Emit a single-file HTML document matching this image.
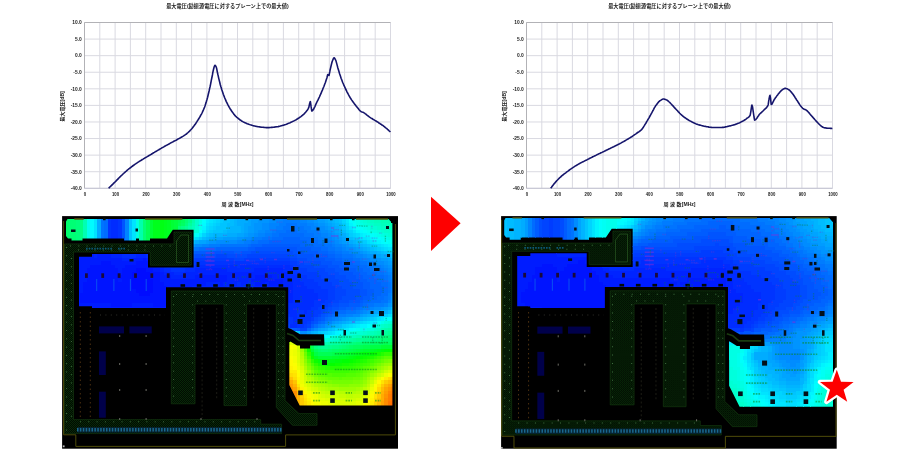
<!DOCTYPE html>
<html lang="ja"><head><meta charset="utf-8"><title>最大電圧</title>
<style>html,body{margin:0;padding:0;background:#fff}body{width:900px;height:450px;overflow:hidden}svg{display:block}</style>
</head><body>
<svg width="900" height="450" viewBox="0 0 900 450">
<defs><pattern id="hx" width="2" height="2" patternUnits="userSpaceOnUse"><rect width="2" height="2" fill="#010b01"/><rect width="1" height="1" fill="#082808"/><rect x="1" y="1" width="1" height="1" fill="#082808"/></pattern></defs>
<rect width="900" height="450" fill="#fff"/>
<g>
<rect x="84.5" y="22.5" width="306.0" height="165.8" fill="#fff"/>
<path d="M84.50 22.5V188.3M99.80 22.5V188.3M115.10 22.5V188.3M130.40 22.5V188.3M145.70 22.5V188.3M161.00 22.5V188.3M176.30 22.5V188.3M191.60 22.5V188.3M206.90 22.5V188.3M222.20 22.5V188.3M237.50 22.5V188.3M252.80 22.5V188.3M268.10 22.5V188.3M283.40 22.5V188.3M298.70 22.5V188.3M314.00 22.5V188.3M329.30 22.5V188.3M344.60 22.5V188.3M359.90 22.5V188.3M375.20 22.5V188.3M390.50 22.5V188.3M84.5 22.50H390.5M84.5 39.08H390.5M84.5 55.66H390.5M84.5 72.24H390.5M84.5 88.82H390.5M84.5 105.40H390.5M84.5 121.98H390.5M84.5 138.56H390.5M84.5 155.14H390.5M84.5 171.72H390.5M84.5 188.30H390.5" stroke="#d9d9e1" stroke-width="1" fill="none"/>
<path d="M390.5 22.5H84.5V188.3" stroke="#b2b2b6" stroke-width="1" fill="none"/>
<path d="M84.5 188.3H390.5" stroke="#c4c4d2" stroke-width="1" fill="none"/>
<polyline points="108.6,188.3 109.3,187.6 110.1,186.8 110.8,186.1 111.6,185.4 112.3,184.6 113.1,183.9 113.8,183.1 114.6,182.4 115.0,182.0 115.3,181.7 116.1,180.9 116.8,180.1 117.6,179.4 118.3,178.6 119.1,177.8 119.8,177.1 120.6,176.3 121.3,175.6 122.0,175.0 122.1,174.9 122.8,174.2 123.6,173.5 124.3,172.8 125.1,172.1 125.8,171.5 126.6,170.8 127.3,170.2 128.1,169.5 128.8,168.9 129.6,168.3 130.0,168.0 130.3,167.7 131.1,167.2 131.8,166.6 132.6,166.0 133.3,165.5 134.1,165.0 134.8,164.4 135.6,163.9 136.3,163.4 137.1,162.9 137.8,162.4 138.6,161.9 139.3,161.4 140.0,161.0 140.1,160.9 140.8,160.5 141.6,160.0 142.3,159.5 143.1,159.1 143.8,158.6 144.6,158.2 145.3,157.7 146.1,157.3 146.8,156.9 147.6,156.4 148.3,156.0 149.1,155.5 149.8,155.1 150.0,155.0 150.6,154.6 151.3,154.2 152.1,153.7 152.8,153.3 153.6,152.8 154.3,152.4 155.1,151.9 155.8,151.5 156.6,151.0 157.3,150.6 158.1,150.1 158.8,149.7 159.6,149.2 160.0,149.0 160.3,148.8 161.1,148.4 161.8,147.9 162.6,147.5 163.3,147.1 164.1,146.7 164.8,146.2 165.6,145.8 166.3,145.4 167.1,145.0 167.8,144.6 168.6,144.2 169.3,143.8 170.0,143.4 170.1,143.3 170.8,142.9 171.6,142.5 172.3,142.1 173.1,141.7 173.8,141.3 174.6,140.9 175.3,140.6 176.1,140.2 176.8,139.8 177.6,139.3 178.3,138.9 179.1,138.5 179.8,138.1 180.0,138.0 180.6,137.7 181.3,137.2 182.1,136.8 182.8,136.4 183.6,135.9 184.3,135.4 185.1,134.9 185.8,134.4 186.0,134.3 186.6,133.8 187.3,133.2 188.1,132.5 188.8,131.8 189.6,131.1 190.3,130.3 191.1,129.5 191.8,128.7 192.0,128.5 192.6,127.8 193.3,126.8 194.1,125.8 194.8,124.8 195.6,123.7 196.3,122.6 197.1,121.4 197.8,120.2 198.0,120.0 198.6,119.0 199.3,117.8 200.1,116.5 200.8,115.2 201.6,113.8 202.0,113.0 202.3,112.3 203.1,110.7 203.8,109.0 204.6,107.1 205.0,106.0 205.3,105.0 206.1,102.6 206.8,100.0 207.0,99.5 207.6,97.2 208.3,94.2 209.1,91.0 209.8,87.7 210.0,87.0 210.6,84.1 211.3,80.3 212.1,76.5 212.4,75.0 212.8,72.7 213.6,69.0 214.0,67.5 214.3,66.4 215.0,65.2 215.1,65.2 215.8,66.2 216.2,67.0 216.6,68.2 217.3,71.8 218.0,75.0 218.1,75.4 218.8,78.6 219.6,81.7 220.3,84.7 221.0,87.0 221.1,87.3 221.8,89.8 222.6,92.1 223.3,94.2 224.1,96.3 224.8,98.1 225.0,98.5 225.6,99.9 226.3,101.6 227.1,103.2 227.8,104.7 228.6,106.1 229.3,107.4 230.0,108.5 230.1,108.7 230.8,109.8 231.6,111.0 232.3,112.1 233.1,113.1 233.8,114.1 234.6,115.0 235.3,115.9 236.0,116.5 236.1,116.6 236.8,117.3 237.6,117.9 238.3,118.5 239.1,119.1 239.8,119.7 240.6,120.2 241.3,120.7 242.1,121.2 242.8,121.6 243.6,122.0 244.0,122.2 244.3,122.4 245.1,122.7 245.8,123.1 246.6,123.4 247.3,123.7 248.1,124.0 248.8,124.3 249.6,124.6 250.3,124.8 251.1,125.0 251.8,125.3 252.0,125.3 252.6,125.5 253.3,125.7 254.1,125.9 254.8,126.0 255.6,126.2 256.4,126.4 257.1,126.5 257.9,126.7 258.6,126.8 259.4,126.9 260.0,127.0 260.1,127.0 260.9,127.1 261.6,127.2 262.4,127.3 263.1,127.3 263.9,127.4 264.6,127.5 265.4,127.5 266.1,127.6 266.9,127.6 267.6,127.6 268.0,127.6 268.4,127.6 269.1,127.6 269.9,127.5 270.6,127.5 271.4,127.4 272.1,127.4 272.9,127.3 273.6,127.2 274.4,127.1 275.1,127.0 275.9,126.9 276.0,126.9 276.6,126.8 277.4,126.7 278.1,126.6 278.9,126.4 279.6,126.2 280.4,126.0 281.1,125.8 281.9,125.6 282.6,125.4 283.4,125.2 284.0,125.0 284.1,125.0 284.9,124.7 285.6,124.5 286.4,124.2 287.1,123.9 287.9,123.6 288.6,123.3 289.4,123.0 290.1,122.7 290.9,122.3 291.6,122.0 292.0,121.8 292.4,121.6 293.1,121.3 293.9,120.9 294.6,120.5 295.4,120.1 296.1,119.7 296.9,119.2 297.6,118.8 298.4,118.3 299.1,117.8 299.9,117.3 300.0,117.2 300.6,116.8 301.4,116.2 302.1,115.6 302.9,115.0 303.6,114.3 304.4,113.6 305.1,112.8 305.9,112.0 306.0,111.8 306.6,111.1 307.4,110.0 308.1,108.8 308.8,107.3 308.9,107.2 309.6,103.7 310.3,101.5 310.4,101.5 311.1,106.7 311.8,111.0 311.9,111.0 312.6,110.6 313.4,109.6 314.1,108.2 314.9,106.6 315.6,104.9 316.4,103.2 316.7,102.5 317.1,101.7 317.9,100.2 318.6,98.7 319.4,97.0 320.1,95.4 320.9,93.7 321.6,91.9 322.2,90.5 322.4,90.1 323.1,88.3 323.9,86.5 324.6,84.5 325.4,82.5 326.1,80.3 326.7,78.5 326.9,78.0 327.6,74.8 327.8,74.6 328.4,75.1 328.9,75.5 329.1,75.2 329.9,71.2 330.0,70.5 330.6,67.8 331.4,64.5 332.1,61.8 332.2,61.5 332.9,59.7 333.6,58.1 334.0,57.8 334.4,58.0 335.1,59.0 335.6,60.0 335.9,60.6 336.6,63.1 337.4,66.1 337.8,67.8 338.1,68.8 338.9,71.3 339.6,73.8 340.4,76.1 341.0,78.0 341.1,78.3 341.9,80.3 342.6,82.2 343.4,84.0 344.1,85.7 344.9,87.4 345.6,89.0 346.4,90.5 347.1,92.1 347.9,93.5 348.6,94.9 349.4,96.3 350.1,97.5 350.9,98.8 351.0,99.0 351.6,99.9 352.4,101.0 353.1,102.1 353.9,103.1 354.6,104.1 355.4,105.0 356.1,106.0 356.7,106.7 356.9,106.9 357.6,107.8 358.4,108.8 359.1,109.8 359.9,110.6 360.6,111.2 361.0,111.5 361.4,111.7 362.1,112.0 362.9,112.2 363.3,112.4 363.6,112.6 364.4,113.0 365.1,113.6 365.9,114.2 366.6,114.8 367.4,115.4 368.1,116.0 368.9,116.6 369.0,116.7 369.6,117.1 370.4,117.6 371.1,118.1 371.9,118.5 372.6,119.0 373.4,119.5 374.1,119.9 374.9,120.4 375.6,120.8 376.4,121.3 377.1,121.7 377.8,122.2 377.9,122.2 378.6,122.7 379.4,123.2 380.1,123.7 380.9,124.2 381.6,124.7 382.4,125.2 383.1,125.7 383.9,126.3 384.4,126.7 384.6,126.9 385.4,127.5 386.1,128.1 386.9,128.7 387.6,129.4 388.4,130.1 389.1,130.8 389.9,131.5 390.4,132.0" fill="none" stroke="#15156c" stroke-width="1.6" stroke-linejoin="round" stroke-linecap="butt"/>
<g font-family='"Liberation Sans", "Noto Sans CJK JP", sans-serif' font-size="4.9" font-weight="700" fill="#222" text-anchor="end">
<text x="81.8" y="24.30">10.0</text>
<text x="81.8" y="40.88">5.0</text>
<text x="81.8" y="57.46">0.0</text>
<text x="81.8" y="74.04">-5.0</text>
<text x="81.8" y="90.62">-10.0</text>
<text x="81.8" y="107.20">-15.0</text>
<text x="81.8" y="123.78">-20.0</text>
<text x="81.8" y="140.36">-25.0</text>
<text x="81.8" y="156.94">-30.0</text>
<text x="81.8" y="173.52">-35.0</text>
<text x="81.8" y="190.10">-40.0</text>
</g>
<g font-family='"Liberation Sans", "Noto Sans CJK JP", sans-serif' font-size="5" font-weight="700" fill="#222" text-anchor="middle">
<text transform="translate(84.90 196) scale(0.86 1)">0</text>
<text transform="translate(115.50 196) scale(0.86 1)">100</text>
<text transform="translate(146.10 196) scale(0.86 1)">200</text>
<text transform="translate(176.70 196) scale(0.86 1)">300</text>
<text transform="translate(207.30 196) scale(0.86 1)">400</text>
<text transform="translate(237.90 196) scale(0.86 1)">500</text>
<text transform="translate(268.50 196) scale(0.86 1)">600</text>
<text transform="translate(299.10 196) scale(0.86 1)">700</text>
<text transform="translate(329.70 196) scale(0.86 1)">800</text>
<text transform="translate(360.30 196) scale(0.86 1)">900</text>
<text transform="translate(390.90 196) scale(0.86 1)">1000</text>
</g>
<text x="227.4" y="7.5" font-family='"Liberation Sans", "Noto Sans CJK JP", sans-serif' font-size="5.2" font-weight="700" fill="#222" text-anchor="middle">最大電圧(励振源電圧に対するプレーン上での最大値)</text>
<text x="237.6" y="206.2" font-family='"Liberation Sans", "Noto Sans CJK JP", sans-serif' font-size="5.1" font-weight="700" fill="#222" text-anchor="middle">周 波 数[MHz]</text>
<text transform="translate(63.5 106.5) rotate(-90)" font-family='"Liberation Sans", "Noto Sans CJK JP", sans-serif' font-size="5.1" font-weight="700" fill="#222" text-anchor="middle">最大電圧[dB]</text>
</g>
<g>
<rect x="526.5" y="22.5" width="306.0" height="165.8" fill="#fff"/>
<path d="M526.50 22.5V188.3M541.80 22.5V188.3M557.10 22.5V188.3M572.40 22.5V188.3M587.70 22.5V188.3M603.00 22.5V188.3M618.30 22.5V188.3M633.60 22.5V188.3M648.90 22.5V188.3M664.20 22.5V188.3M679.50 22.5V188.3M694.80 22.5V188.3M710.10 22.5V188.3M725.40 22.5V188.3M740.70 22.5V188.3M756.00 22.5V188.3M771.30 22.5V188.3M786.60 22.5V188.3M801.90 22.5V188.3M817.20 22.5V188.3M832.50 22.5V188.3M526.5 22.50H832.5M526.5 39.08H832.5M526.5 55.66H832.5M526.5 72.24H832.5M526.5 88.82H832.5M526.5 105.40H832.5M526.5 121.98H832.5M526.5 138.56H832.5M526.5 155.14H832.5M526.5 171.72H832.5M526.5 188.30H832.5" stroke="#d9d9e1" stroke-width="1" fill="none"/>
<path d="M832.5 22.5H526.5V188.3" stroke="#b2b2b6" stroke-width="1" fill="none"/>
<path d="M526.5 188.3H832.5" stroke="#c4c4d2" stroke-width="1" fill="none"/>
<polyline points="550.7,188.3 551.5,187.3 552.2,186.3 553.0,185.3 553.7,184.3 554.5,183.4 555.2,182.5 556.0,181.6 556.7,180.8 557.5,180.0 558.2,179.2 558.7,178.7 559.0,178.5 559.7,177.7 560.5,177.1 561.2,176.4 562.0,175.7 562.7,175.1 563.5,174.5 564.2,173.9 565.0,173.3 565.7,172.8 566.5,172.2 566.7,172.0 567.2,171.6 568.0,171.1 568.7,170.5 569.5,170.0 570.2,169.4 571.0,168.9 571.7,168.4 572.5,167.9 573.2,167.4 574.0,166.9 574.7,166.4 575.5,165.9 576.2,165.5 577.0,165.0 577.3,164.8 577.7,164.6 578.5,164.1 579.2,163.7 580.0,163.3 580.7,162.9 581.5,162.5 582.2,162.1 583.0,161.7 583.7,161.4 584.5,161.0 585.2,160.6 586.0,160.2 586.7,159.9 587.5,159.5 588.0,159.2 588.2,159.1 589.0,158.7 589.7,158.3 590.5,158.0 591.2,157.6 592.0,157.2 592.7,156.8 593.5,156.5 594.2,156.1 595.0,155.7 595.7,155.4 596.5,155.0 597.2,154.6 598.0,154.3 598.7,153.9 599.5,153.5 600.2,153.2 601.0,152.8 601.7,152.5 602.5,152.1 603.2,151.7 604.0,151.4 604.7,151.0 605.5,150.7 606.2,150.3 607.0,149.9 607.7,149.6 608.5,149.2 609.2,148.8 609.3,148.8 610.0,148.5 610.7,148.1 611.5,147.8 612.2,147.4 613.0,147.0 613.7,146.7 614.5,146.3 615.2,145.9 616.0,145.6 616.7,145.2 617.5,144.8 618.2,144.4 619.0,144.1 619.7,143.7 620.0,143.5 620.5,143.3 621.2,142.9 622.0,142.4 622.7,142.0 623.5,141.6 624.2,141.2 625.0,140.8 625.7,140.3 626.5,139.9 627.2,139.4 628.0,139.0 628.7,138.5 629.5,138.1 630.2,137.6 630.7,137.3 631.0,137.1 631.7,136.7 632.5,136.2 633.2,135.7 634.0,135.1 634.7,134.6 635.5,134.1 636.2,133.6 637.0,133.0 637.3,132.8 637.7,132.5 638.5,132.0 639.2,131.6 640.0,131.0 640.7,130.4 641.3,129.9 641.5,129.7 642.2,128.9 643.0,127.8 643.7,126.6 644.5,125.4 645.2,124.2 645.3,124.0 646.0,123.0 646.7,121.7 647.5,120.4 648.2,119.1 649.0,117.8 649.7,116.5 650.5,115.1 650.7,114.7 651.2,113.8 652.0,112.4 652.7,111.0 653.5,109.6 654.2,108.2 655.0,106.9 655.7,105.7 656.0,105.3 656.5,104.7 657.2,103.7 658.0,102.7 658.7,101.8 659.5,101.1 660.0,100.7 660.2,100.6 661.0,100.1 661.7,99.6 662.5,99.2 663.2,99.0 663.5,99.0 664.0,99.0 664.7,99.2 665.5,99.5 666.2,99.8 666.7,100.0 667.0,100.1 667.7,100.6 668.5,101.3 669.2,102.0 670.0,102.7 670.7,103.5 671.5,104.3 672.2,105.1 673.0,105.9 673.7,106.7 674.5,107.6 675.2,108.4 676.0,109.2 676.0,109.3 676.7,110.0 677.5,110.8 678.2,111.6 679.0,112.4 679.7,113.2 680.5,114.0 681.2,114.7 682.0,115.4 682.7,116.0 683.5,116.6 684.2,117.2 685.0,117.7 685.7,118.2 686.5,118.8 687.2,119.2 688.0,119.7 688.7,120.2 689.3,120.5 689.5,120.6 690.2,121.0 691.0,121.4 691.7,121.8 692.5,122.2 693.2,122.6 694.0,122.9 694.7,123.3 695.5,123.6 696.2,123.9 697.0,124.2 697.3,124.3 697.7,124.4 698.5,124.7 699.2,124.9 700.0,125.1 700.7,125.3 701.5,125.5 702.2,125.7 703.0,125.9 703.7,126.1 704.5,126.2 705.2,126.4 705.3,126.4 706.0,126.5 706.7,126.7 707.5,126.8 708.2,126.9 709.0,127.1 709.7,127.2 710.5,127.3 711.2,127.4 712.0,127.5 712.7,127.5 713.3,127.5 713.5,127.5 714.2,127.5 715.0,127.5 715.7,127.5 716.5,127.5 717.2,127.5 718.0,127.5 718.7,127.5 719.5,127.5 720.2,127.5 721.0,127.5 721.3,127.5 721.7,127.5 722.5,127.4 723.2,127.4 724.0,127.2 724.7,127.1 725.5,126.9 726.2,126.8 727.0,126.6 727.7,126.4 728.5,126.2 729.2,126.0 729.3,126.0 730.0,125.9 730.7,125.7 731.5,125.5 732.2,125.3 733.0,125.1 733.7,124.9 734.5,124.7 735.2,124.4 736.0,124.2 736.2,124.1 736.7,123.9 737.5,123.6 738.2,123.3 739.0,123.0 739.7,122.7 740.5,122.3 741.2,121.9 742.0,121.5 742.4,121.3 742.7,121.1 743.5,120.7 744.2,120.3 745.0,119.8 745.7,119.3 746.5,118.7 747.1,118.2 747.2,118.1 748.0,117.6 748.7,117.1 749.5,116.3 750.2,115.1 751.0,110.7 751.0,110.4 751.7,105.5 751.9,105.0 752.5,106.7 753.2,111.4 753.3,112.0 754.0,117.0 754.6,120.1 754.7,120.1 755.5,119.8 756.2,119.0 757.0,118.0 757.7,116.8 758.5,115.7 759.2,114.6 759.5,114.3 760.0,113.8 760.7,113.1 761.5,112.4 762.2,111.7 763.0,111.0 763.7,110.2 764.2,109.7 764.5,109.4 765.2,108.8 766.0,108.2 766.7,107.4 767.5,106.3 768.1,105.0 768.2,104.6 768.9,99.5 769.0,99.2 769.7,95.8 770.0,95.3 770.5,98.2 771.2,104.5 772.0,104.0 772.7,102.7 773.5,101.1 774.2,99.7 774.3,99.5 775.0,98.5 775.7,97.4 776.5,96.4 777.2,95.4 778.0,94.4 778.2,94.1 778.7,93.5 779.5,92.6 780.2,91.7 781.0,90.9 781.7,90.2 782.1,89.9 782.5,89.7 783.2,89.1 784.0,88.7 784.7,88.4 785.2,88.3 785.5,88.3 786.2,88.5 787.0,88.7 787.7,89.1 788.3,89.4 788.5,89.5 789.2,90.0 790.0,90.7 790.7,91.5 791.5,92.4 792.2,93.3 793.0,94.3 793.7,95.3 794.5,96.5 795.2,97.7 796.0,98.8 796.7,100.0 796.9,100.3 797.5,101.1 798.2,102.3 799.0,103.5 799.7,104.6 800.5,105.7 801.2,106.6 801.5,107.0 802.0,107.5 802.7,108.3 803.1,108.6 803.5,108.8 804.2,109.2 805.0,109.5 805.7,109.8 806.2,110.1 806.5,110.3 807.2,110.9 808.0,111.7 808.7,112.5 809.5,113.4 810.2,114.3 810.9,115.1 811.0,115.2 811.7,116.0 812.5,116.9 813.2,117.7 814.0,118.6 814.7,119.5 815.5,120.3 816.2,121.2 817.0,121.9 817.1,122.1 817.7,122.7 818.5,123.5 819.2,124.3 820.0,125.0 820.7,125.7 821.5,126.3 821.8,126.5 822.2,126.7 823.0,127.2 823.7,127.5 824.5,127.8 824.9,127.9 825.2,127.9 826.0,128.0 826.7,128.1 827.5,128.2 828.2,128.2 829.0,128.3 829.5,128.3 829.7,128.3 830.5,128.4 831.2,128.4 832.0,128.5 832.4,128.5" fill="none" stroke="#15156c" stroke-width="1.6" stroke-linejoin="round" stroke-linecap="butt"/>
<g font-family='"Liberation Sans", "Noto Sans CJK JP", sans-serif' font-size="4.9" font-weight="700" fill="#222" text-anchor="end">
<text x="523.8" y="24.30">10.0</text>
<text x="523.8" y="40.88">5.0</text>
<text x="523.8" y="57.46">0.0</text>
<text x="523.8" y="74.04">-5.0</text>
<text x="523.8" y="90.62">-10.0</text>
<text x="523.8" y="107.20">-15.0</text>
<text x="523.8" y="123.78">-20.0</text>
<text x="523.8" y="140.36">-25.0</text>
<text x="523.8" y="156.94">-30.0</text>
<text x="523.8" y="173.52">-35.0</text>
<text x="523.8" y="190.10">-40.0</text>
</g>
<g font-family='"Liberation Sans", "Noto Sans CJK JP", sans-serif' font-size="5" font-weight="700" fill="#222" text-anchor="middle">
<text transform="translate(526.90 196) scale(0.86 1)">0</text>
<text transform="translate(557.50 196) scale(0.86 1)">100</text>
<text transform="translate(588.10 196) scale(0.86 1)">200</text>
<text transform="translate(618.70 196) scale(0.86 1)">300</text>
<text transform="translate(649.30 196) scale(0.86 1)">400</text>
<text transform="translate(679.90 196) scale(0.86 1)">500</text>
<text transform="translate(710.50 196) scale(0.86 1)">600</text>
<text transform="translate(741.10 196) scale(0.86 1)">700</text>
<text transform="translate(771.70 196) scale(0.86 1)">800</text>
<text transform="translate(802.30 196) scale(0.86 1)">900</text>
<text transform="translate(832.90 196) scale(0.86 1)">1000</text>
</g>
<text x="669.4" y="7.5" font-family='"Liberation Sans", "Noto Sans CJK JP", sans-serif' font-size="5.2" font-weight="700" fill="#222" text-anchor="middle">最大電圧(励振源電圧に対するプレーン上での最大値)</text>
<text x="679.6" y="206.2" font-family='"Liberation Sans", "Noto Sans CJK JP", sans-serif' font-size="5.1" font-weight="700" fill="#222" text-anchor="middle">周 波 数[MHz]</text>
<text transform="translate(505.5 106.5) rotate(-90)" font-family='"Liberation Sans", "Noto Sans CJK JP", sans-serif' font-size="5.1" font-weight="700" fill="#222" text-anchor="middle">最大電圧[dB]</text>
</g>
<g>
<rect x="62.1" y="216.1" width="335.9" height="232.6" fill="#000"/>
<g transform="matrix(1 0 0 1 0.00 0.00)">
<clipPath id="hc1"><polygon points="67.5,219.0 388.5,219.0 392.4,223.2 392.4,405.6 299.7,405.6 289.3,385.0 289.3,338.0 288.2,338.0 288.2,287.3 166.0,287.3 166.0,308.0 92.0,308.0 92.0,306.3 79.0,306.3 79.0,256.7 92.0,256.7 92.0,254.0 148.0,254.0 148.0,267.4 193.6,267.4 193.6,229.8 172.8,229.8 167.0,238.4 150.0,238.4 150.0,240.6 139.0,240.6 139.0,238.4 136.0,238.4 136.0,240.6 124.0,240.6 124.0,238.4 82.5,238.4 82.5,240.6 71.5,240.6 71.5,238.4 68.0,238.4 66.0,236.0 66.0,221.5"/></clipPath>
<g clip-path="url(#hc1)" shape-rendering="crispEdges">
<path fill="#00ff6c" d="M65.5 219.0h3.8v3.8h-3.8zM65.5 222.5h3.8v3.8h-3.8zM65.5 226.0h3.8v3.8h-3.8zM65.5 229.5h3.8v3.8h-3.8zM65.5 233.0h3.8v3.8h-3.8zM65.5 236.5h3.8v3.8h-3.8zM387.5 338.0h3.8v3.8h-3.8zM363.0 341.5h10.8v3.8h-10.8zM345.5 345.0h3.8v3.8h-3.8zM317.5 348.5h3.8v3.8h-3.8zM328.0 348.5h3.8v3.8h-3.8z"/>
<path fill="#00ff74" d="M69.0 219.0h7.3v3.8h-7.3zM142.5 219.0h3.8v3.8h-3.8zM184.5 219.0h3.8v3.8h-3.8zM69.0 222.5h7.3v3.8h-7.3zM142.5 222.5h3.8v3.8h-3.8zM69.0 226.0h7.3v3.8h-7.3zM142.5 226.0h3.8v3.8h-3.8zM177.5 226.0h3.8v3.8h-3.8zM69.0 229.5h7.3v3.8h-7.3zM142.5 229.5h3.8v3.8h-3.8zM69.0 233.0h7.3v3.8h-7.3zM142.5 233.0h3.8v3.8h-3.8zM69.0 236.5h7.3v3.8h-7.3zM142.5 236.5h3.8v3.8h-3.8zM69.0 240.0h7.3v3.8h-7.3zM142.5 240.0h3.8v3.8h-3.8zM293.0 334.5h3.8v3.8h-3.8zM380.5 338.0h7.3v3.8h-7.3zM356.0 341.5h7.3v3.8h-7.3zM342.0 345.0h3.8v3.8h-3.8zM321.0 348.5h7.3v3.8h-7.3z"/>
<path fill="#00ff7c" d="M76.0 219.0h3.8v3.8h-3.8zM76.0 222.5h3.8v3.8h-3.8zM184.5 222.5h3.8v3.8h-3.8zM76.0 226.0h3.8v3.8h-3.8zM76.0 229.5h3.8v3.8h-3.8zM76.0 233.0h3.8v3.8h-3.8zM76.0 236.5h3.8v3.8h-3.8zM76.0 240.0h3.8v3.8h-3.8zM387.5 334.5h7.3v3.8h-7.3zM303.5 338.0h3.8v3.8h-3.8zM377.0 338.0h3.8v3.8h-3.8zM352.5 341.5h3.8v3.8h-3.8zM314.0 345.0h3.8v3.8h-3.8zM338.5 345.0h3.8v3.8h-3.8z"/>
<path fill="#00ff84" d="M79.5 219.0h3.8v3.8h-3.8zM79.5 222.5h3.8v3.8h-3.8zM79.5 226.0h3.8v3.8h-3.8zM181.0 226.0h3.8v3.8h-3.8zM79.5 229.5h3.8v3.8h-3.8zM79.5 233.0h3.8v3.8h-3.8zM79.5 236.5h3.8v3.8h-3.8zM79.5 240.0h3.8v3.8h-3.8zM384.0 334.5h3.8v3.8h-3.8zM370.0 338.0h7.3v3.8h-7.3zM349.0 341.5h3.8v3.8h-3.8zM331.5 345.0h7.3v3.8h-7.3z"/>
<path fill="#00ffb4" d="M83.0 219.0h3.8v3.8h-3.8zM380.5 219.0h10.8v3.8h-10.8zM83.0 222.5h3.8v3.8h-3.8zM191.5 222.5h3.8v3.8h-3.8zM387.5 222.5h7.3v3.8h-7.3zM83.0 226.0h3.8v3.8h-3.8zM83.0 229.5h3.8v3.8h-3.8zM184.5 229.5h3.8v3.8h-3.8zM83.0 233.0h3.8v3.8h-3.8zM83.0 236.5h3.8v3.8h-3.8zM391.0 324.0h3.8v3.8h-3.8zM380.5 327.5h3.8v3.8h-3.8zM373.5 331.0h3.8v3.8h-3.8zM356.0 334.5h7.3v3.8h-7.3zM342.0 338.0h3.8v3.8h-3.8zM317.5 341.5h10.8v3.8h-10.8z"/>
<path fill="#00ffec" d="M86.5 219.0h3.8v3.8h-3.8zM356.0 219.0h3.8v3.8h-3.8zM86.5 222.5h3.8v3.8h-3.8zM198.5 222.5h3.8v3.8h-3.8zM356.0 222.5h3.8v3.8h-3.8zM86.5 226.0h3.8v3.8h-3.8zM198.5 226.0h3.8v3.8h-3.8zM363.0 226.0h3.8v3.8h-3.8zM86.5 229.5h3.8v3.8h-3.8zM86.5 233.0h3.8v3.8h-3.8zM191.5 233.0h3.8v3.8h-3.8zM377.0 233.0h3.8v3.8h-3.8zM86.5 236.5h3.8v3.8h-3.8zM384.0 236.5h3.8v3.8h-3.8zM391.0 240.0h3.8v3.8h-3.8zM380.5 320.5h3.8v3.8h-3.8zM373.5 324.0h3.8v3.8h-3.8zM359.5 327.5h7.3v3.8h-7.3zM345.5 331.0h3.8v3.8h-3.8zM335.0 334.5h3.8v3.8h-3.8z"/>
<path fill="#00fbff" d="M90.0 219.0h3.8v3.8h-3.8zM349.0 219.0h3.8v3.8h-3.8zM90.0 222.5h3.8v3.8h-3.8zM202.0 222.5h3.8v3.8h-3.8zM90.0 226.0h3.8v3.8h-3.8zM90.0 229.5h3.8v3.8h-3.8zM359.5 229.5h3.8v3.8h-3.8zM90.0 233.0h3.8v3.8h-3.8zM366.5 233.0h3.8v3.8h-3.8zM90.0 236.5h3.8v3.8h-3.8zM373.5 236.5h3.8v3.8h-3.8zM380.5 240.0h3.8v3.8h-3.8zM391.0 243.5h3.8v3.8h-3.8zM384.0 317.0h3.8v3.8h-3.8zM349.0 327.5h3.8v3.8h-3.8zM338.5 331.0h3.8v3.8h-3.8zM324.5 334.5h3.8v3.8h-3.8z"/>
<path fill="#00e4ff" d="M93.5 219.0h3.8v3.8h-3.8zM132.0 219.0h3.8v3.8h-3.8zM209.0 219.0h3.8v3.8h-3.8zM345.5 219.0h3.8v3.8h-3.8zM93.5 222.5h3.8v3.8h-3.8zM132.0 222.5h3.8v3.8h-3.8zM205.5 222.5h3.8v3.8h-3.8zM93.5 226.0h3.8v3.8h-3.8zM132.0 226.0h3.8v3.8h-3.8zM349.0 226.0h3.8v3.8h-3.8zM93.5 229.5h3.8v3.8h-3.8zM132.0 229.5h3.8v3.8h-3.8zM352.5 229.5h3.8v3.8h-3.8zM93.5 233.0h3.8v3.8h-3.8zM132.0 233.0h3.8v3.8h-3.8zM93.5 236.5h3.8v3.8h-3.8zM132.0 236.5h3.8v3.8h-3.8zM363.0 236.5h3.8v3.8h-3.8zM132.0 240.0h3.8v3.8h-3.8zM370.0 240.0h3.8v3.8h-3.8zM380.5 243.5h3.8v3.8h-3.8zM387.5 247.0h7.3v3.8h-7.3zM377.0 317.0h3.8v3.8h-3.8zM366.5 320.5h3.8v3.8h-3.8zM352.5 324.0h3.8v3.8h-3.8zM342.0 327.5h3.8v3.8h-3.8zM293.0 331.0h3.8v3.8h-3.8zM331.5 331.0h3.8v3.8h-3.8z"/>
<path fill="#00acff" d="M97.0 219.0h3.8v3.8h-3.8zM237.0 219.0h10.8v3.8h-10.8zM328.0 219.0h3.8v3.8h-3.8zM97.0 222.5h3.8v3.8h-3.8zM237.0 222.5h7.3v3.8h-7.3zM331.5 222.5h3.8v3.8h-3.8zM97.0 226.0h3.8v3.8h-3.8zM240.5 226.0h3.8v3.8h-3.8zM335.0 226.0h3.8v3.8h-3.8zM97.0 229.5h3.8v3.8h-3.8zM240.5 229.5h3.8v3.8h-3.8zM338.5 229.5h3.8v3.8h-3.8zM97.0 233.0h3.8v3.8h-3.8zM226.5 233.0h10.8v3.8h-10.8zM342.0 233.0h3.8v3.8h-3.8zM97.0 236.5h3.8v3.8h-3.8zM209.0 236.5h3.8v3.8h-3.8zM345.5 236.5h3.8v3.8h-3.8zM195.0 240.0h3.8v3.8h-3.8zM349.0 240.0h3.8v3.8h-3.8zM356.0 243.5h3.8v3.8h-3.8zM363.0 247.0h3.8v3.8h-3.8zM370.0 250.5h7.3v3.8h-7.3zM380.5 254.0h7.3v3.8h-7.3zM380.5 310.0h7.3v3.8h-7.3zM366.5 313.5h3.8v3.8h-3.8zM356.0 317.0h3.8v3.8h-3.8zM342.0 320.5h3.8v3.8h-3.8zM331.5 324.0h3.8v3.8h-3.8zM324.5 327.5h3.8v3.8h-3.8zM310.5 331.0h3.8v3.8h-3.8z"/>
<path fill="#0074ff" d="M100.5 219.0h3.8v3.8h-3.8zM100.5 222.5h3.8v3.8h-3.8zM286.0 222.5h10.8v3.8h-10.8zM100.5 226.0h3.8v3.8h-3.8zM282.5 226.0h21.3v3.8h-21.3zM100.5 229.5h3.8v3.8h-3.8zM275.5 229.5h10.8v3.8h-10.8zM296.5 229.5h10.8v3.8h-10.8zM100.5 233.0h3.8v3.8h-3.8zM272.0 233.0h7.3v3.8h-7.3zM303.5 233.0h10.8v3.8h-10.8zM100.5 236.5h3.8v3.8h-3.8zM261.5 236.5h10.8v3.8h-10.8zM310.5 236.5h7.3v3.8h-7.3zM251.0 240.0h7.3v3.8h-7.3zM317.5 240.0h7.3v3.8h-7.3zM219.5 243.5h28.3v3.8h-28.3zM324.5 243.5h7.3v3.8h-7.3zM195.0 247.0h3.8v3.8h-3.8zM328.0 247.0h7.3v3.8h-7.3zM335.0 250.5h7.3v3.8h-7.3zM342.0 254.0h10.8v3.8h-10.8zM352.5 257.5h7.3v3.8h-7.3zM359.5 261.0h7.3v3.8h-7.3zM366.5 264.5h7.3v3.8h-7.3zM370.0 268.0h10.8v3.8h-10.8zM377.0 271.5h7.3v3.8h-7.3zM384.0 275.0h3.8v3.8h-3.8zM384.0 278.5h3.8v3.8h-3.8zM387.5 282.0h3.8v3.8h-3.8zM387.5 285.5h3.8v3.8h-3.8zM387.5 289.0h3.8v3.8h-3.8zM384.0 296.0h3.8v3.8h-3.8zM380.5 299.5h7.3v3.8h-7.3zM366.5 303.0h7.3v3.8h-7.3zM359.5 306.5h3.8v3.8h-3.8zM345.5 310.0h10.8v3.8h-10.8zM335.0 313.5h3.8v3.8h-3.8zM328.0 317.0h3.8v3.8h-3.8z"/>
<path fill="#006cff" d="M104.0 219.0h3.8v3.8h-3.8zM104.0 222.5h3.8v3.8h-3.8zM104.0 226.0h3.8v3.8h-3.8zM104.0 229.5h3.8v3.8h-3.8zM286.0 229.5h10.8v3.8h-10.8zM104.0 233.0h3.8v3.8h-3.8zM279.0 233.0h24.8v3.8h-24.8zM104.0 236.5h3.8v3.8h-3.8zM272.0 236.5h10.8v3.8h-10.8zM300.0 236.5h10.8v3.8h-10.8zM258.0 240.0h10.8v3.8h-10.8zM307.0 240.0h10.8v3.8h-10.8zM247.5 243.5h3.8v3.8h-3.8zM314.0 243.5h10.8v3.8h-10.8zM198.5 247.0h17.8v3.8h-17.8zM321.0 247.0h7.3v3.8h-7.3zM328.0 250.5h7.3v3.8h-7.3zM335.0 254.0h7.3v3.8h-7.3zM342.0 257.5h10.8v3.8h-10.8zM352.5 261.0h7.3v3.8h-7.3zM359.5 264.5h7.3v3.8h-7.3zM363.0 268.0h7.3v3.8h-7.3zM366.5 271.5h10.8v3.8h-10.8zM373.5 275.0h10.8v3.8h-10.8zM377.0 278.5h7.3v3.8h-7.3zM380.5 282.0h7.3v3.8h-7.3zM384.0 285.5h3.8v3.8h-3.8zM384.0 289.0h3.8v3.8h-3.8zM380.5 292.5h7.3v3.8h-7.3zM377.0 296.0h7.3v3.8h-7.3zM370.0 299.5h10.8v3.8h-10.8zM363.0 303.0h3.8v3.8h-3.8zM356.0 306.5h3.8v3.8h-3.8zM338.5 310.0h7.3v3.8h-7.3zM331.5 313.5h3.8v3.8h-3.8zM324.5 317.0h3.8v3.8h-3.8zM321.0 320.5h3.8v3.8h-3.8zM314.0 324.0h3.8v3.8h-3.8z"/>
<path fill="#0034ff" d="M107.5 219.0h3.8v3.8h-3.8zM118.0 219.0h3.8v3.8h-3.8zM107.5 222.5h3.8v3.8h-3.8zM118.0 222.5h3.8v3.8h-3.8zM107.5 226.0h3.8v3.8h-3.8zM118.0 226.0h3.8v3.8h-3.8zM107.5 229.5h3.8v3.8h-3.8zM118.0 229.5h3.8v3.8h-3.8zM107.5 233.0h3.8v3.8h-3.8zM118.0 233.0h3.8v3.8h-3.8zM107.5 236.5h3.8v3.8h-3.8zM118.0 236.5h3.8v3.8h-3.8zM195.0 261.0h94.8v3.8h-94.8zM163.5 264.5h3.8v3.8h-3.8zM188.0 264.5h7.3v3.8h-7.3zM237.0 264.5h3.8v3.8h-3.8zM289.5 264.5h3.8v3.8h-3.8zM170.5 268.0h14.3v3.8h-14.3zM293.0 268.0h3.8v3.8h-3.8zM293.0 271.5h7.3v3.8h-7.3zM296.5 275.0h10.8v3.8h-10.8zM300.0 278.5h14.3v3.8h-14.3zM303.5 282.0h14.3v3.8h-14.3zM307.0 285.5h14.3v3.8h-14.3zM314.0 289.0h14.3v3.8h-14.3zM317.5 292.5h10.8v3.8h-10.8zM317.5 296.0h10.8v3.8h-10.8zM314.0 299.5h10.8v3.8h-10.8zM314.0 303.0h7.3v3.8h-7.3zM310.5 306.5h7.3v3.8h-7.3zM296.5 310.0h7.3v3.8h-7.3zM307.0 310.0h7.3v3.8h-7.3zM286.0 313.5h3.8v3.8h-3.8zM296.5 313.5h17.8v3.8h-17.8zM289.5 317.0h3.8v3.8h-3.8zM296.5 317.0h14.3v3.8h-14.3zM289.5 320.5h3.8v3.8h-3.8zM296.5 320.5h10.8v3.8h-10.8zM296.5 324.0h7.3v3.8h-7.3z"/>
<path fill="#002cff" d="M111.0 219.0h7.3v3.8h-7.3zM111.0 222.5h7.3v3.8h-7.3zM111.0 226.0h7.3v3.8h-7.3zM111.0 229.5h7.3v3.8h-7.3zM111.0 233.0h7.3v3.8h-7.3zM111.0 236.5h7.3v3.8h-7.3zM121.5 254.0h14.3v3.8h-14.3zM146.0 254.0h3.8v3.8h-3.8zM160.0 264.5h3.8v3.8h-3.8zM195.0 264.5h42.3v3.8h-42.3zM240.5 264.5h49.3v3.8h-49.3zM163.5 268.0h7.3v3.8h-7.3zM184.5 268.0h10.8v3.8h-10.8zM226.5 268.0h28.3v3.8h-28.3zM282.5 268.0h10.8v3.8h-10.8zM174.0 271.5h10.8v3.8h-10.8zM289.5 271.5h3.8v3.8h-3.8zM289.5 275.0h7.3v3.8h-7.3zM293.0 278.5h7.3v3.8h-7.3zM237.0 282.0h3.8v3.8h-3.8zM293.0 282.0h10.8v3.8h-10.8zM226.5 285.5h24.8v3.8h-24.8zM293.0 285.5h14.3v3.8h-14.3zM293.0 289.0h21.3v3.8h-21.3zM293.0 292.5h24.8v3.8h-24.8zM293.0 296.0h24.8v3.8h-24.8zM293.0 299.5h21.3v3.8h-21.3zM286.0 303.0h28.3v3.8h-28.3zM286.0 306.5h24.8v3.8h-24.8zM286.0 310.0h10.8v3.8h-10.8zM303.5 310.0h3.8v3.8h-3.8zM289.5 313.5h7.3v3.8h-7.3zM293.0 317.0h3.8v3.8h-3.8zM293.0 320.5h3.8v3.8h-3.8zM289.5 324.0h7.3v3.8h-7.3z"/>
<path fill="#0054ff" d="M121.5 219.0h3.8v3.8h-3.8zM121.5 222.5h3.8v3.8h-3.8zM121.5 226.0h3.8v3.8h-3.8zM121.5 229.5h3.8v3.8h-3.8zM121.5 233.0h3.8v3.8h-3.8zM121.5 236.5h3.8v3.8h-3.8zM121.5 240.0h3.8v3.8h-3.8zM254.5 247.0h42.3v3.8h-42.3zM212.5 250.5h21.3v3.8h-21.3zM240.5 250.5h10.8v3.8h-10.8zM293.0 250.5h10.8v3.8h-10.8zM191.5 254.0h3.8v3.8h-3.8zM296.5 254.0h17.8v3.8h-17.8zM307.0 257.5h17.8v3.8h-17.8zM321.0 261.0h10.8v3.8h-10.8zM328.0 264.5h10.8v3.8h-10.8zM335.0 268.0h10.8v3.8h-10.8zM338.5 271.5h14.3v3.8h-14.3zM345.5 275.0h10.8v3.8h-10.8zM349.0 278.5h10.8v3.8h-10.8zM352.5 282.0h10.8v3.8h-10.8zM352.5 285.5h10.8v3.8h-10.8zM359.5 289.0h7.3v3.8h-7.3zM359.5 292.5h7.3v3.8h-7.3zM356.0 296.0h7.3v3.8h-7.3zM349.0 299.5h10.8v3.8h-10.8zM338.5 303.0h10.8v3.8h-10.8zM331.5 306.5h7.3v3.8h-7.3zM328.0 310.0h3.8v3.8h-3.8zM321.0 313.5h3.8v3.8h-3.8zM317.5 317.0h3.8v3.8h-3.8zM314.0 320.5h3.8v3.8h-3.8zM296.5 327.5h3.8v3.8h-3.8z"/>
<path fill="#0084ff" d="M125.0 219.0h3.8v3.8h-3.8zM275.5 219.0h7.3v3.8h-7.3zM300.0 219.0h7.3v3.8h-7.3zM125.0 222.5h3.8v3.8h-3.8zM268.5 222.5h10.8v3.8h-10.8zM307.0 222.5h7.3v3.8h-7.3zM125.0 226.0h3.8v3.8h-3.8zM268.5 226.0h7.3v3.8h-7.3zM310.5 226.0h7.3v3.8h-7.3zM125.0 229.5h3.8v3.8h-3.8zM265.0 229.5h7.3v3.8h-7.3zM317.5 229.5h3.8v3.8h-3.8zM125.0 233.0h3.8v3.8h-3.8zM258.0 233.0h7.3v3.8h-7.3zM321.0 233.0h7.3v3.8h-7.3zM125.0 236.5h3.8v3.8h-3.8zM251.0 236.5h3.8v3.8h-3.8zM324.5 236.5h7.3v3.8h-7.3zM125.0 240.0h3.8v3.8h-3.8zM237.0 240.0h7.3v3.8h-7.3zM331.5 240.0h3.8v3.8h-3.8zM202.0 243.5h7.3v3.8h-7.3zM335.0 243.5h7.3v3.8h-7.3zM342.0 247.0h3.8v3.8h-3.8zM349.0 250.5h3.8v3.8h-3.8zM356.0 254.0h7.3v3.8h-7.3zM363.0 257.5h7.3v3.8h-7.3zM373.5 261.0h3.8v3.8h-3.8zM380.5 264.5h3.8v3.8h-3.8zM384.0 268.0h3.8v3.8h-3.8zM387.5 271.5h3.8v3.8h-3.8zM391.0 278.5h3.8v3.8h-3.8zM391.0 282.0h3.8v3.8h-3.8zM391.0 285.5h3.8v3.8h-3.8zM391.0 289.0h3.8v3.8h-3.8zM387.5 299.5h3.8v3.8h-3.8zM384.0 303.0h3.8v3.8h-3.8zM370.0 306.5h3.8v3.8h-3.8zM359.5 310.0h3.8v3.8h-3.8zM345.5 313.5h7.3v3.8h-7.3zM335.0 317.0h3.8v3.8h-3.8zM328.0 320.5h3.8v3.8h-3.8zM321.0 324.0h3.8v3.8h-3.8z"/>
<path fill="#00c4ff" d="M128.5 219.0h3.8v3.8h-3.8zM223.0 219.0h7.3v3.8h-7.3zM338.5 219.0h3.8v3.8h-3.8zM128.5 222.5h3.8v3.8h-3.8zM219.5 222.5h7.3v3.8h-7.3zM128.5 226.0h3.8v3.8h-3.8zM216.0 226.0h10.8v3.8h-10.8zM342.0 226.0h3.8v3.8h-3.8zM128.5 229.5h3.8v3.8h-3.8zM212.5 229.5h10.8v3.8h-10.8zM128.5 233.0h3.8v3.8h-3.8zM205.5 233.0h3.8v3.8h-3.8zM128.5 236.5h3.8v3.8h-3.8zM352.5 236.5h3.8v3.8h-3.8zM128.5 240.0h3.8v3.8h-3.8zM359.5 240.0h3.8v3.8h-3.8zM366.5 243.5h3.8v3.8h-3.8zM373.5 247.0h3.8v3.8h-3.8zM384.0 250.5h3.8v3.8h-3.8zM391.0 254.0h3.8v3.8h-3.8zM377.0 313.5h7.3v3.8h-7.3zM366.5 317.0h3.8v3.8h-3.8zM352.5 320.5h3.8v3.8h-3.8zM331.5 327.5h3.8v3.8h-3.8zM296.5 331.0h3.8v3.8h-3.8zM317.5 331.0h3.8v3.8h-3.8z"/>
<path fill="#00ffe4" d="M135.5 219.0h3.8v3.8h-3.8zM198.5 219.0h3.8v3.8h-3.8zM135.5 222.5h3.8v3.8h-3.8zM359.5 222.5h3.8v3.8h-3.8zM135.5 226.0h3.8v3.8h-3.8zM366.5 226.0h3.8v3.8h-3.8zM135.5 229.5h3.8v3.8h-3.8zM370.0 229.5h7.3v3.8h-7.3zM135.5 233.0h3.8v3.8h-3.8zM380.5 233.0h3.8v3.8h-3.8zM135.5 236.5h3.8v3.8h-3.8zM387.5 236.5h3.8v3.8h-3.8zM366.5 327.5h3.8v3.8h-3.8zM349.0 331.0h3.8v3.8h-3.8zM338.5 334.5h3.8v3.8h-3.8zM317.5 338.0h3.8v3.8h-3.8z"/>
<path fill="#00ffac" d="M139.0 219.0h3.8v3.8h-3.8zM191.5 219.0h3.8v3.8h-3.8zM139.0 222.5h3.8v3.8h-3.8zM139.0 226.0h3.8v3.8h-3.8zM188.0 226.0h3.8v3.8h-3.8zM139.0 229.5h3.8v3.8h-3.8zM139.0 233.0h3.8v3.8h-3.8zM139.0 236.5h3.8v3.8h-3.8zM139.0 240.0h3.8v3.8h-3.8zM384.0 327.5h3.8v3.8h-3.8zM377.0 331.0h3.8v3.8h-3.8zM363.0 334.5h3.8v3.8h-3.8zM307.0 338.0h3.8v3.8h-3.8zM345.5 338.0h3.8v3.8h-3.8zM328.0 341.5h3.8v3.8h-3.8z"/>
<path fill="#00ff54" d="M146.0 219.0h3.8v3.8h-3.8zM146.0 222.5h3.8v3.8h-3.8zM177.5 222.5h3.8v3.8h-3.8zM146.0 226.0h3.8v3.8h-3.8zM146.0 229.5h3.8v3.8h-3.8zM146.0 233.0h3.8v3.8h-3.8zM146.0 236.5h3.8v3.8h-3.8zM146.0 240.0h3.8v3.8h-3.8zM384.0 341.5h3.8v3.8h-3.8zM391.0 341.5h3.8v3.8h-3.8zM310.5 345.0h3.8v3.8h-3.8zM359.5 345.0h3.8v3.8h-3.8zM342.0 348.5h7.3v3.8h-7.3zM317.5 352.0h14.3v3.8h-14.3z"/>
<path fill="#00ff34" d="M149.5 219.0h3.8v3.8h-3.8zM170.5 219.0h3.8v3.8h-3.8zM149.5 222.5h3.8v3.8h-3.8zM170.5 222.5h3.8v3.8h-3.8zM149.5 226.0h3.8v3.8h-3.8zM170.5 226.0h3.8v3.8h-3.8zM149.5 229.5h3.8v3.8h-3.8zM170.5 229.5h3.8v3.8h-3.8zM149.5 233.0h3.8v3.8h-3.8zM149.5 236.5h3.8v3.8h-3.8zM149.5 240.0h3.8v3.8h-3.8zM380.5 345.0h10.8v3.8h-10.8zM310.5 348.5h3.8v3.8h-3.8zM359.5 348.5h3.8v3.8h-3.8zM345.5 352.0h3.8v3.8h-3.8zM317.5 355.5h14.3v3.8h-14.3z"/>
<path fill="#00ff1c" d="M153.0 219.0h7.3v3.8h-7.3zM163.5 219.0h3.8v3.8h-3.8zM153.0 222.5h7.3v3.8h-7.3zM163.5 222.5h3.8v3.8h-3.8zM153.0 226.0h7.3v3.8h-7.3zM163.5 226.0h3.8v3.8h-3.8zM153.0 229.5h7.3v3.8h-7.3zM163.5 229.5h3.8v3.8h-3.8zM153.0 233.0h7.3v3.8h-7.3zM163.5 233.0h3.8v3.8h-3.8zM153.0 236.5h7.3v3.8h-7.3zM163.5 236.5h3.8v3.8h-3.8zM303.5 341.5h3.8v3.8h-3.8zM307.0 345.0h3.8v3.8h-3.8zM373.5 348.5h3.8v3.8h-3.8zM356.0 352.0h3.8v3.8h-3.8zM345.5 355.5h3.8v3.8h-3.8zM324.5 359.0h3.8v3.8h-3.8z"/>
<path fill="#00ff14" d="M160.0 219.0h3.8v3.8h-3.8zM160.0 222.5h3.8v3.8h-3.8zM160.0 226.0h3.8v3.8h-3.8zM160.0 229.5h3.8v3.8h-3.8zM160.0 233.0h3.8v3.8h-3.8zM160.0 236.5h3.8v3.8h-3.8zM377.0 348.5h3.8v3.8h-3.8zM310.5 352.0h3.8v3.8h-3.8zM359.5 352.0h3.8v3.8h-3.8zM349.0 355.5h3.8v3.8h-3.8zM321.0 359.0h3.8v3.8h-3.8zM328.0 359.0h7.3v3.8h-7.3z"/>
<path fill="#00ff24" d="M167.0 219.0h3.8v3.8h-3.8zM167.0 222.5h3.8v3.8h-3.8zM167.0 226.0h3.8v3.8h-3.8zM167.0 229.5h3.8v3.8h-3.8zM167.0 233.0h3.8v3.8h-3.8zM167.0 236.5h3.8v3.8h-3.8zM370.0 348.5h3.8v3.8h-3.8zM352.5 352.0h3.8v3.8h-3.8zM314.0 355.5h3.8v3.8h-3.8zM338.5 355.5h7.3v3.8h-7.3z"/>
<path fill="#00ff3c" d="M174.0 219.0h3.8v3.8h-3.8zM174.0 222.5h3.8v3.8h-3.8zM174.0 226.0h3.8v3.8h-3.8zM174.0 229.5h3.8v3.8h-3.8zM300.0 338.0h3.8v3.8h-3.8zM356.0 348.5h3.8v3.8h-3.8zM338.5 352.0h7.3v3.8h-7.3z"/>
<path fill="#00ff4c" d="M177.5 219.0h3.8v3.8h-3.8zM363.0 345.0h7.3v3.8h-7.3zM349.0 348.5h3.8v3.8h-3.8zM331.5 352.0h3.8v3.8h-3.8z"/>
<path fill="#00ff5c" d="M181.0 219.0h3.8v3.8h-3.8zM286.0 334.5h3.8v3.8h-3.8zM307.0 341.5h3.8v3.8h-3.8zM380.5 341.5h3.8v3.8h-3.8zM387.5 341.5h3.8v3.8h-3.8zM352.5 345.0h7.3v3.8h-7.3zM314.0 348.5h3.8v3.8h-3.8zM338.5 348.5h3.8v3.8h-3.8z"/>
<path fill="#00ff8c" d="M188.0 219.0h3.8v3.8h-3.8zM391.0 331.0h3.8v3.8h-3.8zM380.5 334.5h3.8v3.8h-3.8zM363.0 338.0h7.3v3.8h-7.3zM310.5 341.5h3.8v3.8h-3.8zM345.5 341.5h3.8v3.8h-3.8zM317.5 345.0h3.8v3.8h-3.8zM328.0 345.0h3.8v3.8h-3.8z"/>
<path fill="#00ffcc" d="M195.0 219.0h3.8v3.8h-3.8zM366.5 219.0h3.8v3.8h-3.8zM195.0 222.5h3.8v3.8h-3.8zM370.0 222.5h3.8v3.8h-3.8zM377.0 226.0h3.8v3.8h-3.8zM191.5 229.5h3.8v3.8h-3.8zM384.0 229.5h7.3v3.8h-7.3zM380.5 324.0h3.8v3.8h-3.8zM373.5 327.5h3.8v3.8h-3.8zM363.0 331.0h3.8v3.8h-3.8zM345.5 334.5h3.8v3.8h-3.8zM310.5 338.0h3.8v3.8h-3.8zM331.5 338.0h3.8v3.8h-3.8z"/>
<path fill="#00fffb" d="M202.0 219.0h3.8v3.8h-3.8zM352.5 222.5h3.8v3.8h-3.8zM356.0 226.0h3.8v3.8h-3.8zM198.5 229.5h3.8v3.8h-3.8zM363.0 229.5h3.8v3.8h-3.8zM195.0 233.0h3.8v3.8h-3.8zM370.0 233.0h3.8v3.8h-3.8zM377.0 236.5h3.8v3.8h-3.8zM384.0 240.0h3.8v3.8h-3.8zM387.5 317.0h3.8v3.8h-3.8zM377.0 320.5h3.8v3.8h-3.8zM352.5 327.5h3.8v3.8h-3.8zM286.0 331.0h3.8v3.8h-3.8zM342.0 331.0h3.8v3.8h-3.8zM303.5 334.5h3.8v3.8h-3.8zM328.0 334.5h3.8v3.8h-3.8z"/>
<path fill="#00ecff" d="M205.5 219.0h3.8v3.8h-3.8zM202.0 229.5h3.8v3.8h-3.8zM198.5 233.0h3.8v3.8h-3.8zM359.5 233.0h3.8v3.8h-3.8zM191.5 236.5h3.8v3.8h-3.8zM366.5 236.5h3.8v3.8h-3.8zM373.5 240.0h3.8v3.8h-3.8zM384.0 243.5h3.8v3.8h-3.8zM391.0 313.5h3.8v3.8h-3.8zM380.5 317.0h3.8v3.8h-3.8zM370.0 320.5h3.8v3.8h-3.8zM356.0 324.0h3.8v3.8h-3.8zM345.5 327.5h3.8v3.8h-3.8zM310.5 334.5h10.8v3.8h-10.8z"/>
<path fill="#00dcff" d="M212.5 219.0h3.8v3.8h-3.8zM209.0 222.5h3.8v3.8h-3.8zM345.5 222.5h3.8v3.8h-3.8zM205.5 226.0h3.8v3.8h-3.8zM356.0 233.0h3.8v3.8h-3.8zM195.0 236.5h3.8v3.8h-3.8zM359.5 236.5h3.8v3.8h-3.8zM366.5 240.0h3.8v3.8h-3.8zM377.0 243.5h3.8v3.8h-3.8zM384.0 247.0h3.8v3.8h-3.8zM387.5 313.5h3.8v3.8h-3.8zM363.0 320.5h3.8v3.8h-3.8zM349.0 324.0h3.8v3.8h-3.8zM338.5 327.5h3.8v3.8h-3.8zM328.0 331.0h3.8v3.8h-3.8z"/>
<path fill="#00d4ff" d="M216.0 219.0h3.8v3.8h-3.8zM342.0 219.0h3.8v3.8h-3.8zM212.5 222.5h3.8v3.8h-3.8zM209.0 226.0h3.8v3.8h-3.8zM345.5 226.0h3.8v3.8h-3.8zM205.5 229.5h3.8v3.8h-3.8zM349.0 229.5h3.8v3.8h-3.8zM202.0 233.0h3.8v3.8h-3.8zM352.5 233.0h3.8v3.8h-3.8zM373.5 243.5h3.8v3.8h-3.8zM380.5 247.0h3.8v3.8h-3.8zM391.0 250.5h3.8v3.8h-3.8zM391.0 310.0h3.8v3.8h-3.8zM373.5 317.0h3.8v3.8h-3.8zM359.5 320.5h3.8v3.8h-3.8zM345.5 324.0h3.8v3.8h-3.8zM335.0 327.5h3.8v3.8h-3.8zM324.5 331.0h3.8v3.8h-3.8z"/>
<path fill="#00ccff" d="M219.5 219.0h3.8v3.8h-3.8zM216.0 222.5h3.8v3.8h-3.8zM342.0 222.5h3.8v3.8h-3.8zM212.5 226.0h3.8v3.8h-3.8zM209.0 229.5h3.8v3.8h-3.8zM345.5 229.5h3.8v3.8h-3.8zM349.0 233.0h3.8v3.8h-3.8zM198.5 236.5h3.8v3.8h-3.8zM356.0 236.5h3.8v3.8h-3.8zM363.0 240.0h3.8v3.8h-3.8zM370.0 243.5h3.8v3.8h-3.8zM377.0 247.0h3.8v3.8h-3.8zM387.5 250.5h3.8v3.8h-3.8zM384.0 313.5h3.8v3.8h-3.8zM370.0 317.0h3.8v3.8h-3.8zM356.0 320.5h3.8v3.8h-3.8zM342.0 324.0h3.8v3.8h-3.8zM321.0 331.0h3.8v3.8h-3.8z"/>
<path fill="#00bcff" d="M230.0 219.0h3.8v3.8h-3.8zM335.0 219.0h3.8v3.8h-3.8zM226.5 222.5h7.3v3.8h-7.3zM338.5 222.5h3.8v3.8h-3.8zM226.5 226.0h3.8v3.8h-3.8zM223.0 229.5h3.8v3.8h-3.8zM342.0 229.5h3.8v3.8h-3.8zM209.0 233.0h3.8v3.8h-3.8zM345.5 233.0h3.8v3.8h-3.8zM202.0 236.5h3.8v3.8h-3.8zM349.0 236.5h3.8v3.8h-3.8zM191.5 240.0h3.8v3.8h-3.8zM356.0 240.0h3.8v3.8h-3.8zM363.0 243.5h3.8v3.8h-3.8zM370.0 247.0h3.8v3.8h-3.8zM380.5 250.5h3.8v3.8h-3.8zM391.0 306.5h3.8v3.8h-3.8zM387.5 310.0h3.8v3.8h-3.8zM373.5 313.5h3.8v3.8h-3.8zM363.0 317.0h3.8v3.8h-3.8zM349.0 320.5h3.8v3.8h-3.8zM338.5 324.0h3.8v3.8h-3.8zM328.0 327.5h3.8v3.8h-3.8z"/>
<path fill="#00b4ff" d="M233.5 219.0h3.8v3.8h-3.8zM331.5 219.0h3.8v3.8h-3.8zM233.5 222.5h3.8v3.8h-3.8zM335.0 222.5h3.8v3.8h-3.8zM230.0 226.0h10.8v3.8h-10.8zM338.5 226.0h3.8v3.8h-3.8zM226.5 229.5h14.3v3.8h-14.3zM212.5 233.0h14.3v3.8h-14.3zM205.5 236.5h3.8v3.8h-3.8zM352.5 240.0h3.8v3.8h-3.8zM359.5 243.5h3.8v3.8h-3.8zM366.5 247.0h3.8v3.8h-3.8zM377.0 250.5h3.8v3.8h-3.8zM387.5 254.0h3.8v3.8h-3.8zM391.0 257.5h3.8v3.8h-3.8zM370.0 313.5h3.8v3.8h-3.8zM359.5 317.0h3.8v3.8h-3.8zM345.5 320.5h3.8v3.8h-3.8zM335.0 324.0h3.8v3.8h-3.8zM314.0 331.0h3.8v3.8h-3.8z"/>
<path fill="#00a4ff" d="M247.5 219.0h3.8v3.8h-3.8zM324.5 219.0h3.8v3.8h-3.8zM244.0 222.5h7.3v3.8h-7.3zM328.0 222.5h3.8v3.8h-3.8zM244.0 226.0h3.8v3.8h-3.8zM331.5 226.0h3.8v3.8h-3.8zM244.0 229.5h3.8v3.8h-3.8zM335.0 229.5h3.8v3.8h-3.8zM237.0 233.0h7.3v3.8h-7.3zM338.5 233.0h3.8v3.8h-3.8zM212.5 236.5h10.8v3.8h-10.8zM342.0 236.5h3.8v3.8h-3.8zM198.5 240.0h7.3v3.8h-7.3zM345.5 240.0h3.8v3.8h-3.8zM352.5 243.5h3.8v3.8h-3.8zM359.5 247.0h3.8v3.8h-3.8zM366.5 250.5h3.8v3.8h-3.8zM377.0 254.0h3.8v3.8h-3.8zM387.5 257.5h3.8v3.8h-3.8zM391.0 261.0h3.8v3.8h-3.8zM391.0 303.0h3.8v3.8h-3.8zM387.5 306.5h3.8v3.8h-3.8zM373.5 310.0h7.3v3.8h-7.3zM363.0 313.5h3.8v3.8h-3.8zM349.0 317.0h7.3v3.8h-7.3zM338.5 320.5h3.8v3.8h-3.8zM321.0 327.5h3.8v3.8h-3.8z"/>
<path fill="#009cff" d="M251.0 219.0h7.3v3.8h-7.3zM317.5 219.0h7.3v3.8h-7.3zM251.0 222.5h3.8v3.8h-3.8zM324.5 222.5h3.8v3.8h-3.8zM247.5 226.0h7.3v3.8h-7.3zM328.0 226.0h3.8v3.8h-3.8zM247.5 229.5h7.3v3.8h-7.3zM331.5 229.5h3.8v3.8h-3.8zM244.0 233.0h3.8v3.8h-3.8zM335.0 233.0h3.8v3.8h-3.8zM223.0 236.5h14.3v3.8h-14.3zM338.5 236.5h3.8v3.8h-3.8zM205.5 240.0h3.8v3.8h-3.8zM342.0 240.0h3.8v3.8h-3.8zM191.5 243.5h3.8v3.8h-3.8zM349.0 243.5h3.8v3.8h-3.8zM356.0 247.0h3.8v3.8h-3.8zM363.0 250.5h3.8v3.8h-3.8zM373.5 254.0h3.8v3.8h-3.8zM380.5 257.5h7.3v3.8h-7.3zM387.5 261.0h3.8v3.8h-3.8zM391.0 264.5h3.8v3.8h-3.8zM391.0 299.5h3.8v3.8h-3.8zM384.0 306.5h3.8v3.8h-3.8zM370.0 310.0h3.8v3.8h-3.8zM359.5 313.5h3.8v3.8h-3.8zM345.5 317.0h3.8v3.8h-3.8zM335.0 320.5h3.8v3.8h-3.8zM328.0 324.0h3.8v3.8h-3.8zM317.5 327.5h3.8v3.8h-3.8zM307.0 331.0h3.8v3.8h-3.8z"/>
<path fill="#0094ff" d="M258.0 219.0h10.8v3.8h-10.8zM314.0 219.0h3.8v3.8h-3.8zM254.5 222.5h7.3v3.8h-7.3zM317.5 222.5h7.3v3.8h-7.3zM254.5 226.0h7.3v3.8h-7.3zM324.5 226.0h3.8v3.8h-3.8zM254.5 229.5h3.8v3.8h-3.8zM328.0 229.5h3.8v3.8h-3.8zM247.5 233.0h7.3v3.8h-7.3zM331.5 233.0h3.8v3.8h-3.8zM237.0 236.5h7.3v3.8h-7.3zM335.0 236.5h3.8v3.8h-3.8zM209.0 240.0h7.3v3.8h-7.3zM338.5 240.0h3.8v3.8h-3.8zM345.5 243.5h3.8v3.8h-3.8zM352.5 247.0h3.8v3.8h-3.8zM359.5 250.5h3.8v3.8h-3.8zM366.5 254.0h7.3v3.8h-7.3zM377.0 257.5h3.8v3.8h-3.8zM384.0 261.0h3.8v3.8h-3.8zM387.5 264.5h3.8v3.8h-3.8zM391.0 268.0h3.8v3.8h-3.8zM391.0 296.0h3.8v3.8h-3.8zM387.5 303.0h3.8v3.8h-3.8zM380.5 306.5h3.8v3.8h-3.8zM366.5 310.0h3.8v3.8h-3.8zM342.0 317.0h3.8v3.8h-3.8zM331.5 320.5h3.8v3.8h-3.8zM324.5 324.0h3.8v3.8h-3.8z"/>
<path fill="#008cff" d="M268.5 219.0h7.3v3.8h-7.3zM307.0 219.0h7.3v3.8h-7.3zM261.5 222.5h7.3v3.8h-7.3zM314.0 222.5h3.8v3.8h-3.8zM261.5 226.0h7.3v3.8h-7.3zM317.5 226.0h7.3v3.8h-7.3zM258.0 229.5h7.3v3.8h-7.3zM321.0 229.5h7.3v3.8h-7.3zM254.5 233.0h3.8v3.8h-3.8zM328.0 233.0h3.8v3.8h-3.8zM244.0 236.5h7.3v3.8h-7.3zM331.5 236.5h3.8v3.8h-3.8zM216.0 240.0h21.3v3.8h-21.3zM335.0 240.0h3.8v3.8h-3.8zM195.0 243.5h7.3v3.8h-7.3zM342.0 243.5h3.8v3.8h-3.8zM345.5 247.0h7.3v3.8h-7.3zM352.5 250.5h7.3v3.8h-7.3zM363.0 254.0h3.8v3.8h-3.8zM370.0 257.5h7.3v3.8h-7.3zM377.0 261.0h7.3v3.8h-7.3zM384.0 264.5h3.8v3.8h-3.8zM387.5 268.0h3.8v3.8h-3.8zM391.0 271.5h3.8v3.8h-3.8zM391.0 275.0h3.8v3.8h-3.8zM391.0 292.5h3.8v3.8h-3.8zM373.5 306.5h7.3v3.8h-7.3zM363.0 310.0h3.8v3.8h-3.8zM352.5 313.5h7.3v3.8h-7.3zM338.5 317.0h3.8v3.8h-3.8zM314.0 327.5h3.8v3.8h-3.8zM300.0 331.0h7.3v3.8h-7.3z"/>
<path fill="#007cff" d="M282.5 219.0h17.8v3.8h-17.8zM279.0 222.5h7.3v3.8h-7.3zM296.5 222.5h10.8v3.8h-10.8zM275.5 226.0h7.3v3.8h-7.3zM303.5 226.0h7.3v3.8h-7.3zM272.0 229.5h3.8v3.8h-3.8zM307.0 229.5h10.8v3.8h-10.8zM265.0 233.0h7.3v3.8h-7.3zM314.0 233.0h7.3v3.8h-7.3zM254.5 236.5h7.3v3.8h-7.3zM317.5 236.5h7.3v3.8h-7.3zM244.0 240.0h7.3v3.8h-7.3zM324.5 240.0h7.3v3.8h-7.3zM209.0 243.5h10.8v3.8h-10.8zM331.5 243.5h3.8v3.8h-3.8zM191.5 247.0h3.8v3.8h-3.8zM335.0 247.0h7.3v3.8h-7.3zM342.0 250.5h7.3v3.8h-7.3zM352.5 254.0h3.8v3.8h-3.8zM359.5 257.5h3.8v3.8h-3.8zM366.5 261.0h7.3v3.8h-7.3zM373.5 264.5h7.3v3.8h-7.3zM380.5 268.0h3.8v3.8h-3.8zM384.0 271.5h3.8v3.8h-3.8zM387.5 275.0h3.8v3.8h-3.8zM387.5 278.5h3.8v3.8h-3.8zM387.5 292.5h3.8v3.8h-3.8zM387.5 296.0h3.8v3.8h-3.8zM373.5 303.0h10.8v3.8h-10.8zM363.0 306.5h7.3v3.8h-7.3zM356.0 310.0h3.8v3.8h-3.8zM338.5 313.5h7.3v3.8h-7.3zM331.5 317.0h3.8v3.8h-3.8zM324.5 320.5h3.8v3.8h-3.8zM317.5 324.0h3.8v3.8h-3.8zM286.0 327.5h3.8v3.8h-3.8zM310.5 327.5h3.8v3.8h-3.8z"/>
<path fill="#00fff4" d="M352.5 219.0h3.8v3.8h-3.8zM359.5 226.0h3.8v3.8h-3.8zM366.5 229.5h3.8v3.8h-3.8zM373.5 233.0h3.8v3.8h-3.8zM380.5 236.5h3.8v3.8h-3.8zM387.5 240.0h3.8v3.8h-3.8zM391.0 317.0h3.8v3.8h-3.8zM370.0 324.0h3.8v3.8h-3.8zM356.0 327.5h3.8v3.8h-3.8zM331.5 334.5h3.8v3.8h-3.8z"/>
<path fill="#00ffdc" d="M359.5 219.0h3.8v3.8h-3.8zM363.0 222.5h3.8v3.8h-3.8zM195.0 229.5h3.8v3.8h-3.8zM377.0 229.5h3.8v3.8h-3.8zM384.0 233.0h3.8v3.8h-3.8zM391.0 236.5h3.8v3.8h-3.8zM384.0 320.5h3.8v3.8h-3.8zM377.0 324.0h3.8v3.8h-3.8zM370.0 327.5h3.8v3.8h-3.8zM352.5 331.0h3.8v3.8h-3.8zM314.0 338.0h3.8v3.8h-3.8zM321.0 338.0h7.3v3.8h-7.3z"/>
<path fill="#00ffd4" d="M363.0 219.0h3.8v3.8h-3.8zM366.5 222.5h3.8v3.8h-3.8zM195.0 226.0h3.8v3.8h-3.8zM370.0 226.0h7.3v3.8h-7.3zM380.5 229.5h3.8v3.8h-3.8zM387.5 233.0h7.3v3.8h-7.3zM387.5 320.5h7.3v3.8h-7.3zM356.0 331.0h7.3v3.8h-7.3zM300.0 334.5h3.8v3.8h-3.8zM342.0 334.5h3.8v3.8h-3.8zM328.0 338.0h3.8v3.8h-3.8z"/>
<path fill="#00ffc4" d="M370.0 219.0h3.8v3.8h-3.8zM373.5 222.5h7.3v3.8h-7.3zM380.5 226.0h7.3v3.8h-7.3zM188.0 229.5h3.8v3.8h-3.8zM391.0 229.5h3.8v3.8h-3.8zM384.0 324.0h3.8v3.8h-3.8zM377.0 327.5h3.8v3.8h-3.8zM366.5 331.0h3.8v3.8h-3.8zM349.0 334.5h3.8v3.8h-3.8zM335.0 338.0h3.8v3.8h-3.8z"/>
<path fill="#00ffbc" d="M373.5 219.0h7.3v3.8h-7.3zM380.5 222.5h7.3v3.8h-7.3zM191.5 226.0h3.8v3.8h-3.8zM387.5 226.0h7.3v3.8h-7.3zM387.5 324.0h3.8v3.8h-3.8zM370.0 331.0h3.8v3.8h-3.8zM352.5 334.5h3.8v3.8h-3.8zM338.5 338.0h3.8v3.8h-3.8z"/>
<path fill="#00ff64" d="M181.0 222.5h3.8v3.8h-3.8zM289.5 334.5h3.8v3.8h-3.8zM391.0 338.0h3.8v3.8h-3.8zM373.5 341.5h7.3v3.8h-7.3zM349.0 345.0h3.8v3.8h-3.8zM331.5 348.5h7.3v3.8h-7.3z"/>
<path fill="#00ff9c" d="M188.0 222.5h3.8v3.8h-3.8zM177.5 229.5h3.8v3.8h-3.8zM384.0 331.0h3.8v3.8h-3.8zM296.5 334.5h3.8v3.8h-3.8zM373.5 334.5h3.8v3.8h-3.8zM352.5 338.0h3.8v3.8h-3.8zM338.5 341.5h3.8v3.8h-3.8z"/>
<path fill="#00f4ff" d="M349.0 222.5h3.8v3.8h-3.8zM202.0 226.0h3.8v3.8h-3.8zM352.5 226.0h3.8v3.8h-3.8zM356.0 229.5h3.8v3.8h-3.8zM363.0 233.0h3.8v3.8h-3.8zM370.0 236.5h3.8v3.8h-3.8zM377.0 240.0h3.8v3.8h-3.8zM387.5 243.5h3.8v3.8h-3.8zM373.5 320.5h3.8v3.8h-3.8zM359.5 324.0h7.3v3.8h-7.3zM289.5 331.0h3.8v3.8h-3.8zM335.0 331.0h3.8v3.8h-3.8zM307.0 334.5h3.8v3.8h-3.8zM321.0 334.5h3.8v3.8h-3.8z"/>
<path fill="#00ff94" d="M184.5 226.0h3.8v3.8h-3.8zM387.5 331.0h3.8v3.8h-3.8zM377.0 334.5h3.8v3.8h-3.8zM356.0 338.0h7.3v3.8h-7.3zM342.0 341.5h3.8v3.8h-3.8zM321.0 345.0h7.3v3.8h-7.3z"/>
<path fill="#00ffa4" d="M181.0 229.5h3.8v3.8h-3.8zM387.5 327.5h7.3v3.8h-7.3zM380.5 331.0h3.8v3.8h-3.8zM366.5 334.5h7.3v3.8h-7.3zM349.0 338.0h3.8v3.8h-3.8zM314.0 341.5h3.8v3.8h-3.8zM331.5 341.5h7.3v3.8h-7.3z"/>
<path fill="#0064ff" d="M282.5 236.5h17.8v3.8h-17.8zM268.5 240.0h38.8v3.8h-38.8zM251.0 243.5h10.8v3.8h-10.8zM300.0 243.5h14.3v3.8h-14.3zM216.0 247.0h31.8v3.8h-31.8zM310.5 247.0h10.8v3.8h-10.8zM191.5 250.5h3.8v3.8h-3.8zM317.5 250.5h10.8v3.8h-10.8zM328.0 254.0h7.3v3.8h-7.3zM335.0 257.5h7.3v3.8h-7.3zM342.0 261.0h10.8v3.8h-10.8zM349.0 264.5h10.8v3.8h-10.8zM356.0 268.0h7.3v3.8h-7.3zM359.5 271.5h7.3v3.8h-7.3zM363.0 275.0h10.8v3.8h-10.8zM366.5 278.5h10.8v3.8h-10.8zM370.0 282.0h10.8v3.8h-10.8zM370.0 285.5h14.3v3.8h-14.3zM373.5 289.0h10.8v3.8h-10.8zM373.5 292.5h7.3v3.8h-7.3zM370.0 296.0h7.3v3.8h-7.3zM363.0 299.5h7.3v3.8h-7.3zM359.5 303.0h3.8v3.8h-3.8zM345.5 306.5h10.8v3.8h-10.8zM335.0 310.0h3.8v3.8h-3.8zM328.0 313.5h3.8v3.8h-3.8zM317.5 320.5h3.8v3.8h-3.8zM289.5 327.5h3.8v3.8h-3.8zM307.0 327.5h3.8v3.8h-3.8z"/>
<path fill="#005cff" d="M261.5 243.5h38.8v3.8h-38.8zM247.5 247.0h7.3v3.8h-7.3zM296.5 247.0h14.3v3.8h-14.3zM195.0 250.5h17.8v3.8h-17.8zM233.5 250.5h7.3v3.8h-7.3zM303.5 250.5h14.3v3.8h-14.3zM314.0 254.0h14.3v3.8h-14.3zM324.5 257.5h10.8v3.8h-10.8zM331.5 261.0h10.8v3.8h-10.8zM338.5 264.5h10.8v3.8h-10.8zM345.5 268.0h10.8v3.8h-10.8zM352.5 271.5h7.3v3.8h-7.3zM356.0 275.0h7.3v3.8h-7.3zM359.5 278.5h7.3v3.8h-7.3zM363.0 282.0h7.3v3.8h-7.3zM363.0 285.5h7.3v3.8h-7.3zM366.5 289.0h7.3v3.8h-7.3zM366.5 292.5h7.3v3.8h-7.3zM363.0 296.0h7.3v3.8h-7.3zM359.5 299.5h3.8v3.8h-3.8zM349.0 303.0h10.8v3.8h-10.8zM338.5 306.5h7.3v3.8h-7.3zM331.5 310.0h3.8v3.8h-3.8zM324.5 313.5h3.8v3.8h-3.8zM321.0 317.0h3.8v3.8h-3.8zM310.5 324.0h3.8v3.8h-3.8zM293.0 327.5h3.8v3.8h-3.8z"/>
<path fill="#004cff" d="M251.0 250.5h42.3v3.8h-42.3zM195.0 254.0h21.3v3.8h-21.3zM226.5 254.0h21.3v3.8h-21.3zM289.5 254.0h7.3v3.8h-7.3zM296.5 257.5h10.8v3.8h-10.8zM303.5 261.0h17.8v3.8h-17.8zM314.0 264.5h14.3v3.8h-14.3zM324.5 268.0h10.8v3.8h-10.8zM328.0 271.5h10.8v3.8h-10.8zM335.0 275.0h10.8v3.8h-10.8zM338.5 278.5h10.8v3.8h-10.8zM338.5 282.0h14.3v3.8h-14.3zM342.0 285.5h10.8v3.8h-10.8zM345.5 289.0h14.3v3.8h-14.3zM345.5 292.5h14.3v3.8h-14.3zM342.0 296.0h14.3v3.8h-14.3zM338.5 299.5h10.8v3.8h-10.8zM331.5 303.0h7.3v3.8h-7.3zM328.0 306.5h3.8v3.8h-3.8zM324.5 310.0h3.8v3.8h-3.8zM314.0 317.0h3.8v3.8h-3.8zM310.5 320.5h3.8v3.8h-3.8z"/>
<path fill="#001cff" d="M76.0 254.0h17.8v3.8h-17.8zM97.0 254.0h14.3v3.8h-14.3zM76.0 257.5h45.8v3.8h-45.8zM132.0 257.5h10.8v3.8h-10.8zM146.0 257.5h3.8v3.8h-3.8zM76.0 261.0h24.8v3.8h-24.8zM111.0 261.0h24.8v3.8h-24.8zM76.0 264.5h14.3v3.8h-14.3zM114.5 264.5h10.8v3.8h-10.8zM149.5 264.5h7.3v3.8h-7.3zM76.0 268.0h10.8v3.8h-10.8zM118.0 268.0h3.8v3.8h-3.8zM153.0 268.0h7.3v3.8h-7.3zM76.0 271.5h10.8v3.8h-10.8zM118.0 271.5h3.8v3.8h-3.8zM160.0 271.5h3.8v3.8h-3.8zM76.0 275.0h10.8v3.8h-10.8zM160.0 275.0h10.8v3.8h-10.8zM195.0 275.0h31.8v3.8h-31.8zM254.5 275.0h17.8v3.8h-17.8zM76.0 278.5h10.8v3.8h-10.8zM118.0 278.5h3.8v3.8h-3.8zM160.0 278.5h66.8v3.8h-66.8zM251.0 278.5h31.8v3.8h-31.8zM76.0 282.0h7.3v3.8h-7.3zM163.5 282.0h42.3v3.8h-42.3zM219.5 282.0h3.8v3.8h-3.8zM254.5 282.0h10.8v3.8h-10.8zM268.5 282.0h14.3v3.8h-14.3zM76.0 285.5h7.3v3.8h-7.3zM167.0 285.5h24.8v3.8h-24.8zM76.0 289.0h7.3v3.8h-7.3zM76.0 292.5h3.8v3.8h-3.8zM76.0 296.0h3.8v3.8h-3.8zM76.0 299.5h3.8v3.8h-3.8zM76.0 303.0h35.3v3.8h-35.3zM132.0 303.0h21.3v3.8h-21.3zM90.0 306.5h77.3v3.8h-77.3z"/>
<path fill="#0024ff" d="M93.5 254.0h3.8v3.8h-3.8zM111.0 254.0h10.8v3.8h-10.8zM135.5 254.0h10.8v3.8h-10.8zM121.5 257.5h10.8v3.8h-10.8zM156.5 264.5h3.8v3.8h-3.8zM160.0 268.0h3.8v3.8h-3.8zM195.0 268.0h31.8v3.8h-31.8zM254.5 268.0h28.3v3.8h-28.3zM163.5 271.5h10.8v3.8h-10.8zM184.5 271.5h105.3v3.8h-105.3zM170.5 275.0h24.8v3.8h-24.8zM226.5 275.0h28.3v3.8h-28.3zM272.0 275.0h17.8v3.8h-17.8zM226.5 278.5h24.8v3.8h-24.8zM282.5 278.5h10.8v3.8h-10.8zM205.5 282.0h14.3v3.8h-14.3zM223.0 282.0h14.3v3.8h-14.3zM240.5 282.0h14.3v3.8h-14.3zM265.0 282.0h3.8v3.8h-3.8zM282.5 282.0h10.8v3.8h-10.8zM191.5 285.5h35.3v3.8h-35.3zM251.0 285.5h42.3v3.8h-42.3zM286.0 289.0h7.3v3.8h-7.3zM286.0 292.5h7.3v3.8h-7.3zM286.0 296.0h7.3v3.8h-7.3zM286.0 299.5h7.3v3.8h-7.3z"/>
<path fill="#0044ff" d="M216.0 254.0h10.8v3.8h-10.8zM247.5 254.0h42.3v3.8h-42.3zM191.5 257.5h3.8v3.8h-3.8zM233.5 257.5h10.8v3.8h-10.8zM289.5 257.5h7.3v3.8h-7.3zM296.5 261.0h7.3v3.8h-7.3zM300.0 264.5h14.3v3.8h-14.3zM307.0 268.0h17.8v3.8h-17.8zM317.5 271.5h10.8v3.8h-10.8zM321.0 275.0h14.3v3.8h-14.3zM328.0 278.5h10.8v3.8h-10.8zM331.5 282.0h7.3v3.8h-7.3zM335.0 285.5h7.3v3.8h-7.3zM335.0 289.0h10.8v3.8h-10.8zM335.0 292.5h10.8v3.8h-10.8zM335.0 296.0h7.3v3.8h-7.3zM331.5 299.5h7.3v3.8h-7.3zM328.0 303.0h3.8v3.8h-3.8zM324.5 306.5h3.8v3.8h-3.8zM321.0 310.0h3.8v3.8h-3.8zM317.5 313.5h3.8v3.8h-3.8zM286.0 324.0h3.8v3.8h-3.8zM307.0 324.0h3.8v3.8h-3.8zM300.0 327.5h7.3v3.8h-7.3z"/>
<path fill="#0014ff" d="M142.5 257.5h3.8v3.8h-3.8zM100.5 261.0h10.8v3.8h-10.8zM135.5 261.0h14.3v3.8h-14.3zM90.0 264.5h24.8v3.8h-24.8zM125.0 264.5h24.8v3.8h-24.8zM86.5 268.0h31.8v3.8h-31.8zM121.5 268.0h14.3v3.8h-14.3zM146.0 268.0h7.3v3.8h-7.3zM86.5 271.5h31.8v3.8h-31.8zM121.5 271.5h10.8v3.8h-10.8zM149.5 271.5h10.8v3.8h-10.8zM86.5 275.0h45.8v3.8h-45.8zM149.5 275.0h10.8v3.8h-10.8zM86.5 278.5h31.8v3.8h-31.8zM121.5 278.5h10.8v3.8h-10.8zM153.0 278.5h7.3v3.8h-7.3zM83.0 282.0h49.3v3.8h-49.3zM153.0 282.0h10.8v3.8h-10.8zM83.0 285.5h49.3v3.8h-49.3zM153.0 285.5h14.3v3.8h-14.3zM83.0 289.0h52.8v3.8h-52.8zM153.0 289.0h14.3v3.8h-14.3zM79.5 292.5h59.8v3.8h-59.8zM149.5 292.5h17.8v3.8h-17.8zM79.5 296.0h87.8v3.8h-87.8zM79.5 299.5h87.8v3.8h-87.8zM111.0 303.0h21.3v3.8h-21.3zM153.0 303.0h14.3v3.8h-14.3z"/>
<path fill="#003cff" d="M195.0 257.5h38.8v3.8h-38.8zM244.0 257.5h45.8v3.8h-45.8zM191.5 261.0h3.8v3.8h-3.8zM289.5 261.0h7.3v3.8h-7.3zM167.0 264.5h21.3v3.8h-21.3zM293.0 264.5h7.3v3.8h-7.3zM296.5 268.0h10.8v3.8h-10.8zM300.0 271.5h17.8v3.8h-17.8zM307.0 275.0h14.3v3.8h-14.3zM314.0 278.5h14.3v3.8h-14.3zM317.5 282.0h14.3v3.8h-14.3zM321.0 285.5h14.3v3.8h-14.3zM328.0 289.0h7.3v3.8h-7.3zM328.0 292.5h7.3v3.8h-7.3zM328.0 296.0h7.3v3.8h-7.3zM324.5 299.5h7.3v3.8h-7.3zM321.0 303.0h7.3v3.8h-7.3zM317.5 306.5h7.3v3.8h-7.3zM314.0 310.0h7.3v3.8h-7.3zM314.0 313.5h3.8v3.8h-3.8zM286.0 317.0h3.8v3.8h-3.8zM310.5 317.0h3.8v3.8h-3.8zM286.0 320.5h3.8v3.8h-3.8zM307.0 320.5h3.8v3.8h-3.8zM303.5 324.0h3.8v3.8h-3.8z"/>
<path fill="#000cff" d="M135.5 268.0h10.8v3.8h-10.8zM132.0 271.5h17.8v3.8h-17.8zM132.0 275.0h17.8v3.8h-17.8zM132.0 278.5h21.3v3.8h-21.3zM132.0 282.0h21.3v3.8h-21.3zM132.0 285.5h21.3v3.8h-21.3zM135.5 289.0h17.8v3.8h-17.8zM139.0 292.5h10.8v3.8h-10.8z"/>
<path fill="#00ffff" d="M366.5 324.0h3.8v3.8h-3.8z"/>
<path fill="#4cff00" d="M289.5 338.0h3.8v3.8h-3.8zM380.5 355.5h3.8v3.8h-3.8zM373.5 359.0h3.8v3.8h-3.8zM310.5 362.5h3.8v3.8h-3.8zM317.5 369.5h3.8v3.8h-3.8zM356.0 369.5h3.8v3.8h-3.8zM331.5 373.0h14.3v3.8h-14.3z"/>
<path fill="#44ff00" d="M293.0 338.0h3.8v3.8h-3.8zM300.0 341.5h3.8v3.8h-3.8zM307.0 355.5h3.8v3.8h-3.8zM366.5 362.5h3.8v3.8h-3.8zM314.0 366.0h3.8v3.8h-3.8zM359.5 366.0h3.8v3.8h-3.8zM321.0 369.5h3.8v3.8h-3.8zM349.0 369.5h7.3v3.8h-7.3z"/>
<path fill="#14ff00" d="M296.5 338.0h3.8v3.8h-3.8zM377.0 352.0h3.8v3.8h-3.8zM366.5 355.5h3.8v3.8h-3.8zM356.0 359.0h3.8v3.8h-3.8zM317.5 362.5h3.8v3.8h-3.8zM342.0 362.5h7.3v3.8h-7.3z"/>
<path fill="#b4ff00" d="M286.0 341.5h3.8v3.8h-3.8zM296.5 341.5h3.8v3.8h-3.8zM300.0 355.5h3.8v3.8h-3.8zM380.5 369.5h3.8v3.8h-3.8zM307.0 376.5h3.8v3.8h-3.8zM370.0 376.5h3.8v3.8h-3.8zM310.5 380.0h3.8v3.8h-3.8zM314.0 383.5h3.8v3.8h-3.8zM321.0 387.0h3.8v3.8h-3.8zM338.5 390.5h7.3v3.8h-7.3zM356.0 390.5h3.8v3.8h-3.8z"/>
<path fill="#dcff00" d="M289.5 341.5h3.8v3.8h-3.8zM286.0 345.0h3.8v3.8h-3.8zM296.5 352.0h3.8v3.8h-3.8zM296.5 355.5h3.8v3.8h-3.8zM296.5 359.0h3.8v3.8h-3.8zM300.0 369.5h3.8v3.8h-3.8zM387.5 369.5h3.8v3.8h-3.8zM370.0 383.5h3.8v3.8h-3.8zM314.0 390.5h3.8v3.8h-3.8zM366.5 390.5h3.8v3.8h-3.8zM317.5 394.0h3.8v3.8h-3.8zM363.0 394.0h3.8v3.8h-3.8zM324.5 397.5h7.3v3.8h-7.3zM359.5 397.5h3.8v3.8h-3.8zM335.0 401.0h21.3v3.8h-21.3z"/>
<path fill="#d4ff00" d="M293.0 341.5h3.8v3.8h-3.8zM296.5 345.0h3.8v3.8h-3.8zM296.5 348.5h3.8v3.8h-3.8zM300.0 366.0h3.8v3.8h-3.8zM380.5 373.0h3.8v3.8h-3.8zM303.5 380.0h3.8v3.8h-3.8zM307.0 383.5h3.8v3.8h-3.8zM310.5 387.0h3.8v3.8h-3.8zM317.5 390.5h3.8v3.8h-3.8zM321.0 394.0h3.8v3.8h-3.8zM331.5 397.5h14.3v3.8h-14.3zM356.0 397.5h3.8v3.8h-3.8z"/>
<path fill="#fbff00" d="M289.5 345.0h3.8v3.8h-3.8zM286.0 355.5h7.3v3.8h-7.3zM293.0 362.5h3.8v3.8h-3.8zM296.5 369.5h3.8v3.8h-3.8zM387.5 373.0h3.8v3.8h-3.8zM380.5 376.5h3.8v3.8h-3.8zM373.5 383.5h3.8v3.8h-3.8zM310.5 397.5h3.8v3.8h-3.8zM366.5 397.5h3.8v3.8h-3.8zM317.5 404.5h3.8v3.8h-3.8z"/>
<path fill="#f4ff00" d="M293.0 345.0h3.8v3.8h-3.8zM289.5 348.5h3.8v3.8h-3.8zM286.0 352.0h7.3v3.8h-7.3zM293.0 355.5h3.8v3.8h-3.8zM293.0 359.0h3.8v3.8h-3.8zM300.0 383.5h3.8v3.8h-3.8zM303.5 387.0h3.8v3.8h-3.8zM307.0 390.5h3.8v3.8h-3.8zM370.0 390.5h3.8v3.8h-3.8zM310.5 394.0h3.8v3.8h-3.8zM314.0 397.5h3.8v3.8h-3.8zM314.0 401.0h7.3v3.8h-7.3zM363.0 401.0h3.8v3.8h-3.8zM321.0 404.5h10.8v3.8h-10.8zM359.5 404.5h3.8v3.8h-3.8z"/>
<path fill="#7cff00" d="M300.0 345.0h3.8v3.8h-3.8zM303.5 355.5h3.8v3.8h-3.8zM387.5 359.0h3.8v3.8h-3.8zM373.5 366.0h3.8v3.8h-3.8zM310.5 369.5h3.8v3.8h-3.8zM317.5 376.5h3.8v3.8h-3.8zM328.0 380.0h3.8v3.8h-3.8zM352.5 380.0h7.3v3.8h-7.3z"/>
<path fill="#2cff00" d="M303.5 345.0h3.8v3.8h-3.8zM307.0 352.0h3.8v3.8h-3.8zM373.5 355.5h3.8v3.8h-3.8zM310.5 359.0h3.8v3.8h-3.8zM314.0 362.5h3.8v3.8h-3.8zM356.0 362.5h3.8v3.8h-3.8zM321.0 366.0h3.8v3.8h-3.8zM342.0 366.0h10.8v3.8h-10.8z"/>
<path fill="#00ff44" d="M370.0 345.0h10.8v3.8h-10.8zM352.5 348.5h3.8v3.8h-3.8zM314.0 352.0h3.8v3.8h-3.8zM335.0 352.0h3.8v3.8h-3.8z"/>
<path fill="#00ff2c" d="M391.0 345.0h3.8v3.8h-3.8zM363.0 348.5h7.3v3.8h-7.3zM349.0 352.0h3.8v3.8h-3.8zM331.5 355.5h7.3v3.8h-7.3z"/>
<path fill="#ecff00" d="M286.0 348.5h3.8v3.8h-3.8zM293.0 348.5h3.8v3.8h-3.8zM293.0 352.0h3.8v3.8h-3.8zM296.5 366.0h3.8v3.8h-3.8zM384.0 373.0h3.8v3.8h-3.8zM300.0 380.0h3.8v3.8h-3.8zM370.0 387.0h3.8v3.8h-3.8zM314.0 394.0h3.8v3.8h-3.8zM366.5 394.0h3.8v3.8h-3.8zM321.0 401.0h7.3v3.8h-7.3zM331.5 404.5h28.3v3.8h-28.3z"/>
<path fill="#9cff00" d="M300.0 348.5h3.8v3.8h-3.8zM303.5 362.5h3.8v3.8h-3.8zM387.5 362.5h3.8v3.8h-3.8zM380.5 366.0h3.8v3.8h-3.8zM307.0 369.5h3.8v3.8h-3.8zM370.0 373.0h3.8v3.8h-3.8zM366.5 376.5h3.8v3.8h-3.8zM324.5 383.5h3.8v3.8h-3.8zM338.5 387.0h17.8v3.8h-17.8z"/>
<path fill="#54ff00" d="M303.5 348.5h3.8v3.8h-3.8zM377.0 359.0h3.8v3.8h-3.8zM370.0 362.5h3.8v3.8h-3.8zM363.0 366.0h3.8v3.8h-3.8zM359.5 369.5h3.8v3.8h-3.8zM324.5 373.0h7.3v3.8h-7.3zM345.5 373.0h10.8v3.8h-10.8z"/>
<path fill="#0cff00" d="M307.0 348.5h3.8v3.8h-3.8zM373.5 352.0h3.8v3.8h-3.8zM310.5 355.5h3.8v3.8h-3.8zM363.0 355.5h3.8v3.8h-3.8zM314.0 359.0h3.8v3.8h-3.8zM352.5 359.0h3.8v3.8h-3.8zM321.0 362.5h3.8v3.8h-3.8zM335.0 362.5h7.3v3.8h-7.3z"/>
<path fill="#00ff0c" d="M380.5 348.5h3.8v3.8h-3.8zM363.0 352.0h7.3v3.8h-7.3zM352.5 355.5h3.8v3.8h-3.8zM317.5 359.0h3.8v3.8h-3.8zM335.0 359.0h7.3v3.8h-7.3z"/>
<path fill="#00ff04" d="M384.0 348.5h3.8v3.8h-3.8zM370.0 352.0h3.8v3.8h-3.8zM356.0 355.5h3.8v3.8h-3.8zM342.0 359.0h7.3v3.8h-7.3z"/>
<path fill="#00ff00" d="M387.5 348.5h3.8v3.8h-3.8z"/>
<path fill="#04ff00" d="M391.0 348.5h3.8v3.8h-3.8zM359.5 355.5h3.8v3.8h-3.8zM349.0 359.0h3.8v3.8h-3.8zM324.5 362.5h10.8v3.8h-10.8z"/>
<path fill="#acff00" d="M300.0 352.0h3.8v3.8h-3.8zM303.5 366.0h3.8v3.8h-3.8zM384.0 366.0h3.8v3.8h-3.8zM373.5 373.0h3.8v3.8h-3.8zM366.5 380.0h3.8v3.8h-3.8zM317.5 383.5h3.8v3.8h-3.8zM324.5 387.0h3.8v3.8h-3.8zM359.5 387.0h3.8v3.8h-3.8zM345.5 390.5h10.8v3.8h-10.8z"/>
<path fill="#6cff00" d="M303.5 352.0h3.8v3.8h-3.8zM370.0 366.0h3.8v3.8h-3.8zM324.5 376.5h3.8v3.8h-3.8zM352.5 376.5h7.3v3.8h-7.3z"/>
<path fill="#24ff00" d="M380.5 352.0h3.8v3.8h-3.8zM363.0 359.0h3.8v3.8h-3.8zM352.5 362.5h3.8v3.8h-3.8zM324.5 366.0h17.8v3.8h-17.8z"/>
<path fill="#34ff00" d="M384.0 352.0h10.8v3.8h-10.8zM366.5 359.0h3.8v3.8h-3.8zM359.5 362.5h3.8v3.8h-3.8zM317.5 366.0h3.8v3.8h-3.8zM352.5 366.0h3.8v3.8h-3.8z"/>
<path fill="#1cff00" d="M370.0 355.5h3.8v3.8h-3.8zM359.5 359.0h3.8v3.8h-3.8zM349.0 362.5h3.8v3.8h-3.8z"/>
<path fill="#3cff00" d="M377.0 355.5h3.8v3.8h-3.8zM370.0 359.0h3.8v3.8h-3.8zM363.0 362.5h3.8v3.8h-3.8zM356.0 366.0h3.8v3.8h-3.8zM324.5 369.5h24.8v3.8h-24.8z"/>
<path fill="#5cff00" d="M384.0 355.5h10.8v3.8h-10.8zM307.0 359.0h3.8v3.8h-3.8zM366.5 366.0h3.8v3.8h-3.8zM314.0 369.5h3.8v3.8h-3.8zM321.0 373.0h3.8v3.8h-3.8zM356.0 373.0h3.8v3.8h-3.8zM338.5 376.5h3.8v3.8h-3.8z"/>
<path fill="#fffb00" d="M286.0 359.0h7.3v3.8h-7.3zM289.5 362.5h3.8v3.8h-3.8zM293.0 366.0h3.8v3.8h-3.8zM296.5 373.0h3.8v3.8h-3.8zM391.0 373.0h3.8v3.8h-3.8zM377.0 380.0h3.8v3.8h-3.8zM373.5 387.0h3.8v3.8h-3.8zM303.5 390.5h3.8v3.8h-3.8zM307.0 394.0h3.8v3.8h-3.8zM370.0 394.0h3.8v3.8h-3.8zM310.5 401.0h3.8v3.8h-3.8zM366.5 401.0h3.8v3.8h-3.8zM314.0 404.5h3.8v3.8h-3.8zM363.0 404.5h3.8v3.8h-3.8z"/>
<path fill="#bcff00" d="M300.0 359.0h3.8v3.8h-3.8zM387.5 366.0h3.8v3.8h-3.8zM303.5 369.5h3.8v3.8h-3.8zM366.5 383.5h3.8v3.8h-3.8zM317.5 387.0h3.8v3.8h-3.8zM363.0 387.0h3.8v3.8h-3.8zM324.5 390.5h14.3v3.8h-14.3zM359.5 390.5h3.8v3.8h-3.8zM345.5 394.0h7.3v3.8h-7.3z"/>
<path fill="#8cff00" d="M303.5 359.0h3.8v3.8h-3.8zM377.0 366.0h3.8v3.8h-3.8zM310.5 373.0h3.8v3.8h-3.8zM314.0 376.5h3.8v3.8h-3.8zM321.0 380.0h3.8v3.8h-3.8zM331.5 383.5h7.3v3.8h-7.3zM349.0 383.5h10.8v3.8h-10.8z"/>
<path fill="#64ff00" d="M380.5 359.0h3.8v3.8h-3.8zM373.5 362.5h3.8v3.8h-3.8zM310.5 366.0h3.8v3.8h-3.8zM363.0 369.5h3.8v3.8h-3.8zM317.5 373.0h3.8v3.8h-3.8zM359.5 373.0h3.8v3.8h-3.8zM328.0 376.5h10.8v3.8h-10.8zM342.0 376.5h10.8v3.8h-10.8z"/>
<path fill="#74ff00" d="M384.0 359.0h3.8v3.8h-3.8zM307.0 362.5h3.8v3.8h-3.8zM377.0 362.5h3.8v3.8h-3.8zM366.5 369.5h3.8v3.8h-3.8zM314.0 373.0h3.8v3.8h-3.8zM363.0 373.0h3.8v3.8h-3.8zM321.0 376.5h3.8v3.8h-3.8zM359.5 376.5h3.8v3.8h-3.8zM331.5 380.0h21.3v3.8h-21.3z"/>
<path fill="#84ff00" d="M391.0 359.0h3.8v3.8h-3.8zM380.5 362.5h3.8v3.8h-3.8zM307.0 366.0h3.8v3.8h-3.8zM370.0 369.5h3.8v3.8h-3.8zM366.5 373.0h3.8v3.8h-3.8zM363.0 376.5h3.8v3.8h-3.8zM324.5 380.0h3.8v3.8h-3.8zM359.5 380.0h3.8v3.8h-3.8zM338.5 383.5h10.8v3.8h-10.8z"/>
<path fill="#fff400" d="M286.0 362.5h3.8v3.8h-3.8zM289.5 366.0h3.8v3.8h-3.8zM296.5 376.5h3.8v3.8h-3.8zM296.5 380.0h3.8v3.8h-3.8zM300.0 387.0h3.8v3.8h-3.8zM307.0 397.5h3.8v3.8h-3.8zM370.0 397.5h3.8v3.8h-3.8zM310.5 404.5h3.8v3.8h-3.8z"/>
<path fill="#e4ff00" d="M296.5 362.5h3.8v3.8h-3.8zM391.0 369.5h3.8v3.8h-3.8zM300.0 373.0h3.8v3.8h-3.8zM300.0 376.5h3.8v3.8h-3.8zM377.0 376.5h3.8v3.8h-3.8zM373.5 380.0h3.8v3.8h-3.8zM303.5 383.5h3.8v3.8h-3.8zM307.0 387.0h3.8v3.8h-3.8zM310.5 390.5h3.8v3.8h-3.8zM317.5 397.5h7.3v3.8h-7.3zM363.0 397.5h3.8v3.8h-3.8zM328.0 401.0h7.3v3.8h-7.3zM356.0 401.0h7.3v3.8h-7.3z"/>
<path fill="#c4ff00" d="M300.0 362.5h3.8v3.8h-3.8zM391.0 366.0h3.8v3.8h-3.8zM303.5 373.0h3.8v3.8h-3.8zM377.0 373.0h3.8v3.8h-3.8zM307.0 380.0h3.8v3.8h-3.8zM370.0 380.0h3.8v3.8h-3.8zM310.5 383.5h3.8v3.8h-3.8zM321.0 390.5h3.8v3.8h-3.8zM338.5 394.0h7.3v3.8h-7.3zM352.5 394.0h7.3v3.8h-7.3z"/>
<path fill="#94ff00" d="M384.0 362.5h3.8v3.8h-3.8zM373.5 369.5h3.8v3.8h-3.8zM317.5 380.0h3.8v3.8h-3.8zM363.0 380.0h3.8v3.8h-3.8zM328.0 383.5h3.8v3.8h-3.8zM359.5 383.5h3.8v3.8h-3.8z"/>
<path fill="#a4ff00" d="M391.0 362.5h3.8v3.8h-3.8zM377.0 369.5h3.8v3.8h-3.8zM307.0 373.0h3.8v3.8h-3.8zM310.5 376.5h3.8v3.8h-3.8zM314.0 380.0h3.8v3.8h-3.8zM321.0 383.5h3.8v3.8h-3.8zM363.0 383.5h3.8v3.8h-3.8zM328.0 387.0h10.8v3.8h-10.8zM356.0 387.0h3.8v3.8h-3.8z"/>
<path fill="#ffec00" d="M286.0 366.0h3.8v3.8h-3.8zM289.5 369.5h7.3v3.8h-7.3zM384.0 376.5h3.8v3.8h-3.8zM377.0 383.5h3.8v3.8h-3.8zM373.5 390.5h3.8v3.8h-3.8zM303.5 394.0h3.8v3.8h-3.8zM307.0 401.0h3.8v3.8h-3.8zM370.0 401.0h3.8v3.8h-3.8zM366.5 404.5h3.8v3.8h-3.8z"/>
<path fill="#ffe400" d="M286.0 369.5h3.8v3.8h-3.8zM293.0 373.0h3.8v3.8h-3.8zM380.5 380.0h3.8v3.8h-3.8zM296.5 383.5h3.8v3.8h-3.8zM300.0 390.5h3.8v3.8h-3.8zM373.5 394.0h3.8v3.8h-3.8zM303.5 397.5h3.8v3.8h-3.8zM307.0 404.5h3.8v3.8h-3.8z"/>
<path fill="#ccff00" d="M384.0 369.5h3.8v3.8h-3.8zM303.5 376.5h3.8v3.8h-3.8zM373.5 376.5h3.8v3.8h-3.8zM314.0 387.0h3.8v3.8h-3.8zM366.5 387.0h3.8v3.8h-3.8zM363.0 390.5h3.8v3.8h-3.8zM324.5 394.0h14.3v3.8h-14.3zM359.5 394.0h3.8v3.8h-3.8zM345.5 397.5h10.8v3.8h-10.8z"/>
<path fill="#ffd400" d="M286.0 373.0h3.8v3.8h-3.8zM391.0 376.5h3.8v3.8h-3.8zM377.0 390.5h3.8v3.8h-3.8zM300.0 394.0h3.8v3.8h-3.8zM373.5 401.0h3.8v3.8h-3.8zM303.5 404.5h3.8v3.8h-3.8z"/>
<path fill="#ffdc00" d="M289.5 373.0h3.8v3.8h-3.8zM293.0 376.5h3.8v3.8h-3.8zM387.5 376.5h3.8v3.8h-3.8zM377.0 387.0h3.8v3.8h-3.8zM373.5 397.5h3.8v3.8h-3.8zM303.5 401.0h3.8v3.8h-3.8zM370.0 404.5h3.8v3.8h-3.8z"/>
<path fill="#ffbc00" d="M286.0 376.5h3.8v3.8h-3.8zM387.5 380.0h3.8v3.8h-3.8zM380.5 387.0h3.8v3.8h-3.8zM296.5 390.5h3.8v3.8h-3.8zM377.0 401.0h3.8v3.8h-3.8z"/>
<path fill="#ffc400" d="M289.5 376.5h3.8v3.8h-3.8zM293.0 380.0h3.8v3.8h-3.8zM377.0 397.5h3.8v3.8h-3.8zM300.0 404.5h3.8v3.8h-3.8z"/>
<path fill="#ffac00" d="M286.0 380.0h7.3v3.8h-7.3zM380.5 394.0h3.8v3.8h-3.8zM380.5 397.5h3.8v3.8h-3.8z"/>
<path fill="#ffcc00" d="M384.0 380.0h3.8v3.8h-3.8zM380.5 383.5h3.8v3.8h-3.8zM296.5 387.0h3.8v3.8h-3.8zM377.0 394.0h3.8v3.8h-3.8zM300.0 397.5h3.8v3.8h-3.8zM300.0 401.0h3.8v3.8h-3.8zM373.5 404.5h3.8v3.8h-3.8z"/>
<path fill="#ffb400" d="M391.0 380.0h3.8v3.8h-3.8zM293.0 383.5h3.8v3.8h-3.8zM384.0 383.5h3.8v3.8h-3.8zM380.5 390.5h3.8v3.8h-3.8zM296.5 394.0h3.8v3.8h-3.8zM296.5 397.5h3.8v3.8h-3.8zM296.5 401.0h3.8v3.8h-3.8zM296.5 404.5h3.8v3.8h-3.8zM377.0 404.5h3.8v3.8h-3.8z"/>
<path fill="#ff9c00" d="M286.0 383.5h7.3v3.8h-7.3zM384.0 390.5h3.8v3.8h-3.8zM293.0 397.5h3.8v3.8h-3.8zM380.5 404.5h3.8v3.8h-3.8z"/>
<path fill="#ffa400" d="M387.5 383.5h3.8v3.8h-3.8zM293.0 387.0h3.8v3.8h-3.8zM384.0 387.0h3.8v3.8h-3.8zM380.5 401.0h3.8v3.8h-3.8z"/>
<path fill="#ff9400" d="M391.0 383.5h3.8v3.8h-3.8zM289.5 387.0h3.8v3.8h-3.8zM387.5 387.0h3.8v3.8h-3.8zM293.0 394.0h3.8v3.8h-3.8zM384.0 394.0h3.8v3.8h-3.8z"/>
<path fill="#ff8400" d="M391.0 387.0h3.8v3.8h-3.8zM289.5 390.5h3.8v3.8h-3.8zM387.5 390.5h3.8v3.8h-3.8z"/>
<path fill="#ff8c00" d="M293.0 390.5h3.8v3.8h-3.8zM384.0 397.5h3.8v3.8h-3.8zM384.0 401.0h3.8v3.8h-3.8zM384.0 404.5h3.8v3.8h-3.8z"/>
<path fill="#ff7c00" d="M391.0 390.5h3.8v3.8h-3.8zM387.5 394.0h3.8v3.8h-3.8zM387.5 397.5h3.8v3.8h-3.8zM387.5 404.5h3.8v3.8h-3.8z"/>
<path fill="#ff7400" d="M391.0 394.0h3.8v3.8h-3.8zM391.0 397.5h3.8v3.8h-3.8zM387.5 401.0h3.8v3.8h-3.8z"/>
<path fill="#ff6c00" d="M391.0 401.0h3.8v3.8h-3.8zM391.0 404.5h3.8v3.8h-3.8z"/>
</g>
<polygon points="64.5,243.9 174.0,243.9 174.0,232.0 191.3,232.0 191.3,265.2 150.3,265.2 150.3,252.0 73.5,252.0 73.5,419.6 260.7,419.6 260.7,424.2 281.6,424.2 281.6,433.6 64.5,433.6" fill="url(#hx)" stroke="#163c10" stroke-width="0.6"/>
<polygon points="171.3,291.0 285.0,291.0 285.0,400.5 299.0,413.6 317.0,413.6 317.0,425.3 292.5,425.3 276.3,407.5 276.3,304.0 246.6,304.0 246.6,405.6 224.0,405.6 224.0,304.0 195.0,304.0 195.0,403.8 171.3,403.8" fill="url(#hx)" stroke="#163c10" stroke-width="0.6"/>
<path d="M173.6 296V402M192.6 296V402M226.3 296V402M244.4 296V402M278.6 296V398M283.0 296V398M176.0 294.5H283M197.0 301.2H222M249.0 301.2H274M66.6 247V432M71.4 258V418M70.0 246H172M78.0 250H148M80.0 421.8H258" stroke="#3f6e3f" stroke-width="1" stroke-dasharray="1 7.3" fill="none"/>
<path d="M202.1 308V418M216.7 308V400M253.7 308V400M268.3 308V400" stroke="#1c1c15" stroke-width="1" stroke-dasharray="2 2.2" fill="none"/>
<path d="M80.3 312V418M90.3 312V418" stroke="#4a2f10" stroke-width="1" stroke-dasharray="1.5 3" fill="none"/>
<path d="M100 315H165" stroke="#30302a" stroke-width="1" stroke-dasharray="1 4.4" fill="none"/>
<rect x="119.2" y="335.0" width="1" height="2" fill="#6e6e66"/>
<rect x="145.6" y="335.0" width="1" height="2" fill="#6e6e66"/>
<rect x="119.2" y="363.0" width="1" height="2" fill="#6e6e66"/>
<rect x="145.6" y="363.0" width="1" height="2" fill="#6e6e66"/>
<rect x="119.2" y="389.0" width="1" height="2" fill="#6e6e66"/>
<rect x="145.6" y="389.0" width="1" height="2" fill="#6e6e66"/>
<rect x="119.2" y="418.0" width="1" height="2" fill="#6e6e66"/>
<rect x="145.6" y="418.0" width="1" height="2" fill="#6e6e66"/>
<rect x="200.5" y="418.0" width="1" height="2" fill="#6e6e66"/>
<rect x="256.5" y="418.0" width="1" height="2" fill="#6e6e66"/>
<path d="M176.5 262.5V241L181.0 235H188.5V262.5Z" stroke="#2a5a22" stroke-width="0.7" fill="none"/>
<polygon points="285.5,327.0 291.0,329.0 300.0,334.3 324.0,334.3 324.5,345.5 310.0,345.5 310.0,348.6 300.0,348.6 300.0,345.5 297.0,345.5 289.5,341.0 285.5,341.0" fill="#000" />
<path d="M287.0 333.5L293.0 335.5L299.0 340.5H321.0" stroke="#1a3c10" stroke-width="1.6" fill="none"/>
<rect x="77.5" y="427.0" width="204.0" height="5.6" fill="#06222e" />
<path d="M77.0 429.7H281.5" stroke="#1a6890" stroke-width="3.4" stroke-dasharray="1.5 1.4" fill="none"/>
<rect x="99.0" y="326.4" width="25.0" height="7.0" fill="#00004a" />
<rect x="129.4" y="326.4" width="22.3" height="7.0" fill="#00004a" />
<rect x="99.0" y="351.4" width="6.8" height="23.6" fill="#00004a" />
<rect x="99.0" y="391.7" width="6.8" height="26.0" fill="#00004a" />
<path d="M63.6 221V434.8H75.8V446.4H285.6V434.9H395.4V224" stroke="#57540a" stroke-width="0.9" fill="none"/>
<rect x="62.8" y="445.4" width="1.8" height="1.8" fill="#b8b8b8"/>
<path d="M86 248.6H112M118 248.6H125" stroke="#0c5878" stroke-width="1.6" stroke-dasharray="1.6 1.1" fill="none"/>
<path d="M74.3 219H83.7M145 219H182.4M287 219H317M356 219H388" stroke="#57540a" stroke-width="1.3" fill="none"/>
<path d="M96.7 279V291M113.9 279V291M130.4 279V291M146.2 279V291" stroke="#0a58f0" stroke-width="0.9" fill="none"/>
<rect x="85.0" y="273.3" width="2.8" height="4.6" fill="#1a0a3a" />
<rect x="101.3" y="273.3" width="2.8" height="4.6" fill="#1a0a3a" />
<rect x="117.7" y="273.3" width="2.8" height="4.6" fill="#1a0a3a" />
<rect x="134.1" y="273.3" width="2.8" height="4.6" fill="#1a0a3a" />
<rect x="150.4" y="273.3" width="2.8" height="4.6" fill="#1a0a3a" />
<rect x="166.8" y="273.3" width="2.8" height="4.6" fill="#1a0a3a" />
<rect x="183.1" y="273.3" width="2.8" height="4.6" fill="#1a0a3a" />
<rect x="199.5" y="273.3" width="2.8" height="4.6" fill="#1a0a3a" />
<rect x="215.8" y="273.3" width="2.8" height="4.6" fill="#1a0a3a" />
<rect x="232.2" y="273.3" width="2.8" height="4.6" fill="#1a0a3a" />
<rect x="248.5" y="273.3" width="2.8" height="4.6" fill="#1a0a3a" />
<rect x="264.9" y="273.3" width="2.8" height="4.6" fill="#1a0a3a" />
<rect x="281.2" y="273.3" width="2.8" height="4.6" fill="#1a0a3a" />
<rect x="297.6" y="273.3" width="2.8" height="4.6" fill="#1a0a3a" />
<rect x="180.5" y="284.2" width="4.6" height="2.6" fill="#020a06" />
<rect x="196.8" y="284.2" width="4.6" height="2.6" fill="#020a06" />
<rect x="213.2" y="284.2" width="4.6" height="2.6" fill="#020a06" />
<rect x="229.5" y="284.2" width="4.6" height="2.6" fill="#020a06" />
<rect x="245.9" y="284.2" width="4.6" height="2.6" fill="#020a06" />
<rect x="262.2" y="284.2" width="4.6" height="2.6" fill="#020a06" />
<rect x="278.6" y="284.2" width="4.6" height="2.6" fill="#020a06" />
<rect x="103.0" y="217.6" width="2.6" height="2.6" fill="#05100a" />
<rect x="224.0" y="217.6" width="2.6" height="2.6" fill="#05100a" />
<rect x="245.5" y="217.6" width="2.6" height="2.6" fill="#05100a" />
<rect x="259.5" y="217.6" width="2.6" height="2.6" fill="#05100a" />
<rect x="272.6" y="217.6" width="2.6" height="2.6" fill="#05100a" />
<rect x="330.0" y="217.6" width="2.6" height="2.6" fill="#05100a" />
<rect x="352.0" y="217.6" width="2.6" height="2.6" fill="#05100a" />
<path d="M334.8 353.7H376.8M334.8 369.5H376.8M306 374.2H327.8M306 382.3H327.8M313 392.9H320M345.6 392.9H352M375 392.9H381M313 400.6H320M345.6 400.6H352M375 400.6H381M330 337H352M362 337H388M330 342.5H352M362 342.5H388" stroke="#0a8a1e" stroke-opacity="0.55" stroke-width="1.6" stroke-dasharray="1.7 1" fill="none"/>
<path d="M205.6 249H214.6M205.6 253H214.6M205.6 257H214.6M205.6 261H214.6M205.6 265H214.6M226 260.4H229M246 260.4H249M260 259.5H263M274 259.5H277M331 228H334M331 236H338M352 262H355M300 262H303M372 275H375M318 300H321M352 322H355" stroke="#8a2ad8" stroke-opacity="0.5" stroke-width="1.5" fill="none"/>
<path d="M248.5 283.0v6.1M238.0 277.2v2.6M325.5 279.1h4.7M344.6 260.3h3.7M278.1 274.0v4.9M297.7 306.9v5.6M382.3 337.3v4.6M339.4 281.3h4.0M349.9 285.7h6.0M250.1 280.0v5.7M312.2 310.8v5.9M301.0 296.1v6.7M361.5 226.1h6.1M371.6 246.1h5.7M302.5 242.1h3.8M209.2 240.2h4.9M387.6 251.5h6.2M201.6 255.1h3.0M266.3 273.0h4.8M234.0 265.3h3.4M241.7 277.0h4.8M341.4 229.5v6.8M323.0 239.9v6.8M256.1 252.1h2.9M328.5 321.7v3.6M252.6 284.6v3.7M301.2 277.8v2.8M311.9 263.1v3.0M367.7 300.6h2.8M298.8 227.3v4.1M225.7 241.7h2.7M377.1 279.3h7.0M355.0 296.3h6.3M254.3 281.3h6.2M376.6 260.6v4.9M323.2 312.4h6.3M339.2 225.4h6.1M352.1 282.6h5.8M242.3 240.0h4.3M287.6 255.7h6.7M358.3 266.0v5.3M301.1 251.5h6.5M385.4 235.7v6.4M379.5 343.0h3.4M372.7 337.1v6.8M313.2 265.0h6.6M376.7 325.5h3.4M362.5 307.1h5.7M386.2 317.7v3.1M211.2 250.6v5.6M215.7 234.3v6.5M267.8 278.9h5.1M225.6 282.4v4.0M221.8 268.3h4.6M373.1 293.3v6.4M383.1 287.5v5.5M243.5 285.7h2.6M371.2 231.5v2.6M371.9 275.2h3.7M245.0 268.3h5.5M253.1 237.1v3.8M337.8 329.5h6.1M331.2 326.5h4.8M226.2 228.2h4.5M357.8 242.0h4.8M350.2 333.0h6.1M356.7 225.8h5.5M224.4 253.8h2.7M351.8 252.9h6.2M305.7 244.2v2.8M306.7 244.8h6.2M270.6 273.1h5.9M318.0 270.8v6.2M340.4 334.5v6.6M294.8 321.3h3.1" stroke="#0a7a3c" stroke-opacity="0.4" stroke-width="1.3" stroke-dasharray="1.5 0.8" fill="none"/>
<path d="M384.8 287.7h2.8M270.1 230.0h6.6M371.6 238.2h5.9M268.5 280.2h6.3M283.9 265.1v4.2M276.7 222.2h5.7M207.2 259.7h3.6M358.6 238.0h4.6M259.3 258.7h4.4M367.4 304.3v6.7M210.3 265.6v4.4M198.4 273.3h2.7M221.6 250.1v3.1M384.2 255.5h6.4M359.3 242.5v6.1M352.1 227.5h4.1M330.8 274.1h4.0M374.9 277.9v6.4M371.9 225.7v2.8M299.7 260.7v3.2M373.4 323.0h4.2M374.1 268.7v5.2M312.9 257.1v5.7M354.2 299.7v3.3M369.0 278.4h3.0M347.8 239.8v5.1M359.6 273.4v6.3M304.0 262.0h5.9M268.2 266.1v4.0M274.8 241.5h6.5M337.4 285.9h3.0M379.1 233.1h3.0M206.2 269.5h6.5M363.9 328.4v2.9M234.6 280.1h3.5M228.8 263.8v4.7M372.5 241.0h3.8M338.1 235.2v3.6M352.1 307.3v3.7M265.5 278.2h2.5M320.7 256.3h6.9M293.2 309.2h5.7M352.0 281.1h4.2M240.1 264.6h6.1M290.6 290.0v3.0M249.1 261.1h6.8M354.9 238.8h4.2M271.2 252.7h3.4M296.8 286.2h4.7M293.8 266.8h4.3M331.1 231.7h2.6M236.2 253.0v5.1M336.3 284.9v3.0M382.2 281.2h6.6M204.6 260.7h6.8M269.1 236.3v4.0M374.9 279.0h3.5M331.9 301.7v2.8M223.0 235.4h4.2M198.2 225.4h4.8M272.4 241.7h3.4M380.5 271.5h5.7M362.1 259.2h5.3M234.3 260.3v6.8M349.2 249.4h4.8M265.2 257.6v5.6M318.3 230.5v3.6M330.9 311.5v4.4M333.0 229.7h6.7M315.9 254.3h6.4M330.8 241.7h2.8M365.8 236.2h4.4M255.7 263.9h3.2M241.2 251.6v5.0M251.7 263.3h6.4" stroke="#7a30c8" stroke-opacity="0.33" stroke-width="1.3" stroke-dasharray="1.5 0.8" fill="none"/>
<rect x="71.0" y="229.5" width="4.5" height="2.5" fill="#04101a" />
<rect x="135.5" y="228.5" width="2.5" height="3.0" fill="#04101a" />
<rect x="129.5" y="259.0" width="4.0" height="2.5" fill="#04101a" />
<rect x="196.6" y="262.0" width="2.8" height="5.0" fill="#04101a" />
<rect x="291.0" y="226.0" width="3.5" height="5.5" fill="#04101a" />
<rect x="316.5" y="227.5" width="3.0" height="3.0" fill="#04101a" />
<rect x="311.0" y="238.0" width="3.0" height="5.0" fill="#04101a" />
<rect x="324.5" y="238.5" width="3.0" height="4.5" fill="#04101a" />
<rect x="346.0" y="238.0" width="3.0" height="3.0" fill="#04101a" />
<rect x="386.0" y="226.0" width="3.0" height="3.0" fill="#04101a" />
<rect x="287.0" y="249.0" width="2.5" height="2.5" fill="#04101a" />
<rect x="298.0" y="251.5" width="2.5" height="2.5" fill="#04101a" />
<rect x="316.0" y="254.5" width="3.0" height="3.0" fill="#04101a" />
<rect x="373.5" y="254.5" width="2.5" height="4.0" fill="#04101a" />
<rect x="387.0" y="254.0" width="3.0" height="3.0" fill="#04101a" />
<rect x="344.0" y="262.0" width="6.0" height="3.0" fill="#04101a" />
<rect x="369.0" y="262.5" width="3.0" height="3.5" fill="#04101a" />
<rect x="373.5" y="262.5" width="2.5" height="3.0" fill="#04101a" />
<rect x="293.0" y="267.0" width="5.5" height="3.0" fill="#04101a" />
<rect x="344.0" y="267.5" width="5.0" height="3.0" fill="#04101a" />
<rect x="374.0" y="268.0" width="5.5" height="3.0" fill="#04101a" />
<rect x="287.5" y="271.0" width="5.5" height="3.0" fill="#04101a" />
<rect x="281.0" y="274.0" width="3.0" height="4.0" fill="#04101a" />
<rect x="297.5" y="274.0" width="3.5" height="4.0" fill="#04101a" />
<rect x="287.5" y="278.5" width="4.5" height="3.0" fill="#04101a" />
<rect x="324.5" y="278.5" width="3.5" height="3.0" fill="#04101a" />
<rect x="295.0" y="300.0" width="5.0" height="2.5" fill="#04101a" />
<rect x="322.0" y="305.0" width="2.5" height="4.0" fill="#04101a" />
<rect x="335.0" y="311.5" width="3.0" height="5.0" fill="#04101a" />
<rect x="370.5" y="311.0" width="3.0" height="3.0" fill="#04101a" />
<rect x="379.0" y="311.0" width="5.0" height="5.0" fill="#04101a" />
<rect x="299.5" y="314.5" width="5.5" height="2.5" fill="#04101a" />
<rect x="297.5" y="319.0" width="5.0" height="5.0" fill="#04101a" />
<rect x="372.5" y="324.5" width="3.5" height="3.0" fill="#04101a" />
<rect x="343.5" y="330.0" width="2.5" height="5.5" fill="#04101a" />
<rect x="381.5" y="330.0" width="2.5" height="5.5" fill="#04101a" />
<rect x="322.0" y="360.0" width="5.0" height="5.0" fill="#04101a" />
<rect x="298.2" y="390.5" width="4.6" height="4.6" fill="#04101a" />
<rect x="330.2" y="390.5" width="4.6" height="4.6" fill="#04101a" />
<rect x="363.2" y="390.5" width="4.6" height="4.6" fill="#04101a" />
<rect x="330.2" y="398.3" width="4.6" height="4.6" fill="#04101a" />
<rect x="363.2" y="398.3" width="4.6" height="4.6" fill="#04101a" />
</g></g>
<g>
<rect x="501.1" y="216.1" width="335.6" height="232.6" fill="#000"/>
<g transform="matrix(1.0077 0 0 1.0118 437.59 -3.68)">
<clipPath id="hc2"><polygon points="67.5,219.0 388.5,219.0 392.4,223.2 392.4,405.6 299.7,405.6 289.3,385.0 289.3,338.0 288.2,338.0 288.2,287.3 166.0,287.3 166.0,308.0 92.0,308.0 92.0,306.3 79.0,306.3 79.0,256.7 92.0,256.7 92.0,254.0 148.0,254.0 148.0,267.4 193.6,267.4 193.6,229.8 172.8,229.8 167.0,238.4 150.0,238.4 150.0,240.6 139.0,240.6 139.0,238.4 136.0,238.4 136.0,240.6 124.0,240.6 124.0,238.4 82.5,238.4 82.5,240.6 71.5,240.6 71.5,238.4 68.0,238.4 66.0,236.0 66.0,221.5"/></clipPath>
<g clip-path="url(#hc2)" shape-rendering="crispEdges">
<path fill="#00c4ff" d="M65.5 219.0h3.8v3.8h-3.8zM146.0 219.0h3.8v3.8h-3.8zM198.5 219.0h3.8v3.8h-3.8zM384.0 219.0h7.3v3.8h-7.3zM65.5 222.5h3.8v3.8h-3.8zM146.0 222.5h3.8v3.8h-3.8zM384.0 222.5h7.3v3.8h-7.3zM65.5 226.0h3.8v3.8h-3.8zM146.0 226.0h3.8v3.8h-3.8zM387.5 226.0h7.3v3.8h-7.3zM65.5 229.5h3.8v3.8h-3.8zM146.0 229.5h3.8v3.8h-3.8zM188.0 229.5h3.8v3.8h-3.8zM65.5 233.0h3.8v3.8h-3.8zM146.0 233.0h3.8v3.8h-3.8zM65.5 236.5h3.8v3.8h-3.8zM146.0 236.5h3.8v3.8h-3.8zM146.0 240.0h3.8v3.8h-3.8zM387.5 327.5h7.3v3.8h-7.3zM293.0 338.0h3.8v3.8h-3.8zM377.0 338.0h3.8v3.8h-3.8zM314.0 348.5h3.8v3.8h-3.8zM373.5 348.5h3.8v3.8h-3.8zM310.5 352.0h3.8v3.8h-3.8zM373.5 352.0h3.8v3.8h-3.8zM310.5 355.5h3.8v3.8h-3.8zM370.0 359.0h3.8v3.8h-3.8zM314.0 362.5h3.8v3.8h-3.8zM366.5 366.0h3.8v3.8h-3.8zM317.5 369.5h3.8v3.8h-3.8zM321.0 373.0h3.8v3.8h-3.8zM324.5 376.5h3.8v3.8h-3.8zM328.0 380.0h3.8v3.8h-3.8zM363.0 380.0h3.8v3.8h-3.8zM331.5 383.5h7.3v3.8h-7.3zM338.5 387.0h7.3v3.8h-7.3zM359.5 387.0h3.8v3.8h-3.8zM345.5 390.5h10.8v3.8h-10.8z"/>
<path fill="#00bcff" d="M69.0 219.0h7.3v3.8h-7.3zM377.0 219.0h7.3v3.8h-7.3zM69.0 222.5h7.3v3.8h-7.3zM377.0 222.5h7.3v3.8h-7.3zM69.0 226.0h7.3v3.8h-7.3zM195.0 226.0h3.8v3.8h-3.8zM380.5 226.0h7.3v3.8h-7.3zM69.0 229.5h7.3v3.8h-7.3zM191.5 229.5h3.8v3.8h-3.8zM384.0 229.5h10.8v3.8h-10.8zM69.0 233.0h7.3v3.8h-7.3zM391.0 233.0h3.8v3.8h-3.8zM69.0 236.5h7.3v3.8h-7.3zM69.0 240.0h7.3v3.8h-7.3zM391.0 324.0h3.8v3.8h-3.8zM384.0 327.5h3.8v3.8h-3.8zM380.5 331.0h3.8v3.8h-3.8zM377.0 334.5h3.8v3.8h-3.8zM289.5 338.0h3.8v3.8h-3.8zM296.5 338.0h3.8v3.8h-3.8zM373.5 338.0h3.8v3.8h-3.8zM314.0 341.5h3.8v3.8h-3.8zM373.5 341.5h3.8v3.8h-3.8zM317.5 345.0h3.8v3.8h-3.8zM373.5 345.0h3.8v3.8h-3.8zM317.5 348.5h3.8v3.8h-3.8zM370.0 352.0h3.8v3.8h-3.8zM370.0 355.5h3.8v3.8h-3.8zM314.0 359.0h3.8v3.8h-3.8zM366.5 362.5h3.8v3.8h-3.8zM317.5 366.0h3.8v3.8h-3.8zM321.0 369.5h3.8v3.8h-3.8zM324.5 373.0h7.3v3.8h-7.3zM363.0 373.0h3.8v3.8h-3.8zM328.0 376.5h7.3v3.8h-7.3zM363.0 376.5h3.8v3.8h-3.8zM331.5 380.0h7.3v3.8h-7.3zM338.5 383.5h7.3v3.8h-7.3zM359.5 383.5h3.8v3.8h-3.8zM345.5 387.0h14.3v3.8h-14.3z"/>
<path fill="#00b4ff" d="M76.0 219.0h7.3v3.8h-7.3zM142.5 219.0h3.8v3.8h-3.8zM202.0 219.0h3.8v3.8h-3.8zM370.0 219.0h7.3v3.8h-7.3zM76.0 222.5h7.3v3.8h-7.3zM142.5 222.5h3.8v3.8h-3.8zM198.5 222.5h3.8v3.8h-3.8zM373.5 222.5h3.8v3.8h-3.8zM76.0 226.0h7.3v3.8h-7.3zM142.5 226.0h3.8v3.8h-3.8zM373.5 226.0h7.3v3.8h-7.3zM76.0 229.5h7.3v3.8h-7.3zM142.5 229.5h3.8v3.8h-3.8zM377.0 229.5h7.3v3.8h-7.3zM76.0 233.0h7.3v3.8h-7.3zM142.5 233.0h3.8v3.8h-3.8zM384.0 233.0h7.3v3.8h-7.3zM76.0 236.5h7.3v3.8h-7.3zM142.5 236.5h3.8v3.8h-3.8zM391.0 236.5h3.8v3.8h-3.8zM76.0 240.0h7.3v3.8h-7.3zM142.5 240.0h3.8v3.8h-3.8zM387.5 324.0h3.8v3.8h-3.8zM380.5 327.5h3.8v3.8h-3.8zM377.0 331.0h3.8v3.8h-3.8zM373.5 334.5h3.8v3.8h-3.8zM300.0 338.0h3.8v3.8h-3.8zM321.0 345.0h7.3v3.8h-7.3zM321.0 348.5h7.3v3.8h-7.3zM370.0 348.5h3.8v3.8h-3.8zM366.5 355.5h3.8v3.8h-3.8zM366.5 359.0h3.8v3.8h-3.8zM317.5 362.5h7.3v3.8h-7.3zM321.0 366.0h7.3v3.8h-7.3zM363.0 366.0h3.8v3.8h-3.8zM324.5 369.5h10.8v3.8h-10.8zM363.0 369.5h3.8v3.8h-3.8zM331.5 373.0h7.3v3.8h-7.3zM335.0 376.5h3.8v3.8h-3.8zM359.5 376.5h3.8v3.8h-3.8zM338.5 380.0h7.3v3.8h-7.3zM359.5 380.0h3.8v3.8h-3.8zM345.5 383.5h14.3v3.8h-14.3z"/>
<path fill="#00acff" d="M83.0 219.0h3.8v3.8h-3.8zM363.0 219.0h7.3v3.8h-7.3zM83.0 222.5h3.8v3.8h-3.8zM366.5 222.5h7.3v3.8h-7.3zM83.0 226.0h3.8v3.8h-3.8zM198.5 226.0h3.8v3.8h-3.8zM370.0 226.0h3.8v3.8h-3.8zM83.0 229.5h3.8v3.8h-3.8zM195.0 229.5h3.8v3.8h-3.8zM373.5 229.5h3.8v3.8h-3.8zM83.0 233.0h3.8v3.8h-3.8zM377.0 233.0h7.3v3.8h-7.3zM83.0 236.5h3.8v3.8h-3.8zM380.5 236.5h10.8v3.8h-10.8zM387.5 240.0h7.3v3.8h-7.3zM391.0 320.5h3.8v3.8h-3.8zM384.0 324.0h3.8v3.8h-3.8zM377.0 327.5h3.8v3.8h-3.8zM373.5 331.0h3.8v3.8h-3.8zM370.0 334.5h3.8v3.8h-3.8zM303.5 338.0h3.8v3.8h-3.8zM370.0 338.0h3.8v3.8h-3.8zM317.5 341.5h3.8v3.8h-3.8zM370.0 341.5h3.8v3.8h-3.8zM328.0 345.0h3.8v3.8h-3.8zM370.0 345.0h3.8v3.8h-3.8zM328.0 348.5h3.8v3.8h-3.8zM366.5 348.5h3.8v3.8h-3.8zM314.0 352.0h14.3v3.8h-14.3zM366.5 352.0h3.8v3.8h-3.8zM314.0 355.5h14.3v3.8h-14.3zM317.5 359.0h10.8v3.8h-10.8zM324.5 362.5h7.3v3.8h-7.3zM363.0 362.5h3.8v3.8h-3.8zM328.0 366.0h10.8v3.8h-10.8zM335.0 369.5h7.3v3.8h-7.3zM338.5 373.0h3.8v3.8h-3.8zM359.5 373.0h3.8v3.8h-3.8zM338.5 376.5h7.3v3.8h-7.3zM345.5 380.0h14.3v3.8h-14.3z"/>
<path fill="#009cff" d="M86.5 219.0h3.8v3.8h-3.8zM209.0 219.0h3.8v3.8h-3.8zM352.5 219.0h3.8v3.8h-3.8zM86.5 222.5h3.8v3.8h-3.8zM205.5 222.5h3.8v3.8h-3.8zM352.5 222.5h7.3v3.8h-7.3zM86.5 226.0h3.8v3.8h-3.8zM202.0 226.0h3.8v3.8h-3.8zM356.0 226.0h7.3v3.8h-7.3zM86.5 229.5h3.8v3.8h-3.8zM198.5 229.5h3.8v3.8h-3.8zM359.5 229.5h7.3v3.8h-7.3zM86.5 233.0h3.8v3.8h-3.8zM363.0 233.0h7.3v3.8h-7.3zM86.5 236.5h3.8v3.8h-3.8zM366.5 236.5h7.3v3.8h-7.3zM370.0 240.0h10.8v3.8h-10.8zM377.0 243.5h7.3v3.8h-7.3zM384.0 247.0h7.3v3.8h-7.3zM387.5 250.5h7.3v3.8h-7.3zM387.5 317.0h3.8v3.8h-3.8zM380.5 320.5h3.8v3.8h-3.8zM373.5 324.0h3.8v3.8h-3.8zM370.0 327.5h3.8v3.8h-3.8zM366.5 331.0h3.8v3.8h-3.8zM363.0 334.5h3.8v3.8h-3.8zM314.0 338.0h3.8v3.8h-3.8zM359.5 338.0h7.3v3.8h-7.3zM324.5 341.5h7.3v3.8h-7.3zM359.5 341.5h7.3v3.8h-7.3zM331.5 345.0h3.8v3.8h-3.8zM359.5 345.0h7.3v3.8h-7.3zM331.5 348.5h3.8v3.8h-3.8zM363.0 348.5h3.8v3.8h-3.8zM331.5 352.0h3.8v3.8h-3.8zM363.0 352.0h3.8v3.8h-3.8zM331.5 355.5h3.8v3.8h-3.8zM335.0 359.0h3.8v3.8h-3.8zM359.5 359.0h3.8v3.8h-3.8zM338.5 362.5h3.8v3.8h-3.8zM359.5 362.5h3.8v3.8h-3.8zM342.0 366.0h3.8v3.8h-3.8zM345.5 369.5h7.3v3.8h-7.3zM356.0 369.5h3.8v3.8h-3.8zM349.0 373.0h7.3v3.8h-7.3z"/>
<path fill="#0084ff" d="M90.0 219.0h3.8v3.8h-3.8zM223.0 219.0h10.8v3.8h-10.8zM328.0 219.0h10.8v3.8h-10.8zM90.0 222.5h3.8v3.8h-3.8zM216.0 222.5h7.3v3.8h-7.3zM335.0 222.5h7.3v3.8h-7.3zM90.0 226.0h3.8v3.8h-3.8zM212.5 226.0h3.8v3.8h-3.8zM338.5 226.0h7.3v3.8h-7.3zM90.0 229.5h3.8v3.8h-3.8zM205.5 229.5h3.8v3.8h-3.8zM342.0 229.5h7.3v3.8h-7.3zM90.0 233.0h3.8v3.8h-3.8zM202.0 233.0h3.8v3.8h-3.8zM345.5 233.0h7.3v3.8h-7.3zM90.0 236.5h3.8v3.8h-3.8zM195.0 236.5h3.8v3.8h-3.8zM352.5 236.5h3.8v3.8h-3.8zM356.0 240.0h3.8v3.8h-3.8zM359.5 243.5h3.8v3.8h-3.8zM363.0 247.0h7.3v3.8h-7.3zM366.5 250.5h7.3v3.8h-7.3zM373.5 254.0h7.3v3.8h-7.3zM380.5 257.5h3.8v3.8h-3.8zM384.0 261.0h7.3v3.8h-7.3zM391.0 264.5h3.8v3.8h-3.8zM391.0 306.5h3.8v3.8h-3.8zM387.5 310.0h3.8v3.8h-3.8zM380.5 313.5h7.3v3.8h-7.3zM373.5 317.0h3.8v3.8h-3.8zM366.5 320.5h3.8v3.8h-3.8zM359.5 324.0h7.3v3.8h-7.3zM352.5 327.5h3.8v3.8h-3.8zM349.0 331.0h3.8v3.8h-3.8zM296.5 334.5h7.3v3.8h-7.3zM314.0 334.5h3.8v3.8h-3.8zM345.5 334.5h3.8v3.8h-3.8zM324.5 338.0h21.3v3.8h-21.3zM349.0 352.0h10.8v3.8h-10.8zM349.0 355.5h10.8v3.8h-10.8z"/>
<path fill="#006cff" d="M93.5 219.0h3.8v3.8h-3.8zM128.5 219.0h3.8v3.8h-3.8zM261.5 219.0h38.8v3.8h-38.8zM93.5 222.5h3.8v3.8h-3.8zM128.5 222.5h3.8v3.8h-3.8zM247.5 222.5h21.3v3.8h-21.3zM293.0 222.5h17.8v3.8h-17.8zM93.5 226.0h3.8v3.8h-3.8zM128.5 226.0h3.8v3.8h-3.8zM237.0 226.0h17.8v3.8h-17.8zM300.0 226.0h21.3v3.8h-21.3zM93.5 229.5h3.8v3.8h-3.8zM128.5 229.5h3.8v3.8h-3.8zM226.5 229.5h14.3v3.8h-14.3zM310.5 229.5h14.3v3.8h-14.3zM93.5 233.0h3.8v3.8h-3.8zM128.5 233.0h3.8v3.8h-3.8zM216.0 233.0h10.8v3.8h-10.8zM321.0 233.0h10.8v3.8h-10.8zM93.5 236.5h3.8v3.8h-3.8zM128.5 236.5h3.8v3.8h-3.8zM205.5 236.5h10.8v3.8h-10.8zM328.0 236.5h10.8v3.8h-10.8zM128.5 240.0h3.8v3.8h-3.8zM198.5 240.0h3.8v3.8h-3.8zM335.0 240.0h7.3v3.8h-7.3zM191.5 243.5h3.8v3.8h-3.8zM338.5 243.5h7.3v3.8h-7.3zM345.5 247.0h7.3v3.8h-7.3zM349.0 250.5h7.3v3.8h-7.3zM356.0 254.0h3.8v3.8h-3.8zM359.5 257.5h7.3v3.8h-7.3zM363.0 261.0h7.3v3.8h-7.3zM370.0 264.5h7.3v3.8h-7.3zM373.5 268.0h7.3v3.8h-7.3zM380.5 271.5h7.3v3.8h-7.3zM384.0 275.0h7.3v3.8h-7.3zM384.0 278.5h7.3v3.8h-7.3zM387.5 282.0h3.8v3.8h-3.8zM387.5 285.5h7.3v3.8h-7.3zM391.0 289.0h3.8v3.8h-3.8zM391.0 292.5h3.8v3.8h-3.8zM387.5 299.5h3.8v3.8h-3.8zM384.0 303.0h3.8v3.8h-3.8zM377.0 306.5h7.3v3.8h-7.3zM370.0 310.0h7.3v3.8h-7.3zM363.0 313.5h7.3v3.8h-7.3zM356.0 317.0h7.3v3.8h-7.3zM349.0 320.5h7.3v3.8h-7.3zM342.0 324.0h7.3v3.8h-7.3zM338.5 327.5h3.8v3.8h-3.8zM328.0 331.0h7.3v3.8h-7.3z"/>
<path fill="#005cff" d="M97.0 219.0h3.8v3.8h-3.8zM125.0 219.0h3.8v3.8h-3.8zM97.0 222.5h3.8v3.8h-3.8zM125.0 222.5h3.8v3.8h-3.8zM97.0 226.0h3.8v3.8h-3.8zM125.0 226.0h3.8v3.8h-3.8zM279.0 226.0h7.3v3.8h-7.3zM97.0 229.5h3.8v3.8h-3.8zM125.0 229.5h3.8v3.8h-3.8zM261.5 229.5h31.8v3.8h-31.8zM97.0 233.0h3.8v3.8h-3.8zM125.0 233.0h3.8v3.8h-3.8zM247.5 233.0h21.3v3.8h-21.3zM286.0 233.0h10.8v3.8h-10.8zM97.0 236.5h3.8v3.8h-3.8zM125.0 236.5h3.8v3.8h-3.8zM230.0 236.5h24.8v3.8h-24.8zM293.0 236.5h14.3v3.8h-14.3zM125.0 240.0h3.8v3.8h-3.8zM212.5 240.0h21.3v3.8h-21.3zM293.0 240.0h28.3v3.8h-28.3zM198.5 243.5h10.8v3.8h-10.8zM307.0 243.5h21.3v3.8h-21.3zM191.5 247.0h3.8v3.8h-3.8zM324.5 247.0h10.8v3.8h-10.8zM331.5 250.5h10.8v3.8h-10.8zM338.5 254.0h10.8v3.8h-10.8zM345.5 257.5h7.3v3.8h-7.3zM349.0 261.0h7.3v3.8h-7.3zM356.0 264.5h7.3v3.8h-7.3zM359.5 268.0h7.3v3.8h-7.3zM363.0 271.5h10.8v3.8h-10.8zM370.0 275.0h7.3v3.8h-7.3zM370.0 278.5h10.8v3.8h-10.8zM373.5 282.0h7.3v3.8h-7.3zM373.5 285.5h10.8v3.8h-10.8zM377.0 289.0h10.8v3.8h-10.8zM380.5 292.5h7.3v3.8h-7.3zM377.0 296.0h7.3v3.8h-7.3zM370.0 299.5h10.8v3.8h-10.8zM366.5 303.0h7.3v3.8h-7.3zM363.0 306.5h7.3v3.8h-7.3zM359.5 310.0h3.8v3.8h-3.8zM349.0 313.5h10.8v3.8h-10.8zM342.0 317.0h7.3v3.8h-7.3zM338.5 320.5h3.8v3.8h-3.8zM331.5 324.0h7.3v3.8h-7.3zM321.0 327.5h10.8v3.8h-10.8zM293.0 331.0h7.3v3.8h-7.3zM310.5 331.0h3.8v3.8h-3.8z"/>
<path fill="#004cff" d="M100.5 219.0h3.8v3.8h-3.8zM121.5 219.0h3.8v3.8h-3.8zM100.5 222.5h3.8v3.8h-3.8zM121.5 222.5h3.8v3.8h-3.8zM100.5 226.0h3.8v3.8h-3.8zM121.5 226.0h3.8v3.8h-3.8zM100.5 229.5h3.8v3.8h-3.8zM121.5 229.5h3.8v3.8h-3.8zM100.5 233.0h3.8v3.8h-3.8zM121.5 233.0h3.8v3.8h-3.8zM100.5 236.5h3.8v3.8h-3.8zM121.5 236.5h3.8v3.8h-3.8zM121.5 240.0h3.8v3.8h-3.8zM261.5 240.0h28.3v3.8h-28.3zM237.0 243.5h38.8v3.8h-38.8zM279.0 243.5h14.3v3.8h-14.3zM202.0 247.0h52.8v3.8h-52.8zM289.5 247.0h7.3v3.8h-7.3zM191.5 250.5h3.8v3.8h-3.8zM293.0 250.5h14.3v3.8h-14.3zM296.5 254.0h28.3v3.8h-28.3zM310.5 257.5h21.3v3.8h-21.3zM324.5 261.0h14.3v3.8h-14.3zM335.0 264.5h10.8v3.8h-10.8zM338.5 268.0h10.8v3.8h-10.8zM345.5 271.5h10.8v3.8h-10.8zM349.0 275.0h10.8v3.8h-10.8zM352.5 278.5h10.8v3.8h-10.8zM356.0 282.0h7.3v3.8h-7.3zM359.5 285.5h7.3v3.8h-7.3zM359.5 289.0h7.3v3.8h-7.3zM359.5 292.5h7.3v3.8h-7.3zM359.5 296.0h7.3v3.8h-7.3zM356.0 299.5h7.3v3.8h-7.3zM352.5 303.0h7.3v3.8h-7.3zM345.5 306.5h10.8v3.8h-10.8zM338.5 310.0h10.8v3.8h-10.8zM335.0 313.5h7.3v3.8h-7.3zM331.5 317.0h3.8v3.8h-3.8zM324.5 320.5h7.3v3.8h-7.3zM317.5 324.0h7.3v3.8h-7.3zM300.0 331.0h3.8v3.8h-3.8z"/>
<path fill="#0044ff" d="M104.0 219.0h7.3v3.8h-7.3zM114.5 219.0h7.3v3.8h-7.3zM104.0 222.5h7.3v3.8h-7.3zM114.5 222.5h7.3v3.8h-7.3zM104.0 226.0h7.3v3.8h-7.3zM114.5 226.0h7.3v3.8h-7.3zM104.0 229.5h7.3v3.8h-7.3zM114.5 229.5h7.3v3.8h-7.3zM104.0 233.0h7.3v3.8h-7.3zM114.5 233.0h7.3v3.8h-7.3zM104.0 236.5h7.3v3.8h-7.3zM114.5 236.5h7.3v3.8h-7.3zM275.5 243.5h3.8v3.8h-3.8zM254.5 247.0h35.3v3.8h-35.3zM195.0 250.5h66.8v3.8h-66.8zM282.5 250.5h10.8v3.8h-10.8zM191.5 254.0h3.8v3.8h-3.8zM289.5 254.0h7.3v3.8h-7.3zM293.0 257.5h17.8v3.8h-17.8zM300.0 261.0h24.8v3.8h-24.8zM314.0 264.5h21.3v3.8h-21.3zM324.5 268.0h14.3v3.8h-14.3zM331.5 271.5h14.3v3.8h-14.3zM335.0 275.0h14.3v3.8h-14.3zM338.5 278.5h14.3v3.8h-14.3zM342.0 282.0h14.3v3.8h-14.3zM342.0 285.5h17.8v3.8h-17.8zM345.5 289.0h14.3v3.8h-14.3zM345.5 292.5h14.3v3.8h-14.3zM345.5 296.0h14.3v3.8h-14.3zM342.0 299.5h14.3v3.8h-14.3zM338.5 303.0h14.3v3.8h-14.3zM335.0 306.5h10.8v3.8h-10.8zM331.5 310.0h7.3v3.8h-7.3zM328.0 313.5h7.3v3.8h-7.3zM324.5 317.0h7.3v3.8h-7.3zM317.5 320.5h7.3v3.8h-7.3zM314.0 324.0h3.8v3.8h-3.8zM310.5 327.5h3.8v3.8h-3.8z"/>
<path fill="#003cff" d="M111.0 219.0h3.8v3.8h-3.8zM111.0 222.5h3.8v3.8h-3.8zM111.0 226.0h3.8v3.8h-3.8zM111.0 229.5h3.8v3.8h-3.8zM111.0 233.0h3.8v3.8h-3.8zM111.0 236.5h3.8v3.8h-3.8zM261.5 250.5h21.3v3.8h-21.3zM195.0 254.0h94.8v3.8h-94.8zM191.5 257.5h3.8v3.8h-3.8zM286.0 257.5h7.3v3.8h-7.3zM293.0 261.0h7.3v3.8h-7.3zM296.5 264.5h17.8v3.8h-17.8zM300.0 268.0h24.8v3.8h-24.8zM310.5 271.5h21.3v3.8h-21.3zM321.0 275.0h14.3v3.8h-14.3zM324.5 278.5h14.3v3.8h-14.3zM331.5 282.0h10.8v3.8h-10.8zM335.0 285.5h7.3v3.8h-7.3zM335.0 289.0h10.8v3.8h-10.8zM335.0 292.5h10.8v3.8h-10.8zM335.0 296.0h10.8v3.8h-10.8zM331.5 299.5h10.8v3.8h-10.8zM328.0 303.0h10.8v3.8h-10.8zM328.0 306.5h7.3v3.8h-7.3zM324.5 310.0h7.3v3.8h-7.3zM321.0 313.5h7.3v3.8h-7.3zM317.5 317.0h7.3v3.8h-7.3zM314.0 320.5h3.8v3.8h-3.8zM310.5 324.0h3.8v3.8h-3.8zM286.0 327.5h14.3v3.8h-14.3zM303.5 327.5h7.3v3.8h-7.3z"/>
<path fill="#0074ff" d="M132.0 219.0h3.8v3.8h-3.8zM244.0 219.0h17.8v3.8h-17.8zM300.0 219.0h17.8v3.8h-17.8zM132.0 222.5h3.8v3.8h-3.8zM233.5 222.5h14.3v3.8h-14.3zM310.5 222.5h14.3v3.8h-14.3zM132.0 226.0h3.8v3.8h-3.8zM223.0 226.0h14.3v3.8h-14.3zM321.0 226.0h10.8v3.8h-10.8zM132.0 229.5h3.8v3.8h-3.8zM216.0 229.5h10.8v3.8h-10.8zM324.5 229.5h10.8v3.8h-10.8zM132.0 233.0h3.8v3.8h-3.8zM209.0 233.0h7.3v3.8h-7.3zM331.5 233.0h7.3v3.8h-7.3zM132.0 236.5h3.8v3.8h-3.8zM202.0 236.5h3.8v3.8h-3.8zM338.5 236.5h7.3v3.8h-7.3zM132.0 240.0h3.8v3.8h-3.8zM195.0 240.0h3.8v3.8h-3.8zM342.0 240.0h7.3v3.8h-7.3zM345.5 243.5h7.3v3.8h-7.3zM352.5 247.0h3.8v3.8h-3.8zM356.0 250.5h7.3v3.8h-7.3zM359.5 254.0h7.3v3.8h-7.3zM366.5 257.5h7.3v3.8h-7.3zM370.0 261.0h7.3v3.8h-7.3zM377.0 264.5h7.3v3.8h-7.3zM380.5 268.0h7.3v3.8h-7.3zM387.5 271.5h7.3v3.8h-7.3zM391.0 275.0h3.8v3.8h-3.8zM391.0 278.5h3.8v3.8h-3.8zM391.0 282.0h3.8v3.8h-3.8zM391.0 296.0h3.8v3.8h-3.8zM391.0 299.5h3.8v3.8h-3.8zM387.5 303.0h3.8v3.8h-3.8zM384.0 306.5h3.8v3.8h-3.8zM377.0 310.0h7.3v3.8h-7.3zM370.0 313.5h3.8v3.8h-3.8zM363.0 317.0h3.8v3.8h-3.8zM356.0 320.5h3.8v3.8h-3.8zM349.0 324.0h3.8v3.8h-3.8zM342.0 327.5h7.3v3.8h-7.3zM335.0 331.0h7.3v3.8h-7.3zM324.5 334.5h7.3v3.8h-7.3z"/>
<path fill="#008cff" d="M135.5 219.0h3.8v3.8h-3.8zM216.0 219.0h7.3v3.8h-7.3zM338.5 219.0h7.3v3.8h-7.3zM135.5 222.5h3.8v3.8h-3.8zM212.5 222.5h3.8v3.8h-3.8zM342.0 222.5h7.3v3.8h-7.3zM135.5 226.0h3.8v3.8h-3.8zM205.5 226.0h7.3v3.8h-7.3zM345.5 226.0h7.3v3.8h-7.3zM135.5 229.5h3.8v3.8h-3.8zM202.0 229.5h3.8v3.8h-3.8zM349.0 229.5h7.3v3.8h-7.3zM135.5 233.0h3.8v3.8h-3.8zM198.5 233.0h3.8v3.8h-3.8zM352.5 233.0h7.3v3.8h-7.3zM135.5 236.5h3.8v3.8h-3.8zM191.5 236.5h3.8v3.8h-3.8zM356.0 236.5h7.3v3.8h-7.3zM359.5 240.0h7.3v3.8h-7.3zM363.0 243.5h7.3v3.8h-7.3zM370.0 247.0h7.3v3.8h-7.3zM373.5 250.5h7.3v3.8h-7.3zM380.5 254.0h7.3v3.8h-7.3zM384.0 257.5h7.3v3.8h-7.3zM391.0 261.0h3.8v3.8h-3.8zM391.0 310.0h3.8v3.8h-3.8zM387.5 313.5h3.8v3.8h-3.8zM377.0 317.0h7.3v3.8h-7.3zM370.0 320.5h7.3v3.8h-7.3zM366.5 324.0h3.8v3.8h-3.8zM356.0 327.5h7.3v3.8h-7.3zM352.5 331.0h3.8v3.8h-3.8zM286.0 334.5h10.8v3.8h-10.8zM349.0 334.5h7.3v3.8h-7.3zM321.0 338.0h3.8v3.8h-3.8zM345.5 338.0h7.3v3.8h-7.3zM335.0 341.5h17.8v3.8h-17.8zM338.5 345.0h14.3v3.8h-14.3zM338.5 348.5h21.3v3.8h-21.3zM338.5 352.0h10.8v3.8h-10.8zM338.5 355.5h10.8v3.8h-10.8zM345.5 359.0h14.3v3.8h-14.3zM349.0 362.5h7.3v3.8h-7.3z"/>
<path fill="#00a4ff" d="M139.0 219.0h3.8v3.8h-3.8zM205.5 219.0h3.8v3.8h-3.8zM356.0 219.0h7.3v3.8h-7.3zM139.0 222.5h3.8v3.8h-3.8zM202.0 222.5h3.8v3.8h-3.8zM359.5 222.5h7.3v3.8h-7.3zM139.0 226.0h3.8v3.8h-3.8zM363.0 226.0h7.3v3.8h-7.3zM139.0 229.5h3.8v3.8h-3.8zM366.5 229.5h7.3v3.8h-7.3zM139.0 233.0h3.8v3.8h-3.8zM191.5 233.0h3.8v3.8h-3.8zM370.0 233.0h7.3v3.8h-7.3zM139.0 236.5h3.8v3.8h-3.8zM373.5 236.5h7.3v3.8h-7.3zM139.0 240.0h3.8v3.8h-3.8zM380.5 240.0h7.3v3.8h-7.3zM384.0 243.5h10.8v3.8h-10.8zM391.0 247.0h3.8v3.8h-3.8zM391.0 317.0h3.8v3.8h-3.8zM384.0 320.5h7.3v3.8h-7.3zM377.0 324.0h7.3v3.8h-7.3zM373.5 327.5h3.8v3.8h-3.8zM370.0 331.0h3.8v3.8h-3.8zM366.5 334.5h3.8v3.8h-3.8zM307.0 338.0h7.3v3.8h-7.3zM366.5 338.0h3.8v3.8h-3.8zM321.0 341.5h3.8v3.8h-3.8zM366.5 341.5h3.8v3.8h-3.8zM366.5 345.0h3.8v3.8h-3.8zM328.0 352.0h3.8v3.8h-3.8zM328.0 355.5h3.8v3.8h-3.8zM363.0 355.5h3.8v3.8h-3.8zM328.0 359.0h7.3v3.8h-7.3zM363.0 359.0h3.8v3.8h-3.8zM331.5 362.5h7.3v3.8h-7.3zM338.5 366.0h3.8v3.8h-3.8zM359.5 366.0h3.8v3.8h-3.8zM342.0 369.5h3.8v3.8h-3.8zM359.5 369.5h3.8v3.8h-3.8zM342.0 373.0h7.3v3.8h-7.3zM356.0 373.0h3.8v3.8h-3.8zM345.5 376.5h14.3v3.8h-14.3z"/>
<path fill="#00d4ff" d="M149.5 219.0h3.8v3.8h-3.8zM195.0 219.0h3.8v3.8h-3.8zM149.5 222.5h3.8v3.8h-3.8zM149.5 226.0h3.8v3.8h-3.8zM149.5 229.5h3.8v3.8h-3.8zM181.0 229.5h3.8v3.8h-3.8zM149.5 233.0h3.8v3.8h-3.8zM149.5 236.5h3.8v3.8h-3.8zM149.5 240.0h3.8v3.8h-3.8zM384.0 334.5h7.3v3.8h-7.3zM380.5 338.0h3.8v3.8h-3.8zM303.5 341.5h3.8v3.8h-3.8zM380.5 341.5h3.8v3.8h-3.8zM314.0 345.0h3.8v3.8h-3.8zM380.5 345.0h3.8v3.8h-3.8zM310.5 348.5h3.8v3.8h-3.8zM380.5 348.5h3.8v3.8h-3.8zM380.5 352.0h3.8v3.8h-3.8zM377.0 355.5h3.8v3.8h-3.8zM373.5 359.0h3.8v3.8h-3.8zM310.5 362.5h3.8v3.8h-3.8zM370.0 366.0h3.8v3.8h-3.8zM314.0 373.0h3.8v3.8h-3.8zM317.5 376.5h3.8v3.8h-3.8zM366.5 376.5h3.8v3.8h-3.8zM317.5 380.0h3.8v3.8h-3.8zM366.5 380.0h3.8v3.8h-3.8zM321.0 383.5h7.3v3.8h-7.3zM328.0 387.0h3.8v3.8h-3.8zM363.0 387.0h3.8v3.8h-3.8zM331.5 390.5h10.8v3.8h-10.8zM338.5 394.0h7.3v3.8h-7.3zM356.0 394.0h3.8v3.8h-3.8zM345.5 397.5h10.8v3.8h-10.8z"/>
<path fill="#00e4ff" d="M153.0 219.0h3.8v3.8h-3.8zM153.0 222.5h3.8v3.8h-3.8zM191.5 222.5h3.8v3.8h-3.8zM153.0 226.0h3.8v3.8h-3.8zM184.5 226.0h3.8v3.8h-3.8zM153.0 229.5h3.8v3.8h-3.8zM153.0 233.0h3.8v3.8h-3.8zM153.0 236.5h3.8v3.8h-3.8zM391.0 338.0h3.8v3.8h-3.8zM286.0 341.5h3.8v3.8h-3.8zM300.0 341.5h3.8v3.8h-3.8zM384.0 341.5h10.8v3.8h-10.8zM307.0 345.0h3.8v3.8h-3.8zM384.0 345.0h7.3v3.8h-7.3zM307.0 348.5h3.8v3.8h-3.8zM384.0 348.5h7.3v3.8h-7.3zM384.0 355.5h3.8v3.8h-3.8zM380.5 359.0h3.8v3.8h-3.8zM307.0 362.5h3.8v3.8h-3.8zM377.0 362.5h3.8v3.8h-3.8zM373.5 366.0h3.8v3.8h-3.8zM310.5 369.5h3.8v3.8h-3.8zM310.5 373.0h3.8v3.8h-3.8zM370.0 376.5h3.8v3.8h-3.8zM370.0 380.0h3.8v3.8h-3.8zM314.0 383.5h3.8v3.8h-3.8zM317.5 387.0h3.8v3.8h-3.8zM321.0 390.5h7.3v3.8h-7.3zM366.5 390.5h3.8v3.8h-3.8zM328.0 394.0h3.8v3.8h-3.8zM363.0 394.0h3.8v3.8h-3.8zM331.5 397.5h7.3v3.8h-7.3zM359.5 397.5h3.8v3.8h-3.8zM335.0 401.0h10.8v3.8h-10.8zM356.0 401.0h3.8v3.8h-3.8zM345.5 404.5h10.8v3.8h-10.8z"/>
<path fill="#00f4ff" d="M156.5 219.0h3.8v3.8h-3.8zM188.0 219.0h3.8v3.8h-3.8zM156.5 222.5h3.8v3.8h-3.8zM184.5 222.5h3.8v3.8h-3.8zM156.5 226.0h3.8v3.8h-3.8zM177.5 226.0h3.8v3.8h-3.8zM156.5 229.5h3.8v3.8h-3.8zM156.5 233.0h3.8v3.8h-3.8zM156.5 236.5h3.8v3.8h-3.8zM293.0 341.5h3.8v3.8h-3.8zM303.5 348.5h3.8v3.8h-3.8zM303.5 352.0h3.8v3.8h-3.8zM391.0 352.0h3.8v3.8h-3.8zM391.0 355.5h3.8v3.8h-3.8zM303.5 359.0h3.8v3.8h-3.8zM387.5 359.0h3.8v3.8h-3.8zM380.5 362.5h3.8v3.8h-3.8zM377.0 366.0h3.8v3.8h-3.8zM307.0 369.5h3.8v3.8h-3.8zM307.0 373.0h3.8v3.8h-3.8zM373.5 373.0h3.8v3.8h-3.8zM373.5 376.5h3.8v3.8h-3.8zM310.5 383.5h3.8v3.8h-3.8zM314.0 390.5h3.8v3.8h-3.8zM370.0 390.5h3.8v3.8h-3.8zM317.5 394.0h7.3v3.8h-7.3zM324.5 397.5h3.8v3.8h-3.8zM328.0 401.0h3.8v3.8h-3.8zM363.0 401.0h3.8v3.8h-3.8zM331.5 404.5h3.8v3.8h-3.8zM359.5 404.5h3.8v3.8h-3.8z"/>
<path fill="#00fffb" d="M160.0 219.0h3.8v3.8h-3.8zM181.0 219.0h3.8v3.8h-3.8zM160.0 222.5h3.8v3.8h-3.8zM177.5 222.5h3.8v3.8h-3.8zM160.0 226.0h3.8v3.8h-3.8zM160.0 229.5h3.8v3.8h-3.8zM160.0 233.0h3.8v3.8h-3.8zM160.0 236.5h3.8v3.8h-3.8zM286.0 345.0h3.8v3.8h-3.8zM300.0 345.0h3.8v3.8h-3.8zM300.0 352.0h3.8v3.8h-3.8zM300.0 355.5h3.8v3.8h-3.8zM300.0 359.0h3.8v3.8h-3.8zM387.5 362.5h3.8v3.8h-3.8zM303.5 366.0h3.8v3.8h-3.8zM377.0 373.0h3.8v3.8h-3.8zM307.0 383.5h3.8v3.8h-3.8zM307.0 387.0h3.8v3.8h-3.8zM373.5 387.0h3.8v3.8h-3.8zM310.5 390.5h3.8v3.8h-3.8zM373.5 390.5h3.8v3.8h-3.8zM317.5 397.5h3.8v3.8h-3.8zM370.0 397.5h3.8v3.8h-3.8zM321.0 401.0h3.8v3.8h-3.8zM366.5 401.0h3.8v3.8h-3.8zM324.5 404.5h3.8v3.8h-3.8z"/>
<path fill="#00fff4" d="M163.5 219.0h3.8v3.8h-3.8zM177.5 219.0h3.8v3.8h-3.8zM163.5 222.5h3.8v3.8h-3.8zM163.5 226.0h3.8v3.8h-3.8zM163.5 229.5h3.8v3.8h-3.8zM163.5 233.0h3.8v3.8h-3.8zM163.5 236.5h3.8v3.8h-3.8zM300.0 348.5h3.8v3.8h-3.8zM300.0 362.5h3.8v3.8h-3.8zM391.0 362.5h3.8v3.8h-3.8zM300.0 366.0h3.8v3.8h-3.8zM384.0 366.0h7.3v3.8h-7.3zM303.5 369.5h3.8v3.8h-3.8zM380.5 369.5h3.8v3.8h-3.8zM303.5 373.0h3.8v3.8h-3.8zM380.5 373.0h3.8v3.8h-3.8zM303.5 376.5h3.8v3.8h-3.8zM377.0 376.5h3.8v3.8h-3.8zM303.5 380.0h3.8v3.8h-3.8zM307.0 390.5h3.8v3.8h-3.8zM310.5 394.0h3.8v3.8h-3.8zM373.5 394.0h3.8v3.8h-3.8zM314.0 397.5h3.8v3.8h-3.8zM317.5 401.0h3.8v3.8h-3.8zM370.0 401.0h3.8v3.8h-3.8zM321.0 404.5h3.8v3.8h-3.8zM366.5 404.5h3.8v3.8h-3.8z"/>
<path fill="#00ffec" d="M167.0 219.0h10.8v3.8h-10.8zM167.0 222.5h10.8v3.8h-10.8zM167.0 226.0h10.8v3.8h-10.8zM167.0 229.5h10.8v3.8h-10.8zM167.0 233.0h3.8v3.8h-3.8zM167.0 236.5h3.8v3.8h-3.8zM293.0 345.0h7.3v3.8h-7.3zM286.0 348.5h3.8v3.8h-3.8zM286.0 352.0h3.8v3.8h-3.8zM296.5 352.0h3.8v3.8h-3.8zM286.0 355.5h3.8v3.8h-3.8zM296.5 355.5h3.8v3.8h-3.8zM296.5 359.0h3.8v3.8h-3.8zM296.5 362.5h3.8v3.8h-3.8zM391.0 366.0h3.8v3.8h-3.8zM300.0 369.5h3.8v3.8h-3.8zM384.0 369.5h7.3v3.8h-7.3zM300.0 373.0h3.8v3.8h-3.8zM300.0 376.5h3.8v3.8h-3.8zM380.5 376.5h3.8v3.8h-3.8zM377.0 380.0h3.8v3.8h-3.8zM303.5 383.5h3.8v3.8h-3.8zM377.0 383.5h3.8v3.8h-3.8zM303.5 387.0h3.8v3.8h-3.8zM377.0 387.0h3.8v3.8h-3.8zM307.0 394.0h3.8v3.8h-3.8zM310.5 397.5h3.8v3.8h-3.8zM373.5 397.5h3.8v3.8h-3.8zM314.0 401.0h3.8v3.8h-3.8zM373.5 401.0h3.8v3.8h-3.8zM317.5 404.5h3.8v3.8h-3.8zM370.0 404.5h3.8v3.8h-3.8z"/>
<path fill="#00fbff" d="M184.5 219.0h3.8v3.8h-3.8zM181.0 222.5h3.8v3.8h-3.8zM391.0 359.0h3.8v3.8h-3.8zM303.5 362.5h3.8v3.8h-3.8zM384.0 362.5h3.8v3.8h-3.8zM380.5 366.0h3.8v3.8h-3.8zM377.0 369.5h3.8v3.8h-3.8zM307.0 376.5h3.8v3.8h-3.8zM307.0 380.0h3.8v3.8h-3.8zM373.5 380.0h3.8v3.8h-3.8zM310.5 387.0h3.8v3.8h-3.8zM370.0 394.0h3.8v3.8h-3.8zM321.0 397.5h3.8v3.8h-3.8zM366.5 397.5h3.8v3.8h-3.8zM324.5 401.0h3.8v3.8h-3.8zM328.0 404.5h3.8v3.8h-3.8zM363.0 404.5h3.8v3.8h-3.8z"/>
<path fill="#00ecff" d="M191.5 219.0h3.8v3.8h-3.8zM188.0 222.5h3.8v3.8h-3.8zM181.0 226.0h3.8v3.8h-3.8zM289.5 341.5h3.8v3.8h-3.8zM296.5 341.5h3.8v3.8h-3.8zM303.5 345.0h3.8v3.8h-3.8zM391.0 345.0h3.8v3.8h-3.8zM391.0 348.5h3.8v3.8h-3.8zM387.5 352.0h3.8v3.8h-3.8zM303.5 355.5h3.8v3.8h-3.8zM387.5 355.5h3.8v3.8h-3.8zM384.0 359.0h3.8v3.8h-3.8zM307.0 366.0h3.8v3.8h-3.8zM373.5 369.5h3.8v3.8h-3.8zM310.5 376.5h3.8v3.8h-3.8zM310.5 380.0h3.8v3.8h-3.8zM370.0 383.5h3.8v3.8h-3.8zM314.0 387.0h3.8v3.8h-3.8zM370.0 387.0h3.8v3.8h-3.8zM317.5 390.5h3.8v3.8h-3.8zM324.5 394.0h3.8v3.8h-3.8zM366.5 394.0h3.8v3.8h-3.8zM328.0 397.5h3.8v3.8h-3.8zM363.0 397.5h3.8v3.8h-3.8zM331.5 401.0h3.8v3.8h-3.8zM359.5 401.0h3.8v3.8h-3.8zM335.0 404.5h10.8v3.8h-10.8zM356.0 404.5h3.8v3.8h-3.8z"/>
<path fill="#0094ff" d="M212.5 219.0h3.8v3.8h-3.8zM345.5 219.0h7.3v3.8h-7.3zM209.0 222.5h3.8v3.8h-3.8zM349.0 222.5h3.8v3.8h-3.8zM352.5 226.0h3.8v3.8h-3.8zM356.0 229.5h3.8v3.8h-3.8zM195.0 233.0h3.8v3.8h-3.8zM359.5 233.0h3.8v3.8h-3.8zM363.0 236.5h3.8v3.8h-3.8zM366.5 240.0h3.8v3.8h-3.8zM370.0 243.5h7.3v3.8h-7.3zM377.0 247.0h7.3v3.8h-7.3zM380.5 250.5h7.3v3.8h-7.3zM387.5 254.0h7.3v3.8h-7.3zM391.0 257.5h3.8v3.8h-3.8zM391.0 313.5h3.8v3.8h-3.8zM384.0 317.0h3.8v3.8h-3.8zM377.0 320.5h3.8v3.8h-3.8zM370.0 324.0h3.8v3.8h-3.8zM363.0 327.5h7.3v3.8h-7.3zM356.0 331.0h10.8v3.8h-10.8zM356.0 334.5h7.3v3.8h-7.3zM317.5 338.0h3.8v3.8h-3.8zM352.5 338.0h7.3v3.8h-7.3zM331.5 341.5h3.8v3.8h-3.8zM352.5 341.5h7.3v3.8h-7.3zM335.0 345.0h3.8v3.8h-3.8zM352.5 345.0h7.3v3.8h-7.3zM335.0 348.5h3.8v3.8h-3.8zM359.5 348.5h3.8v3.8h-3.8zM335.0 352.0h3.8v3.8h-3.8zM359.5 352.0h3.8v3.8h-3.8zM335.0 355.5h3.8v3.8h-3.8zM359.5 355.5h3.8v3.8h-3.8zM338.5 359.0h7.3v3.8h-7.3zM342.0 362.5h7.3v3.8h-7.3zM356.0 362.5h3.8v3.8h-3.8zM345.5 366.0h14.3v3.8h-14.3zM352.5 369.5h3.8v3.8h-3.8z"/>
<path fill="#007cff" d="M233.5 219.0h10.8v3.8h-10.8zM317.5 219.0h10.8v3.8h-10.8zM223.0 222.5h10.8v3.8h-10.8zM324.5 222.5h10.8v3.8h-10.8zM216.0 226.0h7.3v3.8h-7.3zM331.5 226.0h7.3v3.8h-7.3zM209.0 229.5h7.3v3.8h-7.3zM335.0 229.5h7.3v3.8h-7.3zM205.5 233.0h3.8v3.8h-3.8zM338.5 233.0h7.3v3.8h-7.3zM198.5 236.5h3.8v3.8h-3.8zM345.5 236.5h7.3v3.8h-7.3zM191.5 240.0h3.8v3.8h-3.8zM349.0 240.0h7.3v3.8h-7.3zM352.5 243.5h7.3v3.8h-7.3zM356.0 247.0h7.3v3.8h-7.3zM363.0 250.5h3.8v3.8h-3.8zM366.5 254.0h7.3v3.8h-7.3zM373.5 257.5h7.3v3.8h-7.3zM377.0 261.0h7.3v3.8h-7.3zM384.0 264.5h7.3v3.8h-7.3zM387.5 268.0h7.3v3.8h-7.3zM391.0 303.0h3.8v3.8h-3.8zM387.5 306.5h3.8v3.8h-3.8zM384.0 310.0h3.8v3.8h-3.8zM373.5 313.5h7.3v3.8h-7.3zM366.5 317.0h7.3v3.8h-7.3zM359.5 320.5h7.3v3.8h-7.3zM352.5 324.0h7.3v3.8h-7.3zM349.0 327.5h3.8v3.8h-3.8zM342.0 331.0h7.3v3.8h-7.3zM303.5 334.5h10.8v3.8h-10.8zM317.5 334.5h7.3v3.8h-7.3zM331.5 334.5h14.3v3.8h-14.3z"/>
<path fill="#00ccff" d="M195.0 222.5h3.8v3.8h-3.8zM391.0 222.5h3.8v3.8h-3.8zM191.5 226.0h3.8v3.8h-3.8zM184.5 229.5h3.8v3.8h-3.8zM384.0 331.0h10.8v3.8h-10.8zM380.5 334.5h3.8v3.8h-3.8zM307.0 341.5h7.3v3.8h-7.3zM377.0 341.5h3.8v3.8h-3.8zM377.0 345.0h3.8v3.8h-3.8zM377.0 348.5h3.8v3.8h-3.8zM377.0 352.0h3.8v3.8h-3.8zM373.5 355.5h3.8v3.8h-3.8zM310.5 359.0h3.8v3.8h-3.8zM370.0 362.5h3.8v3.8h-3.8zM314.0 366.0h3.8v3.8h-3.8zM314.0 369.5h3.8v3.8h-3.8zM366.5 369.5h3.8v3.8h-3.8zM317.5 373.0h3.8v3.8h-3.8zM366.5 373.0h3.8v3.8h-3.8zM321.0 376.5h3.8v3.8h-3.8zM321.0 380.0h7.3v3.8h-7.3zM328.0 383.5h3.8v3.8h-3.8zM363.0 383.5h3.8v3.8h-3.8zM331.5 387.0h7.3v3.8h-7.3zM342.0 390.5h3.8v3.8h-3.8zM356.0 390.5h7.3v3.8h-7.3zM345.5 394.0h10.8v3.8h-10.8z"/>
<path fill="#0064ff" d="M268.5 222.5h24.8v3.8h-24.8zM254.5 226.0h24.8v3.8h-24.8zM286.0 226.0h14.3v3.8h-14.3zM240.5 229.5h21.3v3.8h-21.3zM293.0 229.5h17.8v3.8h-17.8zM226.5 233.0h21.3v3.8h-21.3zM296.5 233.0h24.8v3.8h-24.8zM216.0 236.5h14.3v3.8h-14.3zM307.0 236.5h21.3v3.8h-21.3zM202.0 240.0h10.8v3.8h-10.8zM321.0 240.0h14.3v3.8h-14.3zM195.0 243.5h3.8v3.8h-3.8zM328.0 243.5h10.8v3.8h-10.8zM335.0 247.0h10.8v3.8h-10.8zM342.0 250.5h7.3v3.8h-7.3zM349.0 254.0h7.3v3.8h-7.3zM352.5 257.5h7.3v3.8h-7.3zM356.0 261.0h7.3v3.8h-7.3zM363.0 264.5h7.3v3.8h-7.3zM366.5 268.0h7.3v3.8h-7.3zM373.5 271.5h7.3v3.8h-7.3zM377.0 275.0h7.3v3.8h-7.3zM380.5 278.5h3.8v3.8h-3.8zM380.5 282.0h7.3v3.8h-7.3zM384.0 285.5h3.8v3.8h-3.8zM387.5 289.0h3.8v3.8h-3.8zM387.5 292.5h3.8v3.8h-3.8zM384.0 296.0h7.3v3.8h-7.3zM380.5 299.5h7.3v3.8h-7.3zM373.5 303.0h10.8v3.8h-10.8zM370.0 306.5h7.3v3.8h-7.3zM363.0 310.0h7.3v3.8h-7.3zM359.5 313.5h3.8v3.8h-3.8zM349.0 317.0h7.3v3.8h-7.3zM342.0 320.5h7.3v3.8h-7.3zM338.5 324.0h3.8v3.8h-3.8zM331.5 327.5h7.3v3.8h-7.3zM286.0 331.0h7.3v3.8h-7.3zM314.0 331.0h14.3v3.8h-14.3z"/>
<path fill="#00dcff" d="M188.0 226.0h3.8v3.8h-3.8zM177.5 229.5h3.8v3.8h-3.8zM391.0 334.5h3.8v3.8h-3.8zM384.0 338.0h7.3v3.8h-7.3zM310.5 345.0h3.8v3.8h-3.8zM307.0 352.0h3.8v3.8h-3.8zM384.0 352.0h3.8v3.8h-3.8zM307.0 355.5h3.8v3.8h-3.8zM380.5 355.5h3.8v3.8h-3.8zM307.0 359.0h3.8v3.8h-3.8zM377.0 359.0h3.8v3.8h-3.8zM373.5 362.5h3.8v3.8h-3.8zM310.5 366.0h3.8v3.8h-3.8zM370.0 369.5h3.8v3.8h-3.8zM370.0 373.0h3.8v3.8h-3.8zM314.0 376.5h3.8v3.8h-3.8zM314.0 380.0h3.8v3.8h-3.8zM317.5 383.5h3.8v3.8h-3.8zM366.5 383.5h3.8v3.8h-3.8zM321.0 387.0h7.3v3.8h-7.3zM366.5 387.0h3.8v3.8h-3.8zM328.0 390.5h3.8v3.8h-3.8zM363.0 390.5h3.8v3.8h-3.8zM331.5 394.0h7.3v3.8h-7.3zM359.5 394.0h3.8v3.8h-3.8zM338.5 397.5h7.3v3.8h-7.3zM356.0 397.5h3.8v3.8h-3.8zM345.5 401.0h10.8v3.8h-10.8z"/>
<path fill="#0054ff" d="M268.5 233.0h17.8v3.8h-17.8zM254.5 236.5h38.8v3.8h-38.8zM233.5 240.0h28.3v3.8h-28.3zM289.5 240.0h3.8v3.8h-3.8zM209.0 243.5h28.3v3.8h-28.3zM293.0 243.5h14.3v3.8h-14.3zM195.0 247.0h7.3v3.8h-7.3zM296.5 247.0h28.3v3.8h-28.3zM307.0 250.5h24.8v3.8h-24.8zM324.5 254.0h14.3v3.8h-14.3zM331.5 257.5h14.3v3.8h-14.3zM338.5 261.0h10.8v3.8h-10.8zM345.5 264.5h10.8v3.8h-10.8zM349.0 268.0h10.8v3.8h-10.8zM356.0 271.5h7.3v3.8h-7.3zM359.5 275.0h10.8v3.8h-10.8zM363.0 278.5h7.3v3.8h-7.3zM363.0 282.0h10.8v3.8h-10.8zM366.5 285.5h7.3v3.8h-7.3zM366.5 289.0h10.8v3.8h-10.8zM366.5 292.5h14.3v3.8h-14.3zM366.5 296.0h10.8v3.8h-10.8zM363.0 299.5h7.3v3.8h-7.3zM359.5 303.0h7.3v3.8h-7.3zM356.0 306.5h7.3v3.8h-7.3zM349.0 310.0h10.8v3.8h-10.8zM342.0 313.5h7.3v3.8h-7.3zM335.0 317.0h7.3v3.8h-7.3zM331.5 320.5h7.3v3.8h-7.3zM324.5 324.0h7.3v3.8h-7.3zM314.0 327.5h7.3v3.8h-7.3zM303.5 331.0h7.3v3.8h-7.3z"/>
<path fill="#0024ff" d="M76.0 254.0h3.8v3.8h-3.8zM118.0 254.0h31.8v3.8h-31.8zM156.5 264.5h7.3v3.8h-7.3zM163.5 268.0h7.3v3.8h-7.3zM195.0 268.0h31.8v3.8h-31.8zM251.0 268.0h35.3v3.8h-35.3zM167.0 271.5h122.8v3.8h-122.8zM174.0 275.0h115.8v3.8h-115.8zM230.0 278.5h17.8v3.8h-17.8zM286.0 278.5h7.3v3.8h-7.3zM237.0 282.0h3.8v3.8h-3.8zM286.0 282.0h7.3v3.8h-7.3zM233.5 285.5h10.8v3.8h-10.8zM286.0 285.5h7.3v3.8h-7.3zM286.0 289.0h10.8v3.8h-10.8zM286.0 292.5h17.8v3.8h-17.8zM286.0 296.0h17.8v3.8h-17.8zM286.0 299.5h17.8v3.8h-17.8zM286.0 303.0h14.3v3.8h-14.3zM286.0 306.5h10.8v3.8h-10.8zM286.0 310.0h7.3v3.8h-7.3z"/>
<path fill="#001cff" d="M79.5 254.0h38.8v3.8h-38.8zM76.0 257.5h73.8v3.8h-73.8zM76.0 261.0h63.3v3.8h-63.3zM146.0 261.0h3.8v3.8h-3.8zM76.0 264.5h28.3v3.8h-28.3zM114.5 264.5h14.3v3.8h-14.3zM149.5 264.5h7.3v3.8h-7.3zM76.0 268.0h21.3v3.8h-21.3zM118.0 268.0h7.3v3.8h-7.3zM153.0 268.0h10.8v3.8h-10.8zM76.0 271.5h21.3v3.8h-21.3zM118.0 271.5h3.8v3.8h-3.8zM156.5 271.5h10.8v3.8h-10.8zM76.0 275.0h17.8v3.8h-17.8zM118.0 275.0h3.8v3.8h-3.8zM160.0 275.0h14.3v3.8h-14.3zM76.0 278.5h17.8v3.8h-17.8zM118.0 278.5h3.8v3.8h-3.8zM160.0 278.5h70.3v3.8h-70.3zM247.5 278.5h38.8v3.8h-38.8zM76.0 282.0h14.3v3.8h-14.3zM163.5 282.0h73.8v3.8h-73.8zM240.5 282.0h45.8v3.8h-45.8zM76.0 285.5h14.3v3.8h-14.3zM167.0 285.5h66.8v3.8h-66.8zM244.0 285.5h42.3v3.8h-42.3zM76.0 289.0h10.8v3.8h-10.8zM76.0 292.5h7.3v3.8h-7.3zM76.0 296.0h7.3v3.8h-7.3zM76.0 299.5h7.3v3.8h-7.3zM76.0 303.0h10.8v3.8h-10.8zM90.0 306.5h14.3v3.8h-14.3z"/>
<path fill="#0034ff" d="M195.0 257.5h91.3v3.8h-91.3zM191.5 261.0h10.8v3.8h-10.8zM209.0 261.0h52.8v3.8h-52.8zM282.5 261.0h10.8v3.8h-10.8zM174.0 264.5h14.3v3.8h-14.3zM289.5 264.5h7.3v3.8h-7.3zM293.0 268.0h7.3v3.8h-7.3zM296.5 271.5h14.3v3.8h-14.3zM300.0 275.0h21.3v3.8h-21.3zM303.5 278.5h21.3v3.8h-21.3zM307.0 282.0h24.8v3.8h-24.8zM310.5 285.5h24.8v3.8h-24.8zM314.0 289.0h21.3v3.8h-21.3zM321.0 292.5h14.3v3.8h-14.3zM321.0 296.0h14.3v3.8h-14.3zM321.0 299.5h10.8v3.8h-10.8zM317.5 303.0h10.8v3.8h-10.8zM317.5 306.5h10.8v3.8h-10.8zM314.0 310.0h10.8v3.8h-10.8zM314.0 313.5h7.3v3.8h-7.3zM310.5 317.0h7.3v3.8h-7.3zM307.0 320.5h7.3v3.8h-7.3zM303.5 324.0h7.3v3.8h-7.3zM300.0 327.5h3.8v3.8h-3.8z"/>
<path fill="#0014ff" d="M139.0 261.0h7.3v3.8h-7.3zM104.0 264.5h10.8v3.8h-10.8zM128.5 264.5h21.3v3.8h-21.3zM97.0 268.0h21.3v3.8h-21.3zM125.0 268.0h28.3v3.8h-28.3zM97.0 271.5h21.3v3.8h-21.3zM121.5 271.5h35.3v3.8h-35.3zM93.5 275.0h24.8v3.8h-24.8zM121.5 275.0h38.8v3.8h-38.8zM93.5 278.5h24.8v3.8h-24.8zM121.5 278.5h38.8v3.8h-38.8zM90.0 282.0h73.8v3.8h-73.8zM90.0 285.5h77.3v3.8h-77.3zM86.5 289.0h80.8v3.8h-80.8zM83.0 292.5h84.3v3.8h-84.3zM83.0 296.0h84.3v3.8h-84.3zM83.0 299.5h84.3v3.8h-84.3zM86.5 303.0h80.8v3.8h-80.8zM104.0 306.5h63.3v3.8h-63.3z"/>
<path fill="#002cff" d="M202.0 261.0h7.3v3.8h-7.3zM261.5 261.0h21.3v3.8h-21.3zM163.5 264.5h10.8v3.8h-10.8zM188.0 264.5h101.8v3.8h-101.8zM170.5 268.0h24.8v3.8h-24.8zM226.5 268.0h24.8v3.8h-24.8zM286.0 268.0h7.3v3.8h-7.3zM289.5 271.5h7.3v3.8h-7.3zM289.5 275.0h10.8v3.8h-10.8zM293.0 278.5h10.8v3.8h-10.8zM293.0 282.0h14.3v3.8h-14.3zM293.0 285.5h17.8v3.8h-17.8zM296.5 289.0h17.8v3.8h-17.8zM303.5 292.5h17.8v3.8h-17.8zM303.5 296.0h17.8v3.8h-17.8zM303.5 299.5h17.8v3.8h-17.8zM300.0 303.0h17.8v3.8h-17.8zM296.5 306.5h21.3v3.8h-21.3zM293.0 310.0h21.3v3.8h-21.3zM286.0 313.5h28.3v3.8h-28.3zM286.0 317.0h24.8v3.8h-24.8zM286.0 320.5h21.3v3.8h-21.3zM286.0 324.0h17.8v3.8h-17.8z"/>
<path fill="#00ffe4" d="M289.5 345.0h3.8v3.8h-3.8zM289.5 348.5h10.8v3.8h-10.8zM289.5 352.0h7.3v3.8h-7.3zM289.5 355.5h7.3v3.8h-7.3zM286.0 359.0h10.8v3.8h-10.8zM286.0 362.5h10.8v3.8h-10.8zM293.0 366.0h7.3v3.8h-7.3zM296.5 369.5h3.8v3.8h-3.8zM391.0 369.5h3.8v3.8h-3.8zM296.5 373.0h3.8v3.8h-3.8zM384.0 373.0h10.8v3.8h-10.8zM296.5 376.5h3.8v3.8h-3.8zM384.0 376.5h3.8v3.8h-3.8zM300.0 380.0h3.8v3.8h-3.8zM380.5 380.0h3.8v3.8h-3.8zM300.0 383.5h3.8v3.8h-3.8zM303.5 390.5h3.8v3.8h-3.8zM377.0 390.5h3.8v3.8h-3.8zM303.5 394.0h3.8v3.8h-3.8zM377.0 394.0h3.8v3.8h-3.8zM307.0 397.5h3.8v3.8h-3.8zM377.0 397.5h3.8v3.8h-3.8zM310.5 401.0h3.8v3.8h-3.8zM377.0 401.0h3.8v3.8h-3.8zM310.5 404.5h7.3v3.8h-7.3zM373.5 404.5h7.3v3.8h-7.3z"/>
<path fill="#00ffdc" d="M286.0 366.0h7.3v3.8h-7.3zM286.0 369.5h10.8v3.8h-10.8zM286.0 373.0h10.8v3.8h-10.8zM286.0 376.5h10.8v3.8h-10.8zM387.5 376.5h7.3v3.8h-7.3zM293.0 380.0h7.3v3.8h-7.3zM384.0 380.0h7.3v3.8h-7.3zM296.5 383.5h3.8v3.8h-3.8zM380.5 383.5h7.3v3.8h-7.3zM300.0 387.0h3.8v3.8h-3.8zM380.5 387.0h3.8v3.8h-3.8zM300.0 390.5h3.8v3.8h-3.8zM380.5 390.5h3.8v3.8h-3.8zM380.5 394.0h3.8v3.8h-3.8zM303.5 397.5h3.8v3.8h-3.8zM380.5 397.5h3.8v3.8h-3.8zM307.0 401.0h3.8v3.8h-3.8zM380.5 401.0h3.8v3.8h-3.8zM307.0 404.5h3.8v3.8h-3.8zM380.5 404.5h3.8v3.8h-3.8z"/>
<path fill="#00ffd4" d="M286.0 380.0h7.3v3.8h-7.3zM391.0 380.0h3.8v3.8h-3.8zM286.0 383.5h10.8v3.8h-10.8zM387.5 383.5h7.3v3.8h-7.3zM296.5 387.0h3.8v3.8h-3.8zM384.0 387.0h10.8v3.8h-10.8zM296.5 390.5h3.8v3.8h-3.8zM384.0 390.5h10.8v3.8h-10.8zM300.0 394.0h3.8v3.8h-3.8zM384.0 394.0h10.8v3.8h-10.8zM300.0 397.5h3.8v3.8h-3.8zM384.0 397.5h10.8v3.8h-10.8zM303.5 401.0h3.8v3.8h-3.8zM384.0 401.0h10.8v3.8h-10.8zM303.5 404.5h3.8v3.8h-3.8zM384.0 404.5h10.8v3.8h-10.8z"/>
<path fill="#00ffff" d="M373.5 383.5h3.8v3.8h-3.8zM314.0 394.0h3.8v3.8h-3.8z"/>
<path fill="#00ffcc" d="M289.5 387.0h7.3v3.8h-7.3zM289.5 390.5h7.3v3.8h-7.3zM293.0 394.0h7.3v3.8h-7.3zM293.0 397.5h7.3v3.8h-7.3zM296.5 401.0h7.3v3.8h-7.3zM296.5 404.5h7.3v3.8h-7.3z"/>
</g>
<polygon points="64.5,243.9 174.0,243.9 174.0,232.0 191.3,232.0 191.3,265.2 150.3,265.2 150.3,252.0 73.5,252.0 73.5,419.6 260.7,419.6 260.7,424.2 281.6,424.2 281.6,433.6 64.5,433.6" fill="url(#hx)" stroke="#163c10" stroke-width="0.6"/>
<polygon points="171.3,291.0 285.0,291.0 285.0,400.5 299.0,413.6 317.0,413.6 317.0,425.3 292.5,425.3 276.3,407.5 276.3,304.0 246.6,304.0 246.6,405.6 224.0,405.6 224.0,304.0 195.0,304.0 195.0,403.8 171.3,403.8" fill="url(#hx)" stroke="#163c10" stroke-width="0.6"/>
<path d="M173.6 296V402M192.6 296V402M226.3 296V402M244.4 296V402M278.6 296V398M283.0 296V398M176.0 294.5H283M197.0 301.2H222M249.0 301.2H274M66.6 247V432M71.4 258V418M70.0 246H172M78.0 250H148M80.0 421.8H258" stroke="#3f6e3f" stroke-width="1" stroke-dasharray="1 7.3" fill="none"/>
<path d="M202.1 308V418M216.7 308V400M253.7 308V400M268.3 308V400" stroke="#1c1c15" stroke-width="1" stroke-dasharray="2 2.2" fill="none"/>
<path d="M80.3 312V418M90.3 312V418" stroke="#4a2f10" stroke-width="1" stroke-dasharray="1.5 3" fill="none"/>
<path d="M100 315H165" stroke="#30302a" stroke-width="1" stroke-dasharray="1 4.4" fill="none"/>
<rect x="119.2" y="335.0" width="1" height="2" fill="#6e6e66"/>
<rect x="145.6" y="335.0" width="1" height="2" fill="#6e6e66"/>
<rect x="119.2" y="363.0" width="1" height="2" fill="#6e6e66"/>
<rect x="145.6" y="363.0" width="1" height="2" fill="#6e6e66"/>
<rect x="119.2" y="389.0" width="1" height="2" fill="#6e6e66"/>
<rect x="145.6" y="389.0" width="1" height="2" fill="#6e6e66"/>
<rect x="119.2" y="418.0" width="1" height="2" fill="#6e6e66"/>
<rect x="145.6" y="418.0" width="1" height="2" fill="#6e6e66"/>
<rect x="200.5" y="418.0" width="1" height="2" fill="#6e6e66"/>
<rect x="256.5" y="418.0" width="1" height="2" fill="#6e6e66"/>
<path d="M176.5 262.5V241L181.0 235H188.5V262.5Z" stroke="#2a5a22" stroke-width="0.7" fill="none"/>
<polygon points="285.5,327.0 291.0,329.0 300.0,334.3 324.0,334.3 324.5,345.5 310.0,345.5 310.0,348.6 300.0,348.6 300.0,345.5 297.0,345.5 289.5,341.0 285.5,341.0" fill="#000" />
<path d="M287.0 333.5L293.0 335.5L299.0 340.5H321.0" stroke="#1a3c10" stroke-width="1.6" fill="none"/>
<rect x="77.5" y="427.0" width="204.0" height="5.6" fill="#06222e" />
<path d="M77.0 429.7H281.5" stroke="#1a6890" stroke-width="3.4" stroke-dasharray="1.5 1.4" fill="none"/>
<rect x="99.0" y="326.4" width="25.0" height="7.0" fill="#00004a" />
<rect x="129.4" y="326.4" width="22.3" height="7.0" fill="#00004a" />
<rect x="99.0" y="351.4" width="6.8" height="23.6" fill="#00004a" />
<rect x="99.0" y="391.7" width="6.8" height="26.0" fill="#00004a" />
<path d="M63.6 221V434.8H75.8V446.4H285.6V434.9H395.4V224" stroke="#57540a" stroke-width="0.9" fill="none"/>
<rect x="62.8" y="445.4" width="1.8" height="1.8" fill="#b8b8b8"/>
<path d="M86 248.6H112M118 248.6H125" stroke="#0c5878" stroke-width="1.6" stroke-dasharray="1.6 1.1" fill="none"/>
<path d="M74.3 219H83.7M145 219H182.4M287 219H317M356 219H388" stroke="#57540a" stroke-width="1.3" fill="none"/>
<path d="M96.7 279V291M113.9 279V291M130.4 279V291M146.2 279V291" stroke="#0a58f0" stroke-width="0.9" fill="none"/>
<rect x="85.0" y="273.3" width="2.8" height="4.6" fill="#1a0a3a" />
<rect x="101.3" y="273.3" width="2.8" height="4.6" fill="#1a0a3a" />
<rect x="117.7" y="273.3" width="2.8" height="4.6" fill="#1a0a3a" />
<rect x="134.1" y="273.3" width="2.8" height="4.6" fill="#1a0a3a" />
<rect x="150.4" y="273.3" width="2.8" height="4.6" fill="#1a0a3a" />
<rect x="166.8" y="273.3" width="2.8" height="4.6" fill="#1a0a3a" />
<rect x="183.1" y="273.3" width="2.8" height="4.6" fill="#1a0a3a" />
<rect x="199.5" y="273.3" width="2.8" height="4.6" fill="#1a0a3a" />
<rect x="215.8" y="273.3" width="2.8" height="4.6" fill="#1a0a3a" />
<rect x="232.2" y="273.3" width="2.8" height="4.6" fill="#1a0a3a" />
<rect x="248.5" y="273.3" width="2.8" height="4.6" fill="#1a0a3a" />
<rect x="264.9" y="273.3" width="2.8" height="4.6" fill="#1a0a3a" />
<rect x="281.2" y="273.3" width="2.8" height="4.6" fill="#1a0a3a" />
<rect x="297.6" y="273.3" width="2.8" height="4.6" fill="#1a0a3a" />
<rect x="180.5" y="284.2" width="4.6" height="2.6" fill="#020a06" />
<rect x="196.8" y="284.2" width="4.6" height="2.6" fill="#020a06" />
<rect x="213.2" y="284.2" width="4.6" height="2.6" fill="#020a06" />
<rect x="229.5" y="284.2" width="4.6" height="2.6" fill="#020a06" />
<rect x="245.9" y="284.2" width="4.6" height="2.6" fill="#020a06" />
<rect x="262.2" y="284.2" width="4.6" height="2.6" fill="#020a06" />
<rect x="278.6" y="284.2" width="4.6" height="2.6" fill="#020a06" />
<rect x="103.0" y="217.6" width="2.6" height="2.6" fill="#05100a" />
<rect x="224.0" y="217.6" width="2.6" height="2.6" fill="#05100a" />
<rect x="245.5" y="217.6" width="2.6" height="2.6" fill="#05100a" />
<rect x="259.5" y="217.6" width="2.6" height="2.6" fill="#05100a" />
<rect x="272.6" y="217.6" width="2.6" height="2.6" fill="#05100a" />
<rect x="330.0" y="217.6" width="2.6" height="2.6" fill="#05100a" />
<rect x="352.0" y="217.6" width="2.6" height="2.6" fill="#05100a" />
<path d="M334.8 353.7H376.8M334.8 369.5H376.8M306 374.2H327.8M306 382.3H327.8M313 392.9H320M345.6 392.9H352M375 392.9H381M313 400.6H320M345.6 400.6H352M375 400.6H381M330 337H352M362 337H388M330 342.5H352M362 342.5H388" stroke="#0a8a1e" stroke-opacity="0.55" stroke-width="1.6" stroke-dasharray="1.7 1" fill="none"/>
<path d="M205.6 249H214.6M205.6 253H214.6M205.6 257H214.6M205.6 261H214.6M205.6 265H214.6M226 260.4H229M246 260.4H249M260 259.5H263M274 259.5H277M331 228H334M331 236H338M352 262H355M300 262H303M372 275H375M318 300H321M352 322H355" stroke="#8a2ad8" stroke-opacity="0.5" stroke-width="1.5" fill="none"/>
<path d="M248.5 283.0v6.1M238.0 277.2v2.6M325.5 279.1h4.7M344.6 260.3h3.7M278.1 274.0v4.9M297.7 306.9v5.6M382.3 337.3v4.6M339.4 281.3h4.0M349.9 285.7h6.0M250.1 280.0v5.7M312.2 310.8v5.9M301.0 296.1v6.7M361.5 226.1h6.1M371.6 246.1h5.7M302.5 242.1h3.8M209.2 240.2h4.9M387.6 251.5h6.2M201.6 255.1h3.0M266.3 273.0h4.8M234.0 265.3h3.4M241.7 277.0h4.8M341.4 229.5v6.8M323.0 239.9v6.8M256.1 252.1h2.9M328.5 321.7v3.6M252.6 284.6v3.7M301.2 277.8v2.8M311.9 263.1v3.0M367.7 300.6h2.8M298.8 227.3v4.1M225.7 241.7h2.7M377.1 279.3h7.0M355.0 296.3h6.3M254.3 281.3h6.2M376.6 260.6v4.9M323.2 312.4h6.3M339.2 225.4h6.1M352.1 282.6h5.8M242.3 240.0h4.3M287.6 255.7h6.7M358.3 266.0v5.3M301.1 251.5h6.5M385.4 235.7v6.4M379.5 343.0h3.4M372.7 337.1v6.8M313.2 265.0h6.6M376.7 325.5h3.4M362.5 307.1h5.7M386.2 317.7v3.1M211.2 250.6v5.6M215.7 234.3v6.5M267.8 278.9h5.1M225.6 282.4v4.0M221.8 268.3h4.6M373.1 293.3v6.4M383.1 287.5v5.5M243.5 285.7h2.6M371.2 231.5v2.6M371.9 275.2h3.7M245.0 268.3h5.5M253.1 237.1v3.8M337.8 329.5h6.1M331.2 326.5h4.8M226.2 228.2h4.5M357.8 242.0h4.8M350.2 333.0h6.1M356.7 225.8h5.5M224.4 253.8h2.7M351.8 252.9h6.2M305.7 244.2v2.8M306.7 244.8h6.2M270.6 273.1h5.9M318.0 270.8v6.2M340.4 334.5v6.6M294.8 321.3h3.1" stroke="#0a7a3c" stroke-opacity="0.4" stroke-width="1.3" stroke-dasharray="1.5 0.8" fill="none"/>
<path d="M384.8 287.7h2.8M270.1 230.0h6.6M371.6 238.2h5.9M268.5 280.2h6.3M283.9 265.1v4.2M276.7 222.2h5.7M207.2 259.7h3.6M358.6 238.0h4.6M259.3 258.7h4.4M367.4 304.3v6.7M210.3 265.6v4.4M198.4 273.3h2.7M221.6 250.1v3.1M384.2 255.5h6.4M359.3 242.5v6.1M352.1 227.5h4.1M330.8 274.1h4.0M374.9 277.9v6.4M371.9 225.7v2.8M299.7 260.7v3.2M373.4 323.0h4.2M374.1 268.7v5.2M312.9 257.1v5.7M354.2 299.7v3.3M369.0 278.4h3.0M347.8 239.8v5.1M359.6 273.4v6.3M304.0 262.0h5.9M268.2 266.1v4.0M274.8 241.5h6.5M337.4 285.9h3.0M379.1 233.1h3.0M206.2 269.5h6.5M363.9 328.4v2.9M234.6 280.1h3.5M228.8 263.8v4.7M372.5 241.0h3.8M338.1 235.2v3.6M352.1 307.3v3.7M265.5 278.2h2.5M320.7 256.3h6.9M293.2 309.2h5.7M352.0 281.1h4.2M240.1 264.6h6.1M290.6 290.0v3.0M249.1 261.1h6.8M354.9 238.8h4.2M271.2 252.7h3.4M296.8 286.2h4.7M293.8 266.8h4.3M331.1 231.7h2.6M236.2 253.0v5.1M336.3 284.9v3.0M382.2 281.2h6.6M204.6 260.7h6.8M269.1 236.3v4.0M374.9 279.0h3.5M331.9 301.7v2.8M223.0 235.4h4.2M198.2 225.4h4.8M272.4 241.7h3.4M380.5 271.5h5.7M362.1 259.2h5.3M234.3 260.3v6.8M349.2 249.4h4.8M265.2 257.6v5.6M318.3 230.5v3.6M330.9 311.5v4.4M333.0 229.7h6.7M315.9 254.3h6.4M330.8 241.7h2.8M365.8 236.2h4.4M255.7 263.9h3.2M241.2 251.6v5.0M251.7 263.3h6.4" stroke="#7a30c8" stroke-opacity="0.33" stroke-width="1.3" stroke-dasharray="1.5 0.8" fill="none"/>
<rect x="71.0" y="229.5" width="4.5" height="2.5" fill="#04101a" />
<rect x="135.5" y="228.5" width="2.5" height="3.0" fill="#04101a" />
<rect x="129.5" y="259.0" width="4.0" height="2.5" fill="#04101a" />
<rect x="196.6" y="262.0" width="2.8" height="5.0" fill="#04101a" />
<rect x="291.0" y="226.0" width="3.5" height="5.5" fill="#04101a" />
<rect x="316.5" y="227.5" width="3.0" height="3.0" fill="#04101a" />
<rect x="311.0" y="238.0" width="3.0" height="5.0" fill="#04101a" />
<rect x="324.5" y="238.5" width="3.0" height="4.5" fill="#04101a" />
<rect x="346.0" y="238.0" width="3.0" height="3.0" fill="#04101a" />
<rect x="386.0" y="226.0" width="3.0" height="3.0" fill="#04101a" />
<rect x="287.0" y="249.0" width="2.5" height="2.5" fill="#04101a" />
<rect x="298.0" y="251.5" width="2.5" height="2.5" fill="#04101a" />
<rect x="316.0" y="254.5" width="3.0" height="3.0" fill="#04101a" />
<rect x="373.5" y="254.5" width="2.5" height="4.0" fill="#04101a" />
<rect x="387.0" y="254.0" width="3.0" height="3.0" fill="#04101a" />
<rect x="344.0" y="262.0" width="6.0" height="3.0" fill="#04101a" />
<rect x="369.0" y="262.5" width="3.0" height="3.5" fill="#04101a" />
<rect x="373.5" y="262.5" width="2.5" height="3.0" fill="#04101a" />
<rect x="293.0" y="267.0" width="5.5" height="3.0" fill="#04101a" />
<rect x="344.0" y="267.5" width="5.0" height="3.0" fill="#04101a" />
<rect x="374.0" y="268.0" width="5.5" height="3.0" fill="#04101a" />
<rect x="287.5" y="271.0" width="5.5" height="3.0" fill="#04101a" />
<rect x="281.0" y="274.0" width="3.0" height="4.0" fill="#04101a" />
<rect x="297.5" y="274.0" width="3.5" height="4.0" fill="#04101a" />
<rect x="287.5" y="278.5" width="4.5" height="3.0" fill="#04101a" />
<rect x="324.5" y="278.5" width="3.5" height="3.0" fill="#04101a" />
<rect x="295.0" y="300.0" width="5.0" height="2.5" fill="#04101a" />
<rect x="322.0" y="305.0" width="2.5" height="4.0" fill="#04101a" />
<rect x="335.0" y="311.5" width="3.0" height="5.0" fill="#04101a" />
<rect x="370.5" y="311.0" width="3.0" height="3.0" fill="#04101a" />
<rect x="379.0" y="311.0" width="5.0" height="5.0" fill="#04101a" />
<rect x="299.5" y="314.5" width="5.5" height="2.5" fill="#04101a" />
<rect x="297.5" y="319.0" width="5.0" height="5.0" fill="#04101a" />
<rect x="372.5" y="324.5" width="3.5" height="3.0" fill="#04101a" />
<rect x="343.5" y="330.0" width="2.5" height="5.5" fill="#04101a" />
<rect x="381.5" y="330.0" width="2.5" height="5.5" fill="#04101a" />
<rect x="322.0" y="360.0" width="5.0" height="5.0" fill="#04101a" />
<rect x="298.2" y="390.5" width="4.6" height="4.6" fill="#04101a" />
<rect x="330.2" y="390.5" width="4.6" height="4.6" fill="#04101a" />
<rect x="363.2" y="390.5" width="4.6" height="4.6" fill="#04101a" />
<rect x="330.2" y="398.3" width="4.6" height="4.6" fill="#04101a" />
<rect x="363.2" y="398.3" width="4.6" height="4.6" fill="#04101a" />
</g></g>
<polygon points="431,196.8 460.6,223.3 431,251" fill="#fe0000"/>
<polygon points="836.8,369.8 841.0,381.7 853.6,382.0 843.6,389.7 847.2,401.8 836.8,394.7 826.4,401.8 830.0,389.7 820.0,382.0 832.6,381.7" fill="#fe0000" stroke="#fff" stroke-width="4.6" stroke-linejoin="round" paint-order="stroke"/>
</svg>
</body></html>
